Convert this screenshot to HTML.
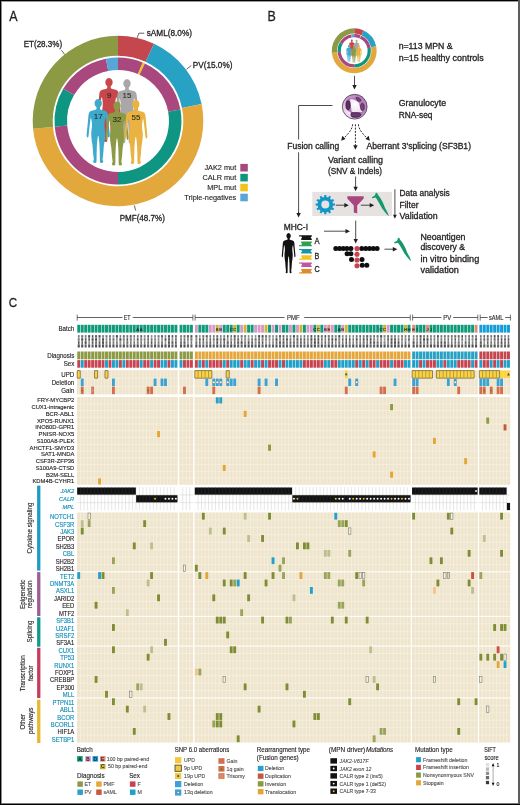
<!DOCTYPE html><html><head><meta charset="utf-8"><style>html,body{margin:0;padding:0;background:#fff;}svg{display:block;font-family:"Liberation Sans",sans-serif;will-change:transform;}</style></head><body>
<svg width="520" height="805" viewBox="0 0 520 805">
<rect x="0.00" y="0.00" width="520.00" height="805.00" fill="#fff"/>
<text x="9.20" y="21.20" font-size="14" fill="#231f20" stroke="#231f20" stroke-width="0.300" textLength="8.30" lengthAdjust="spacingAndGlyphs">A</text>
<path d="M118.00,35.70 A85.3,85.3 0 0 1 154.05,43.69 L145.60,61.82 A65.3,65.3 0 0 0 118.00,55.70 Z" fill="#c4474d"/>
<path d="M154.05,43.69 A85.3,85.3 0 0 1 201.59,103.99 L181.99,107.98 A65.3,65.3 0 0 0 145.60,61.82 Z" fill="#27a2c4"/>
<path d="M201.59,103.99 A85.3,85.3 0 1 1 33.05,128.73 L52.97,126.92 A65.3,65.3 0 1 0 181.99,107.98 Z" fill="#e3a83c"/>
<path d="M33.05,128.73 A85.3,85.3 0 0 1 118.00,35.70 L118.00,55.70 A65.3,65.3 0 0 0 52.97,126.92 Z" fill="#8c9a44"/>
<path d="M118.00,57.50 A63.5,63.5 0 0 1 142.81,62.55 L137.93,74.05 A51,51 0 0 0 118.00,70.00 Z" fill="#a8487f"/>
<path d="M142.81,62.55 A63.5,63.5 0 0 1 144.84,63.45 L139.55,74.78 A51,51 0 0 0 137.93,74.05 Z" fill="#f1c31d"/>
<path d="M144.84,63.45 A63.5,63.5 0 0 1 180.44,109.43 L168.15,111.71 A51,51 0 0 0 139.55,74.78 Z" fill="#a8487f"/>
<path d="M180.44,109.43 A63.5,63.5 0 0 1 118.00,184.50 L118.00,172.00 A51,51 0 0 0 168.15,111.71 Z" fill="#0e9683"/>
<path d="M118.00,184.50 A63.5,63.5 0 0 1 54.76,126.76 L67.21,125.62 A51,51 0 0 0 118.00,172.00 Z" fill="#a8487f"/>
<path d="M54.76,126.76 A63.5,63.5 0 0 1 63.29,88.77 L74.06,95.12 A51,51 0 0 0 67.21,125.62 Z" fill="#0e9683"/>
<path d="M63.29,88.77 A63.5,63.5 0 0 1 105.88,58.67 L108.27,70.94 A51,51 0 0 0 74.06,95.12 Z" fill="#a8487f"/>
<path d="M105.88,58.67 A63.5,63.5 0 0 1 118.00,57.50 L118.00,70.00 A51,51 0 0 0 108.27,70.94 Z" fill="#58a5d8"/>
<path d="M0.00,0.00 L0.88,0.14 L1.70,0.57 L2.41,1.24 L2.96,2.12 L3.32,3.15 L3.45,4.26 L3.35,5.37 L3.03,6.42 L2.51,7.33 L1.83,8.04 L1.60,8.60 L1.70,10.30 L3.20,11.00 L5.40,11.50 L7.00,12.10 L8.20,13.00 L8.90,14.50 L9.20,16.50 L9.50,20.00 L9.90,25.00 L10.40,30.00 L10.80,34.50 L10.95,36.60 L10.60,38.00 L9.90,38.50 L9.30,38.00 L9.05,36.50 L8.60,31.50 L8.00,26.00 L7.40,21.00 L7.10,19.30 L6.60,19.60 L6.10,22.50 L5.85,25.50 L5.95,28.50 L6.35,31.50 L6.60,34.50 L6.40,38.50 L6.00,42.50 L5.40,46.00 L5.15,49.00 L4.90,53.00 L4.50,57.00 L4.10,60.30 L4.50,61.60 L4.80,62.90 L4.20,63.70 L2.60,63.90 L1.70,63.60 L1.55,60.00 L1.50,55.00 L1.35,50.00 L1.20,46.00 L0.80,41.00 L0.40,37.80 L0.00,36.80 L-0.40,37.80 L-0.80,41.00 L-1.20,46.00 L-1.35,50.00 L-1.50,55.00 L-1.55,60.00 L-1.70,63.60 L-2.60,63.90 L-4.20,63.70 L-4.80,62.90 L-4.50,61.60 L-4.10,60.30 L-4.50,57.00 L-4.90,53.00 L-5.15,49.00 L-5.40,46.00 L-6.00,42.50 L-6.40,38.50 L-6.60,34.50 L-6.35,31.50 L-5.95,28.50 L-5.85,25.50 L-6.10,22.50 L-6.60,19.60 L-7.10,19.30 L-7.40,21.00 L-8.00,26.00 L-8.60,31.50 L-9.05,36.50 L-9.30,38.00 L-9.90,38.50 L-10.60,38.00 L-10.95,36.60 L-10.80,34.50 L-10.40,30.00 L-9.90,25.00 L-9.50,20.00 L-9.20,16.50 L-8.90,14.50 L-8.20,13.00 L-7.00,12.10 L-5.40,11.50 L-3.20,11.00 L-1.70,10.30 L-1.60,8.60 L-1.83,8.04 L-2.51,7.33 L-3.03,6.42 L-3.35,5.37 L-3.45,4.26 L-3.32,3.15 L-2.96,2.12 L-2.41,1.24 L-1.70,0.57 L-0.88,0.14 Z" transform="translate(109,78) scale(1.06,1)" fill="#c8474b"/>
<path d="M0.00,0.00 L0.88,0.14 L1.70,0.57 L2.41,1.24 L2.96,2.12 L3.32,3.15 L3.45,4.26 L3.35,5.37 L3.03,6.42 L2.51,7.33 L1.83,8.04 L1.60,8.60 L1.70,10.30 L3.20,11.00 L5.40,11.50 L7.00,12.10 L8.20,13.00 L8.90,14.50 L9.20,16.50 L9.50,20.00 L9.90,25.00 L10.40,30.00 L10.80,34.50 L10.95,36.60 L10.60,38.00 L9.90,38.50 L9.30,38.00 L9.05,36.50 L8.60,31.50 L8.00,26.00 L7.40,21.00 L7.10,19.30 L6.60,19.60 L6.10,22.50 L5.85,25.50 L5.95,28.50 L6.35,31.50 L6.60,34.50 L6.40,38.50 L6.00,42.50 L5.40,46.00 L5.15,49.00 L4.90,53.00 L4.50,57.00 L4.10,60.30 L4.50,61.60 L4.80,62.90 L4.20,63.70 L2.60,63.90 L1.70,63.60 L1.55,60.00 L1.50,55.00 L1.35,50.00 L1.20,46.00 L0.80,41.00 L0.40,37.80 L0.00,36.80 L-0.40,37.80 L-0.80,41.00 L-1.20,46.00 L-1.35,50.00 L-1.50,55.00 L-1.55,60.00 L-1.70,63.60 L-2.60,63.90 L-4.20,63.70 L-4.80,62.90 L-4.50,61.60 L-4.10,60.30 L-4.50,57.00 L-4.90,53.00 L-5.15,49.00 L-5.40,46.00 L-6.00,42.50 L-6.40,38.50 L-6.60,34.50 L-6.35,31.50 L-5.95,28.50 L-5.85,25.50 L-6.10,22.50 L-6.60,19.60 L-7.10,19.30 L-7.40,21.00 L-8.00,26.00 L-8.60,31.50 L-9.05,36.50 L-9.30,38.00 L-9.90,38.50 L-10.60,38.00 L-10.95,36.60 L-10.80,34.50 L-10.40,30.00 L-9.90,25.00 L-9.50,20.00 L-9.20,16.50 L-8.90,14.50 L-8.20,13.00 L-7.00,12.10 L-5.40,11.50 L-3.20,11.00 L-1.70,10.30 L-1.60,8.60 L-1.83,8.04 L-2.51,7.33 L-3.03,6.42 L-3.35,5.37 L-3.45,4.26 L-3.32,3.15 L-2.96,2.12 L-2.41,1.24 L-1.70,0.57 L-0.88,0.14 Z" transform="translate(127,79.2) scale(1.06,1)" fill="#a9a7a7"/>
<path d="M0.00,0.00 L0.88,0.14 L1.70,0.57 L2.41,1.24 L2.96,2.12 L3.32,3.15 L3.45,4.26 L3.35,5.37 L3.03,6.42 L2.51,7.33 L1.83,8.04 L1.60,8.60 L1.70,10.30 L3.20,11.00 L5.40,11.50 L7.00,12.10 L8.20,13.00 L8.90,14.50 L9.20,16.50 L9.50,20.00 L9.90,25.00 L10.40,30.00 L10.80,34.50 L10.95,36.60 L10.60,38.00 L9.90,38.50 L9.30,38.00 L9.05,36.50 L8.60,31.50 L8.00,26.00 L7.40,21.00 L7.10,19.30 L6.60,19.60 L6.10,22.50 L5.85,25.50 L5.95,28.50 L6.35,31.50 L6.60,34.50 L6.40,38.50 L6.00,42.50 L5.40,46.00 L5.15,49.00 L4.90,53.00 L4.50,57.00 L4.10,60.30 L4.50,61.60 L4.80,62.90 L4.20,63.70 L2.60,63.90 L1.70,63.60 L1.55,60.00 L1.50,55.00 L1.35,50.00 L1.20,46.00 L0.80,41.00 L0.40,37.80 L0.00,36.80 L-0.40,37.80 L-0.80,41.00 L-1.20,46.00 L-1.35,50.00 L-1.50,55.00 L-1.55,60.00 L-1.70,63.60 L-2.60,63.90 L-4.20,63.70 L-4.80,62.90 L-4.50,61.60 L-4.10,60.30 L-4.50,57.00 L-4.90,53.00 L-5.15,49.00 L-5.40,46.00 L-6.00,42.50 L-6.40,38.50 L-6.60,34.50 L-6.35,31.50 L-5.95,28.50 L-5.85,25.50 L-6.10,22.50 L-6.60,19.60 L-7.10,19.30 L-7.40,21.00 L-8.00,26.00 L-8.60,31.50 L-9.05,36.50 L-9.30,38.00 L-9.90,38.50 L-10.60,38.00 L-10.95,36.60 L-10.80,34.50 L-10.40,30.00 L-9.90,25.00 L-9.50,20.00 L-9.20,16.50 L-8.90,14.50 L-8.20,13.00 L-7.00,12.10 L-5.40,11.50 L-3.20,11.00 L-1.70,10.30 L-1.60,8.60 L-1.83,8.04 L-2.51,7.33 L-3.03,6.42 L-3.35,5.37 L-3.45,4.26 L-3.32,3.15 L-2.96,2.12 L-2.41,1.24 L-1.70,0.57 L-0.88,0.14 Z" transform="translate(98.2,99) scale(1.06,1)" fill="#3eaacb"/>
<path d="M0.00,0.00 L0.88,0.14 L1.70,0.57 L2.41,1.24 L2.96,2.12 L3.32,3.15 L3.45,4.26 L3.35,5.37 L3.03,6.42 L2.51,7.33 L1.83,8.04 L1.60,8.60 L1.70,10.30 L3.20,11.00 L5.40,11.50 L7.00,12.10 L8.20,13.00 L8.90,14.50 L9.20,16.50 L9.50,20.00 L9.90,25.00 L10.40,30.00 L10.80,34.50 L10.95,36.60 L10.60,38.00 L9.90,38.50 L9.30,38.00 L9.05,36.50 L8.60,31.50 L8.00,26.00 L7.40,21.00 L7.10,19.30 L6.60,19.60 L6.10,22.50 L5.85,25.50 L5.95,28.50 L6.35,31.50 L6.60,34.50 L6.40,38.50 L6.00,42.50 L5.40,46.00 L5.15,49.00 L4.90,53.00 L4.50,57.00 L4.10,60.30 L4.50,61.60 L4.80,62.90 L4.20,63.70 L2.60,63.90 L1.70,63.60 L1.55,60.00 L1.50,55.00 L1.35,50.00 L1.20,46.00 L0.80,41.00 L0.40,37.80 L0.00,36.80 L-0.40,37.80 L-0.80,41.00 L-1.20,46.00 L-1.35,50.00 L-1.50,55.00 L-1.55,60.00 L-1.70,63.60 L-2.60,63.90 L-4.20,63.70 L-4.80,62.90 L-4.50,61.60 L-4.10,60.30 L-4.50,57.00 L-4.90,53.00 L-5.15,49.00 L-5.40,46.00 L-6.00,42.50 L-6.40,38.50 L-6.60,34.50 L-6.35,31.50 L-5.95,28.50 L-5.85,25.50 L-6.10,22.50 L-6.60,19.60 L-7.10,19.30 L-7.40,21.00 L-8.00,26.00 L-8.60,31.50 L-9.05,36.50 L-9.30,38.00 L-9.90,38.50 L-10.60,38.00 L-10.95,36.60 L-10.80,34.50 L-10.40,30.00 L-9.90,25.00 L-9.50,20.00 L-9.20,16.50 L-8.90,14.50 L-8.20,13.00 L-7.00,12.10 L-5.40,11.50 L-3.20,11.00 L-1.70,10.30 L-1.60,8.60 L-1.83,8.04 L-2.51,7.33 L-3.03,6.42 L-3.35,5.37 L-3.45,4.26 L-3.32,3.15 L-2.96,2.12 L-2.41,1.24 L-1.70,0.57 L-0.88,0.14 Z" transform="translate(117,101.5) scale(1.06,1)" fill="#8d9a45"/>
<path d="M0.00,0.00 L0.88,0.14 L1.70,0.57 L2.41,1.24 L2.96,2.12 L3.32,3.15 L3.45,4.26 L3.35,5.37 L3.03,6.42 L2.51,7.33 L1.83,8.04 L1.60,8.60 L1.70,10.30 L3.20,11.00 L5.40,11.50 L7.00,12.10 L8.20,13.00 L8.90,14.50 L9.20,16.50 L9.50,20.00 L9.90,25.00 L10.40,30.00 L10.80,34.50 L10.95,36.60 L10.60,38.00 L9.90,38.50 L9.30,38.00 L9.05,36.50 L8.60,31.50 L8.00,26.00 L7.40,21.00 L7.10,19.30 L6.60,19.60 L6.10,22.50 L5.85,25.50 L5.95,28.50 L6.35,31.50 L6.60,34.50 L6.40,38.50 L6.00,42.50 L5.40,46.00 L5.15,49.00 L4.90,53.00 L4.50,57.00 L4.10,60.30 L4.50,61.60 L4.80,62.90 L4.20,63.70 L2.60,63.90 L1.70,63.60 L1.55,60.00 L1.50,55.00 L1.35,50.00 L1.20,46.00 L0.80,41.00 L0.40,37.80 L0.00,36.80 L-0.40,37.80 L-0.80,41.00 L-1.20,46.00 L-1.35,50.00 L-1.50,55.00 L-1.55,60.00 L-1.70,63.60 L-2.60,63.90 L-4.20,63.70 L-4.80,62.90 L-4.50,61.60 L-4.10,60.30 L-4.50,57.00 L-4.90,53.00 L-5.15,49.00 L-5.40,46.00 L-6.00,42.50 L-6.40,38.50 L-6.60,34.50 L-6.35,31.50 L-5.95,28.50 L-5.85,25.50 L-6.10,22.50 L-6.60,19.60 L-7.10,19.30 L-7.40,21.00 L-8.00,26.00 L-8.60,31.50 L-9.05,36.50 L-9.30,38.00 L-9.90,38.50 L-10.60,38.00 L-10.95,36.60 L-10.80,34.50 L-10.40,30.00 L-9.90,25.00 L-9.50,20.00 L-9.20,16.50 L-8.90,14.50 L-8.20,13.00 L-7.00,12.10 L-5.40,11.50 L-3.20,11.00 L-1.70,10.30 L-1.60,8.60 L-1.83,8.04 L-2.51,7.33 L-3.03,6.42 L-3.35,5.37 L-3.45,4.26 L-3.32,3.15 L-2.96,2.12 L-2.41,1.24 L-1.70,0.57 L-0.88,0.14 Z" transform="translate(135.8,100) scale(1.06,1)" fill="#e9b241"/>
<text x="109.20" y="97.60" font-size="8" fill="#231f20" stroke="#231f20" stroke-width="0.050" text-anchor="middle">9</text>
<text x="127.00" y="98.00" font-size="8" fill="#231f20" stroke="#231f20" stroke-width="0.050" text-anchor="middle">15</text>
<text x="98.20" y="119.20" font-size="8" fill="#231f20" stroke="#231f20" stroke-width="0.050" text-anchor="middle">17</text>
<text x="117.00" y="122.00" font-size="8" fill="#231f20" stroke="#231f20" stroke-width="0.050" text-anchor="middle">32</text>
<text x="136.00" y="120.20" font-size="8" fill="#231f20" stroke="#231f20" stroke-width="0.050" text-anchor="middle">55</text>
<path d="M137.2,37.8 L138.9,33.2 L144.2,33.2" stroke="#231f20" stroke-width="0.7" fill="none"/>
<text x="146.70" y="36.40" font-size="8.4" fill="#231f20" stroke="#231f20" stroke-width="0.294" textLength="45.30" lengthAdjust="spacingAndGlyphs">sAML(8.0%)</text>
<path d="M186.5,69.2 L191.2,65.6" stroke="#231f20" stroke-width="0.7" fill="none"/>
<text x="192.80" y="67.50" font-size="8.4" fill="#231f20" stroke="#231f20" stroke-width="0.294" textLength="39.60" lengthAdjust="spacingAndGlyphs">PV(15.0%)</text>
<path d="M61.4,50.2 L64.8,54.6" stroke="#231f20" stroke-width="0.7" fill="none"/>
<text x="23.70" y="46.80" font-size="8.4" fill="#231f20" stroke="#231f20" stroke-width="0.294" textLength="38.40" lengthAdjust="spacingAndGlyphs">ET(28.3%)</text>
<path d="M134.4,205.4 L135.6,210.5" stroke="#231f20" stroke-width="0.7" fill="none"/>
<text x="119.70" y="220.50" font-size="8.4" fill="#231f20" stroke="#231f20" stroke-width="0.294" textLength="45.20" lengthAdjust="spacingAndGlyphs">PMF(48.7%)</text>
<rect x="240.30" y="163.90" width="7.50" height="7.60" fill="#a8487f"/>
<text x="236.20" y="170.30" font-size="7.4" fill="#231f20" stroke="#231f20" stroke-width="0.130" text-anchor="end" textLength="31.76" lengthAdjust="spacingAndGlyphs">JAK2 mut</text>
<rect x="240.30" y="173.83" width="7.50" height="7.60" fill="#0e9683"/>
<text x="236.20" y="180.23" font-size="7.4" fill="#231f20" stroke="#231f20" stroke-width="0.130" text-anchor="end" textLength="33.79" lengthAdjust="spacingAndGlyphs">CALR mut</text>
<rect x="240.30" y="183.76" width="7.50" height="7.60" fill="#f1c31d"/>
<text x="236.20" y="190.16" font-size="7.4" fill="#231f20" stroke="#231f20" stroke-width="0.130" text-anchor="end" textLength="29.04" lengthAdjust="spacingAndGlyphs">MPL mut</text>
<rect x="240.30" y="193.69" width="7.50" height="7.60" fill="#58a5d8"/>
<text x="236.20" y="200.09" font-size="7.4" fill="#231f20" stroke="#231f20" stroke-width="0.130" text-anchor="end" textLength="51.84" lengthAdjust="spacingAndGlyphs">Triple-negatives</text>
<text x="267.50" y="21.30" font-size="14" fill="#231f20" stroke="#231f20" stroke-width="0.300" textLength="8.30" lengthAdjust="spacingAndGlyphs">B</text>
<g transform="translate(354.2,50.8) scale(0.2635) translate(-118,-121)">
<path d="M118.00,35.70 A85.3,85.3 0 0 1 154.05,43.69 L145.60,61.82 A65.3,65.3 0 0 0 118.00,55.70 Z" fill="#c4474d"/>
<path d="M154.05,43.69 A85.3,85.3 0 0 1 201.59,103.99 L181.99,107.98 A65.3,65.3 0 0 0 145.60,61.82 Z" fill="#27a2c4"/>
<path d="M201.59,103.99 A85.3,85.3 0 1 1 33.05,128.73 L52.97,126.92 A65.3,65.3 0 1 0 181.99,107.98 Z" fill="#e3a83c"/>
<path d="M33.05,128.73 A85.3,85.3 0 0 1 118.00,35.70 L118.00,55.70 A65.3,65.3 0 0 0 52.97,126.92 Z" fill="#8c9a44"/>
<path d="M118.00,57.50 A63.5,63.5 0 0 1 142.81,62.55 L137.93,74.05 A51,51 0 0 0 118.00,70.00 Z" fill="#a8487f"/>
<path d="M142.81,62.55 A63.5,63.5 0 0 1 144.84,63.45 L139.55,74.78 A51,51 0 0 0 137.93,74.05 Z" fill="#f1c31d"/>
<path d="M144.84,63.45 A63.5,63.5 0 0 1 180.44,109.43 L168.15,111.71 A51,51 0 0 0 139.55,74.78 Z" fill="#a8487f"/>
<path d="M180.44,109.43 A63.5,63.5 0 0 1 118.00,184.50 L118.00,172.00 A51,51 0 0 0 168.15,111.71 Z" fill="#0e9683"/>
<path d="M118.00,184.50 A63.5,63.5 0 0 1 54.76,126.76 L67.21,125.62 A51,51 0 0 0 118.00,172.00 Z" fill="#a8487f"/>
<path d="M54.76,126.76 A63.5,63.5 0 0 1 63.29,88.77 L74.06,95.12 A51,51 0 0 0 67.21,125.62 Z" fill="#0e9683"/>
<path d="M63.29,88.77 A63.5,63.5 0 0 1 105.88,58.67 L108.27,70.94 A51,51 0 0 0 74.06,95.12 Z" fill="#a8487f"/>
<path d="M105.88,58.67 A63.5,63.5 0 0 1 118.00,57.50 L118.00,70.00 A51,51 0 0 0 108.27,70.94 Z" fill="#58a5d8"/>
<path d="M0.00,0.00 L0.88,0.14 L1.70,0.57 L2.41,1.24 L2.96,2.12 L3.32,3.15 L3.45,4.26 L3.35,5.37 L3.03,6.42 L2.51,7.33 L1.83,8.04 L1.60,8.60 L1.70,10.30 L3.20,11.00 L5.40,11.50 L7.00,12.10 L8.20,13.00 L8.90,14.50 L9.20,16.50 L9.50,20.00 L9.90,25.00 L10.40,30.00 L10.80,34.50 L10.95,36.60 L10.60,38.00 L9.90,38.50 L9.30,38.00 L9.05,36.50 L8.60,31.50 L8.00,26.00 L7.40,21.00 L7.10,19.30 L6.60,19.60 L6.10,22.50 L5.85,25.50 L5.95,28.50 L6.35,31.50 L6.60,34.50 L6.40,38.50 L6.00,42.50 L5.40,46.00 L5.15,49.00 L4.90,53.00 L4.50,57.00 L4.10,60.30 L4.50,61.60 L4.80,62.90 L4.20,63.70 L2.60,63.90 L1.70,63.60 L1.55,60.00 L1.50,55.00 L1.35,50.00 L1.20,46.00 L0.80,41.00 L0.40,37.80 L0.00,36.80 L-0.40,37.80 L-0.80,41.00 L-1.20,46.00 L-1.35,50.00 L-1.50,55.00 L-1.55,60.00 L-1.70,63.60 L-2.60,63.90 L-4.20,63.70 L-4.80,62.90 L-4.50,61.60 L-4.10,60.30 L-4.50,57.00 L-4.90,53.00 L-5.15,49.00 L-5.40,46.00 L-6.00,42.50 L-6.40,38.50 L-6.60,34.50 L-6.35,31.50 L-5.95,28.50 L-5.85,25.50 L-6.10,22.50 L-6.60,19.60 L-7.10,19.30 L-7.40,21.00 L-8.00,26.00 L-8.60,31.50 L-9.05,36.50 L-9.30,38.00 L-9.90,38.50 L-10.60,38.00 L-10.95,36.60 L-10.80,34.50 L-10.40,30.00 L-9.90,25.00 L-9.50,20.00 L-9.20,16.50 L-8.90,14.50 L-8.20,13.00 L-7.00,12.10 L-5.40,11.50 L-3.20,11.00 L-1.70,10.30 L-1.60,8.60 L-1.83,8.04 L-2.51,7.33 L-3.03,6.42 L-3.35,5.37 L-3.45,4.26 L-3.32,3.15 L-2.96,2.12 L-2.41,1.24 L-1.70,0.57 L-0.88,0.14 Z" transform="translate(109,78) scale(1.06,1)" fill="#c8474b"/>
<path d="M0.00,0.00 L0.88,0.14 L1.70,0.57 L2.41,1.24 L2.96,2.12 L3.32,3.15 L3.45,4.26 L3.35,5.37 L3.03,6.42 L2.51,7.33 L1.83,8.04 L1.60,8.60 L1.70,10.30 L3.20,11.00 L5.40,11.50 L7.00,12.10 L8.20,13.00 L8.90,14.50 L9.20,16.50 L9.50,20.00 L9.90,25.00 L10.40,30.00 L10.80,34.50 L10.95,36.60 L10.60,38.00 L9.90,38.50 L9.30,38.00 L9.05,36.50 L8.60,31.50 L8.00,26.00 L7.40,21.00 L7.10,19.30 L6.60,19.60 L6.10,22.50 L5.85,25.50 L5.95,28.50 L6.35,31.50 L6.60,34.50 L6.40,38.50 L6.00,42.50 L5.40,46.00 L5.15,49.00 L4.90,53.00 L4.50,57.00 L4.10,60.30 L4.50,61.60 L4.80,62.90 L4.20,63.70 L2.60,63.90 L1.70,63.60 L1.55,60.00 L1.50,55.00 L1.35,50.00 L1.20,46.00 L0.80,41.00 L0.40,37.80 L0.00,36.80 L-0.40,37.80 L-0.80,41.00 L-1.20,46.00 L-1.35,50.00 L-1.50,55.00 L-1.55,60.00 L-1.70,63.60 L-2.60,63.90 L-4.20,63.70 L-4.80,62.90 L-4.50,61.60 L-4.10,60.30 L-4.50,57.00 L-4.90,53.00 L-5.15,49.00 L-5.40,46.00 L-6.00,42.50 L-6.40,38.50 L-6.60,34.50 L-6.35,31.50 L-5.95,28.50 L-5.85,25.50 L-6.10,22.50 L-6.60,19.60 L-7.10,19.30 L-7.40,21.00 L-8.00,26.00 L-8.60,31.50 L-9.05,36.50 L-9.30,38.00 L-9.90,38.50 L-10.60,38.00 L-10.95,36.60 L-10.80,34.50 L-10.40,30.00 L-9.90,25.00 L-9.50,20.00 L-9.20,16.50 L-8.90,14.50 L-8.20,13.00 L-7.00,12.10 L-5.40,11.50 L-3.20,11.00 L-1.70,10.30 L-1.60,8.60 L-1.83,8.04 L-2.51,7.33 L-3.03,6.42 L-3.35,5.37 L-3.45,4.26 L-3.32,3.15 L-2.96,2.12 L-2.41,1.24 L-1.70,0.57 L-0.88,0.14 Z" transform="translate(127,79.2) scale(1.06,1)" fill="#a9a7a7"/>
<path d="M0.00,0.00 L0.88,0.14 L1.70,0.57 L2.41,1.24 L2.96,2.12 L3.32,3.15 L3.45,4.26 L3.35,5.37 L3.03,6.42 L2.51,7.33 L1.83,8.04 L1.60,8.60 L1.70,10.30 L3.20,11.00 L5.40,11.50 L7.00,12.10 L8.20,13.00 L8.90,14.50 L9.20,16.50 L9.50,20.00 L9.90,25.00 L10.40,30.00 L10.80,34.50 L10.95,36.60 L10.60,38.00 L9.90,38.50 L9.30,38.00 L9.05,36.50 L8.60,31.50 L8.00,26.00 L7.40,21.00 L7.10,19.30 L6.60,19.60 L6.10,22.50 L5.85,25.50 L5.95,28.50 L6.35,31.50 L6.60,34.50 L6.40,38.50 L6.00,42.50 L5.40,46.00 L5.15,49.00 L4.90,53.00 L4.50,57.00 L4.10,60.30 L4.50,61.60 L4.80,62.90 L4.20,63.70 L2.60,63.90 L1.70,63.60 L1.55,60.00 L1.50,55.00 L1.35,50.00 L1.20,46.00 L0.80,41.00 L0.40,37.80 L0.00,36.80 L-0.40,37.80 L-0.80,41.00 L-1.20,46.00 L-1.35,50.00 L-1.50,55.00 L-1.55,60.00 L-1.70,63.60 L-2.60,63.90 L-4.20,63.70 L-4.80,62.90 L-4.50,61.60 L-4.10,60.30 L-4.50,57.00 L-4.90,53.00 L-5.15,49.00 L-5.40,46.00 L-6.00,42.50 L-6.40,38.50 L-6.60,34.50 L-6.35,31.50 L-5.95,28.50 L-5.85,25.50 L-6.10,22.50 L-6.60,19.60 L-7.10,19.30 L-7.40,21.00 L-8.00,26.00 L-8.60,31.50 L-9.05,36.50 L-9.30,38.00 L-9.90,38.50 L-10.60,38.00 L-10.95,36.60 L-10.80,34.50 L-10.40,30.00 L-9.90,25.00 L-9.50,20.00 L-9.20,16.50 L-8.90,14.50 L-8.20,13.00 L-7.00,12.10 L-5.40,11.50 L-3.20,11.00 L-1.70,10.30 L-1.60,8.60 L-1.83,8.04 L-2.51,7.33 L-3.03,6.42 L-3.35,5.37 L-3.45,4.26 L-3.32,3.15 L-2.96,2.12 L-2.41,1.24 L-1.70,0.57 L-0.88,0.14 Z" transform="translate(98.2,99) scale(1.06,1)" fill="#3eaacb"/>
<path d="M0.00,0.00 L0.88,0.14 L1.70,0.57 L2.41,1.24 L2.96,2.12 L3.32,3.15 L3.45,4.26 L3.35,5.37 L3.03,6.42 L2.51,7.33 L1.83,8.04 L1.60,8.60 L1.70,10.30 L3.20,11.00 L5.40,11.50 L7.00,12.10 L8.20,13.00 L8.90,14.50 L9.20,16.50 L9.50,20.00 L9.90,25.00 L10.40,30.00 L10.80,34.50 L10.95,36.60 L10.60,38.00 L9.90,38.50 L9.30,38.00 L9.05,36.50 L8.60,31.50 L8.00,26.00 L7.40,21.00 L7.10,19.30 L6.60,19.60 L6.10,22.50 L5.85,25.50 L5.95,28.50 L6.35,31.50 L6.60,34.50 L6.40,38.50 L6.00,42.50 L5.40,46.00 L5.15,49.00 L4.90,53.00 L4.50,57.00 L4.10,60.30 L4.50,61.60 L4.80,62.90 L4.20,63.70 L2.60,63.90 L1.70,63.60 L1.55,60.00 L1.50,55.00 L1.35,50.00 L1.20,46.00 L0.80,41.00 L0.40,37.80 L0.00,36.80 L-0.40,37.80 L-0.80,41.00 L-1.20,46.00 L-1.35,50.00 L-1.50,55.00 L-1.55,60.00 L-1.70,63.60 L-2.60,63.90 L-4.20,63.70 L-4.80,62.90 L-4.50,61.60 L-4.10,60.30 L-4.50,57.00 L-4.90,53.00 L-5.15,49.00 L-5.40,46.00 L-6.00,42.50 L-6.40,38.50 L-6.60,34.50 L-6.35,31.50 L-5.95,28.50 L-5.85,25.50 L-6.10,22.50 L-6.60,19.60 L-7.10,19.30 L-7.40,21.00 L-8.00,26.00 L-8.60,31.50 L-9.05,36.50 L-9.30,38.00 L-9.90,38.50 L-10.60,38.00 L-10.95,36.60 L-10.80,34.50 L-10.40,30.00 L-9.90,25.00 L-9.50,20.00 L-9.20,16.50 L-8.90,14.50 L-8.20,13.00 L-7.00,12.10 L-5.40,11.50 L-3.20,11.00 L-1.70,10.30 L-1.60,8.60 L-1.83,8.04 L-2.51,7.33 L-3.03,6.42 L-3.35,5.37 L-3.45,4.26 L-3.32,3.15 L-2.96,2.12 L-2.41,1.24 L-1.70,0.57 L-0.88,0.14 Z" transform="translate(117,101.5) scale(1.06,1)" fill="#8d9a45"/>
<path d="M0.00,0.00 L0.88,0.14 L1.70,0.57 L2.41,1.24 L2.96,2.12 L3.32,3.15 L3.45,4.26 L3.35,5.37 L3.03,6.42 L2.51,7.33 L1.83,8.04 L1.60,8.60 L1.70,10.30 L3.20,11.00 L5.40,11.50 L7.00,12.10 L8.20,13.00 L8.90,14.50 L9.20,16.50 L9.50,20.00 L9.90,25.00 L10.40,30.00 L10.80,34.50 L10.95,36.60 L10.60,38.00 L9.90,38.50 L9.30,38.00 L9.05,36.50 L8.60,31.50 L8.00,26.00 L7.40,21.00 L7.10,19.30 L6.60,19.60 L6.10,22.50 L5.85,25.50 L5.95,28.50 L6.35,31.50 L6.60,34.50 L6.40,38.50 L6.00,42.50 L5.40,46.00 L5.15,49.00 L4.90,53.00 L4.50,57.00 L4.10,60.30 L4.50,61.60 L4.80,62.90 L4.20,63.70 L2.60,63.90 L1.70,63.60 L1.55,60.00 L1.50,55.00 L1.35,50.00 L1.20,46.00 L0.80,41.00 L0.40,37.80 L0.00,36.80 L-0.40,37.80 L-0.80,41.00 L-1.20,46.00 L-1.35,50.00 L-1.50,55.00 L-1.55,60.00 L-1.70,63.60 L-2.60,63.90 L-4.20,63.70 L-4.80,62.90 L-4.50,61.60 L-4.10,60.30 L-4.50,57.00 L-4.90,53.00 L-5.15,49.00 L-5.40,46.00 L-6.00,42.50 L-6.40,38.50 L-6.60,34.50 L-6.35,31.50 L-5.95,28.50 L-5.85,25.50 L-6.10,22.50 L-6.60,19.60 L-7.10,19.30 L-7.40,21.00 L-8.00,26.00 L-8.60,31.50 L-9.05,36.50 L-9.30,38.00 L-9.90,38.50 L-10.60,38.00 L-10.95,36.60 L-10.80,34.50 L-10.40,30.00 L-9.90,25.00 L-9.50,20.00 L-9.20,16.50 L-8.90,14.50 L-8.20,13.00 L-7.00,12.10 L-5.40,11.50 L-3.20,11.00 L-1.70,10.30 L-1.60,8.60 L-1.83,8.04 L-2.51,7.33 L-3.03,6.42 L-3.35,5.37 L-3.45,4.26 L-3.32,3.15 L-2.96,2.12 L-2.41,1.24 L-1.70,0.57 L-0.88,0.14 Z" transform="translate(135.8,100) scale(1.06,1)" fill="#e9b241"/>
</g>
<text x="398.70" y="49.20" font-size="8.4" fill="#231f20" stroke="#231f20" stroke-width="0.294" textLength="53.80" lengthAdjust="spacingAndGlyphs">n=113 MPN &amp;</text>
<text x="398.70" y="60.80" font-size="8.4" fill="#231f20" stroke="#231f20" stroke-width="0.294" textLength="85.10" lengthAdjust="spacingAndGlyphs">n=15 healthy controls</text>
<path d="M354.5,75.8 L354.5,85.6" stroke="#231f20" stroke-width="0.8"/>
<path d="M352.3,85.1 L356.7,85.1 L354.5,89.6 Z" fill="#231f20"/>
<defs><radialGradient id="cellg" cx="0.3" cy="0.7" r="0.85"><stop offset="0" stop-color="#f6ecf6"/><stop offset="0.45" stop-color="#deb9df"/><stop offset="1" stop-color="#a56aab"/></radialGradient><radialGradient id="cellw" cx="0.4" cy="0.4" r="0.7"><stop offset="0" stop-color="#ffffff"/><stop offset="1" stop-color="#eedcef"/></radialGradient></defs>
<circle cx="354.7" cy="106.7" r="12.4" fill="url(#cellg)" stroke="#3b2a3d" stroke-width="0.7"/>
<path d="M346,103 C345.5,99.5 349,97.6 352,97.8 L358,97.1 C361,97.4 362.2,100 362.6,102 C365,103.2 365.8,107 365.1,110 C364.3,113 362.4,114 361.3,115.6 C359.3,117.7 354,118 351.5,117.2 C350.2,116.6 350.6,113.6 350.9,112.6 C349,111.6 346.2,110 345.9,106 Z" fill="#b07ab6"/>
<path d="M350.4,98.9 C352.5,99.3 355.6,99.4 357.3,101.6 C358.3,102.7 359.7,103 359.4,104.6 C359,105.9 360,107.2 362.3,109.2 C363,110.4 362.5,111.8 361.3,111.9 L357.3,112.2 L352.1,112.3 C351.5,111 351.3,109.5 351,107 C350.8,105 350.6,103 350.3,101.4 Z" fill="url(#cellw)"/>
<ellipse cx="348" cy="105.3" rx="2.1" ry="4.5" fill="#5e3064" stroke="#1e1020" stroke-width="0.6"/>
<path d="M351.6,112.7 L358,112.7 C360,112.9 361.2,113.9 360.8,115.5 C360,117 357,117.5 354,117.3 C352,117.1 351.1,116.4 351.2,114.5 Z" fill="#6a3872" stroke="#1e1020" stroke-width="0.6"/>
<ellipse cx="362.4" cy="106.9" rx="1.9" ry="3.7" fill="#7a4482" stroke="#1e1020" stroke-width="0.5"/>
<path d="M356,97.5 C358.5,97.1 360.8,98.6 361,100.6 C360,101.6 358.4,101.3 357.4,100.7 Z" fill="#7a4482" stroke="#1e1020" stroke-width="0.5"/>
<text x="398.75" y="105.50" font-size="8.4" fill="#231f20" stroke="#231f20" stroke-width="0.294" textLength="47.30" lengthAdjust="spacingAndGlyphs">Granulocyte</text>
<text x="398.75" y="117.50" font-size="8.4" fill="#231f20" stroke="#231f20" stroke-width="0.294" textLength="33.70" lengthAdjust="spacingAndGlyphs">RNA-seq</text>
<path d="M332.5,105.5 L298.6,105.5 L298.6,139.5 M298.6,152.3 L298.6,213" stroke="#231f20" stroke-width="0.8" fill="none"/>
<path d="M298.6,212 L298.6,213.6" stroke="#231f20" stroke-width="0.8"/>
<path d="M296.40000000000003,213.1 L300.8,213.1 L298.6,217.6 Z" fill="#231f20"/>
<path d="M352.6,124.3 C352.4,129 349,133 344,138 M355.4,124.3 L355.4,145.5 M358.4,124.3 C358.6,129 362,133 366.8,138" stroke="#231f20" stroke-width="0.95" stroke-dasharray="2,1.3" fill="none"/>
<path d="M341.2,140.8 L342.3,135.8 L345.6,139 Z" fill="#231f20"/>
<path d="M353.2,145.2 L357.6,145.2 L355.4,149.8 Z" fill="#231f20"/>
<path d="M369.8,140.8 L368.7,135.8 L365.4,139 Z" fill="#231f20"/>
<text x="287.30" y="148.80" font-size="8.4" fill="#231f20" stroke="#231f20" stroke-width="0.294" textLength="51.90" lengthAdjust="spacingAndGlyphs">Fusion calling</text>
<text x="366.50" y="148.80" font-size="8.4" fill="#231f20" stroke="#231f20" stroke-width="0.294" textLength="104.50" lengthAdjust="spacingAndGlyphs">Aberrant 3'splicing (SF3B1)</text>
<text x="328.00" y="162.60" font-size="8.4" fill="#231f20" stroke="#231f20" stroke-width="0.294" textLength="55.00" lengthAdjust="spacingAndGlyphs">Variant calling</text>
<text x="328.00" y="173.80" font-size="8.4" fill="#231f20" stroke="#231f20" stroke-width="0.294" textLength="54.00" lengthAdjust="spacingAndGlyphs">(SNV &amp; Indels)</text>
<path d="M355.6,176.5 L355.6,187.3" stroke="#231f20" stroke-width="0.8"/>
<path d="M353.40000000000003,186.8 L357.8,186.8 L355.6,191.3 Z" fill="#231f20"/>
<rect x="312.30" y="191.90" width="79.60" height="24.10" fill="#e6e2e2"/>
<polygon points="323.31,197.16 324.16,196.98 324.29,194.95 326.31,194.95 326.44,196.98 327.29,197.16 328.12,197.44 329.25,195.74 331.00,196.75 330.09,198.57 330.74,199.16 331.33,199.81 333.15,198.90 334.16,200.65 332.46,201.78 332.74,202.61 332.92,203.46 334.95,203.59 334.95,205.61 332.92,205.74 332.74,206.59 332.46,207.42 334.16,208.55 333.15,210.30 331.33,209.39 330.74,210.04 330.09,210.63 331.00,212.45 329.25,213.46 328.12,211.76 327.29,212.04 326.44,212.22 326.31,214.25 324.29,214.25 324.16,212.22 323.31,212.04 322.48,211.76 321.35,213.46 319.60,212.45 320.51,210.63 319.86,210.04 319.27,209.39 317.45,210.30 316.44,208.55 318.14,207.42 317.86,206.59 317.68,205.74 315.65,205.61 315.65,203.59 317.68,203.46 317.86,202.61 318.14,201.78 316.44,200.65 317.45,198.90 319.27,199.81 319.86,199.16 320.51,198.57 319.60,196.75 321.35,195.74 322.48,197.44" fill="#1097c8"/>
<circle cx="325.3" cy="204.6" r="4.0" fill="#e6e2e2"/>
<path d="M335.8,205.2 L344.8,205.2" stroke="#231f20" stroke-width="0.8"/>
<path d="M344.3,203.0 L344.3,207.39999999999998 L348.8,205.2 Z" fill="#231f20"/>
<path d="M347.3,196.2 L363.7,196.2 L363.7,198.6 L357.2,205.5 L357.2,213.5 L353.8,212.6 L353.8,205.5 L347.3,198.6 Z" fill="#a8477f"/>
<path d="M360.8,205.2 L370.2,205.2" stroke="#231f20" stroke-width="0.8"/>
<path d="M369.7,203.0 L369.7,207.39999999999998 L374.2,205.2 Z" fill="#231f20"/>
<path d="M376.3,192.7 L377.1,193.0 L377.8,194.6 L379.3,196.5 L380.7,198.5 L383.1,203 L385.1,208 L387.3,212 L388.7,215.5 L388.1,215.7 L385.0,212.2 L382.0,208.2 L379.2,203.2 L376.6,198.8 L375.6,197.6 L372.3,198.3 L371.8,197.2 L374.8,195.6 L375.3,194.5 L375.5,193.2 Z" fill="#14996c"/>
<path d="M394.9,189.2 L394.9,215.2" stroke="#231f20" stroke-width="0.8"/>
<path d="M393.0,214.7 L396.79999999999995,214.7 L394.9,218.7 Z" fill="#231f20"/>
<text x="399.50" y="196.20" font-size="8.4" fill="#231f20" stroke="#231f20" stroke-width="0.294" textLength="50.20" lengthAdjust="spacingAndGlyphs">Data analysis</text>
<text x="399.50" y="207.70" font-size="8.4" fill="#231f20" stroke="#231f20" stroke-width="0.294" textLength="19.00" lengthAdjust="spacingAndGlyphs">Filter</text>
<text x="399.50" y="218.50" font-size="8.4" fill="#231f20" stroke="#231f20" stroke-width="0.294" textLength="38.20" lengthAdjust="spacingAndGlyphs">Validation</text>
<text x="283.80" y="230.10" font-size="8.4" fill="#231f20" stroke="#231f20" stroke-width="0.294" textLength="24.20" lengthAdjust="spacingAndGlyphs">MHC-I</text>
<path d="M0.00,0.00 L0.88,0.14 L1.70,0.57 L2.41,1.24 L2.96,2.12 L3.32,3.15 L3.45,4.26 L3.35,5.37 L3.03,6.42 L2.51,7.33 L1.83,8.04 L1.60,8.60 L1.70,10.30 L3.20,11.00 L5.40,11.50 L7.00,12.10 L8.20,13.00 L8.90,14.50 L9.20,16.50 L9.50,20.00 L9.90,25.00 L10.40,30.00 L10.80,34.50 L10.95,36.60 L10.60,38.00 L9.90,38.50 L9.30,38.00 L9.05,36.50 L8.60,31.50 L8.00,26.00 L7.40,21.00 L7.10,19.30 L6.60,19.60 L6.10,22.50 L5.85,25.50 L5.95,28.50 L6.35,31.50 L6.60,34.50 L6.40,38.50 L6.00,42.50 L5.40,46.00 L5.15,49.00 L4.90,53.00 L4.50,57.00 L4.10,60.30 L4.50,61.60 L4.80,62.90 L4.20,63.70 L2.60,63.90 L1.70,63.60 L1.55,60.00 L1.50,55.00 L1.35,50.00 L1.20,46.00 L0.80,41.00 L0.40,37.80 L0.00,36.80 L-0.40,37.80 L-0.80,41.00 L-1.20,46.00 L-1.35,50.00 L-1.50,55.00 L-1.55,60.00 L-1.70,63.60 L-2.60,63.90 L-4.20,63.70 L-4.80,62.90 L-4.50,61.60 L-4.10,60.30 L-4.50,57.00 L-4.90,53.00 L-5.15,49.00 L-5.40,46.00 L-6.00,42.50 L-6.40,38.50 L-6.60,34.50 L-6.35,31.50 L-5.95,28.50 L-5.85,25.50 L-6.10,22.50 L-6.60,19.60 L-7.10,19.30 L-7.40,21.00 L-8.00,26.00 L-8.60,31.50 L-9.05,36.50 L-9.30,38.00 L-9.90,38.50 L-10.60,38.00 L-10.95,36.60 L-10.80,34.50 L-10.40,30.00 L-9.90,25.00 L-9.50,20.00 L-9.20,16.50 L-8.90,14.50 L-8.20,13.00 L-7.00,12.10 L-5.40,11.50 L-3.20,11.00 L-1.70,10.30 L-1.60,8.60 L-1.83,8.04 L-2.51,7.33 L-3.03,6.42 L-3.35,5.37 L-3.45,4.26 L-3.32,3.15 L-2.96,2.12 L-2.41,1.24 L-1.70,0.57 L-0.88,0.14 Z" transform="translate(288.6,233.1) scale(0.628)" fill="#111"/>
<path d="M301.2,235.3 L311.8,235.3 L311.8,236.5 C310.3,236.9 310.3,238.3 311.8,238.70000000000002 L311.8,239.9 L301.2,239.9 L301.2,238.6 C302.3,238.20000000000002 302.3,237.0 301.2,236.60000000000002 Z" fill="#141414"/>
<rect x="299.0" y="235.30" width="2.6" height="1.1" fill="#141414"/>
<path d="M301.2,241.6 L311.8,241.6 L311.8,242.79999999999998 C310.3,243.2 310.3,244.6 311.8,245.0 L311.8,246.2 L301.2,246.2 L301.2,244.89999999999998 C302.3,244.5 302.3,243.29999999999998 301.2,242.9 Z" fill="#2f9e4d"/>
<rect x="299.0" y="245.10" width="2.6" height="1.1" fill="#2f9e4d"/>
<path d="M301.2,248.9 L311.8,248.9 L311.8,250.1 C310.3,250.5 310.3,251.9 311.8,252.3 L311.8,253.5 L301.2,253.5 L301.2,252.2 C302.3,251.8 302.3,250.6 301.2,250.20000000000002 Z" fill="#1496b0"/>
<rect x="299.0" y="248.90" width="2.6" height="1.1" fill="#1496b0"/>
<path d="M301.2,255.2 L311.8,255.2 L311.8,256.4 C310.3,256.8 310.3,258.2 311.8,258.6 L311.8,259.8 L301.2,259.8 L301.2,258.5 C302.3,258.1 302.3,256.9 301.2,256.5 Z" fill="#f2c21d"/>
<rect x="299.0" y="258.70" width="2.6" height="1.1" fill="#f2c21d"/>
<path d="M301.2,262.5 L311.8,262.5 L311.8,263.7 C310.3,264.1 310.3,265.5 311.8,265.90000000000003 L311.8,267.1 L301.2,267.1 L301.2,265.8 C302.3,265.40000000000003 302.3,264.2 301.2,263.8 Z" fill="#c2559f"/>
<rect x="299.0" y="262.50" width="2.6" height="1.1" fill="#c2559f"/>
<path d="M301.2,268.9 L311.8,268.9 L311.8,270.09999999999997 C310.3,270.5 310.3,271.9 311.8,272.3 L311.8,273.5 L301.2,273.5 L301.2,272.2 C302.3,271.8 302.3,270.59999999999997 301.2,270.2 Z" fill="#df8a2e"/>
<rect x="299.0" y="272.40" width="2.6" height="1.1" fill="#df8a2e"/>
<text x="314.40" y="244.10" font-size="8.4" fill="#231f20" stroke="#231f20" stroke-width="0.294" textLength="5.10" lengthAdjust="spacingAndGlyphs">A</text>
<text x="314.60" y="258.50" font-size="8.4" fill="#231f20" stroke="#231f20" stroke-width="0.294" textLength="4.80" lengthAdjust="spacingAndGlyphs">B</text>
<text x="314.40" y="272.40" font-size="8.4" fill="#231f20" stroke="#231f20" stroke-width="0.294" textLength="5.20" lengthAdjust="spacingAndGlyphs">C</text>
<path d="M324,231.2 L346.0,231.2" stroke="#231f20" stroke-width="0.8"/>
<path d="M345.5,229.0 L345.5,233.39999999999998 L350,231.2 Z" fill="#231f20"/>
<path d="M355.7,220.6 L355.7,239.4" stroke="#231f20" stroke-width="0.8"/>
<path d="M353.5,238.9 L357.9,238.9 L355.7,243.4 Z" fill="#231f20"/>
<circle cx="335.8" cy="248.5" r="2.5" fill="#0e0e0e"/>
<circle cx="339.5" cy="248.5" r="2.5" fill="#0e0e0e"/>
<circle cx="343.2" cy="248.5" r="2.5" fill="#0e0e0e"/>
<circle cx="346.9" cy="248.5" r="2.5" fill="#0e0e0e"/>
<circle cx="350.9" cy="248.5" r="2.5" fill="#0e0e0e"/>
<circle cx="361.7" cy="248.5" r="2.5" fill="#0e0e0e"/>
<circle cx="365.7" cy="248.5" r="2.5" fill="#0e0e0e"/>
<circle cx="369.5" cy="248.5" r="2.5" fill="#0e0e0e"/>
<circle cx="373.3" cy="248.5" r="2.5" fill="#0e0e0e"/>
<circle cx="377.1" cy="248.5" r="2.5" fill="#0e0e0e"/>
<circle cx="347.1" cy="253.8" r="2.5" fill="#0e0e0e"/>
<circle cx="350.9" cy="253.8" r="2.5" fill="#0e0e0e"/>
<circle cx="351.5" cy="259.4" r="2.5" fill="#0e0e0e"/>
<circle cx="362.0" cy="259.4" r="2.5" fill="#0e0e0e"/>
<circle cx="362.2" cy="265.2" r="2.5" fill="#0e0e0e"/>
<circle cx="366.8" cy="265.2" r="2.5" fill="#0e0e0e"/>
<circle cx="357.0" cy="248.6" r="2.55" fill="#c8434e"/>
<circle cx="357.0" cy="254.3" r="2.55" fill="#c8434e"/>
<circle cx="357.0" cy="260.0" r="2.55" fill="#c8434e"/>
<circle cx="357.0" cy="265.7" r="2.55" fill="#c8434e"/>
<path d="M384.5,249.2 L393.3,249.2" stroke="#231f20" stroke-width="0.8"/>
<path d="M392.8,247.0 L392.8,251.39999999999998 L397.3,249.2 Z" fill="#231f20"/>
<path d="M376.3,192.7 L377.1,193.0 L377.8,194.6 L379.3,196.5 L380.7,198.5 L383.1,203 L385.1,208 L387.3,212 L388.7,215.5 L388.1,215.7 L385.0,212.2 L382.0,208.2 L379.2,203.2 L376.6,198.8 L375.6,197.6 L372.3,198.3 L371.8,197.2 L374.8,195.6 L375.3,194.5 L375.5,193.2 Z" transform="translate(22.3,45.1)" fill="#14996c"/>
<text x="420.40" y="239.50" font-size="8.4" fill="#231f20" stroke="#231f20" stroke-width="0.294" textLength="45.10" lengthAdjust="spacingAndGlyphs">Neoantigen</text>
<text x="420.40" y="250.30" font-size="8.4" fill="#231f20" stroke="#231f20" stroke-width="0.294" textLength="44.60" lengthAdjust="spacingAndGlyphs">discovery &amp;</text>
<text x="420.40" y="261.50" font-size="8.4" fill="#231f20" stroke="#231f20" stroke-width="0.294" textLength="58.90" lengthAdjust="spacingAndGlyphs">in vitro binding</text>
<text x="420.40" y="272.60" font-size="8.4" fill="#231f20" stroke="#231f20" stroke-width="0.294" textLength="38.40" lengthAdjust="spacingAndGlyphs">validation</text>
<text x="8.70" y="306.80" font-size="13.4" fill="#231f20" stroke="#231f20" stroke-width="0.300" textLength="8.40" lengthAdjust="spacingAndGlyphs">C</text>
<path d="M77.0,317.5 L122.5,317.5 M132.8,317.5 L192.9,317.5 M195.1,317.5 L284.6,317.5 M304.2,317.5 L410.2,317.5 M412.6,317.5 L441.4,317.5 M453.2,317.5 L477.8,317.5 M480.2,317.5 L487.7,317.5 M505.2,317.5 L510.5,317.5" stroke="#3a3a3a" stroke-width="0.8" fill="none"/>
<path d="M77.2,314.6 L77.2,320.6 M192.9,314.6 L192.9,320.6 M195.1,314.6 L195.1,320.6 M410.3,314.6 L410.3,320.6 M412.6,314.6 L412.6,320.6 M477.8,314.6 L477.8,320.6 M480.2,314.6 L480.2,320.6 M510.4,314.6 L510.4,320.6" stroke="#3a3a3a" stroke-width="0.7" fill="none"/>
<text x="127.20" y="319.70" font-size="6.8" fill="#2a2a2a" stroke="#2a2a2a" stroke-width="0.130" text-anchor="middle" textLength="6.70" lengthAdjust="spacingAndGlyphs">ET</text>
<text x="293.30" y="319.70" font-size="6.8" fill="#2a2a2a" stroke="#2a2a2a" stroke-width="0.130" text-anchor="middle" textLength="12.60" lengthAdjust="spacingAndGlyphs">PMF</text>
<text x="447.30" y="319.70" font-size="6.8" fill="#2a2a2a" stroke="#2a2a2a" stroke-width="0.130" text-anchor="middle" textLength="8.00" lengthAdjust="spacingAndGlyphs">PV</text>
<text x="496.20" y="319.70" font-size="6.8" fill="#2a2a2a" stroke="#2a2a2a" stroke-width="0.130" text-anchor="middle" textLength="14.30" lengthAdjust="spacingAndGlyphs">sAML</text>
<rect x="77.28" y="324.80" width="2.92" height="7.80" fill="#0f9a79"/>
<rect x="80.75" y="324.80" width="2.92" height="7.80" fill="#0f9a79"/>
<rect x="84.22" y="324.80" width="2.92" height="7.80" fill="#0f9a79"/>
<rect x="87.69" y="324.80" width="2.92" height="7.80" fill="#0f9a79"/>
<rect x="91.16" y="324.80" width="2.92" height="7.80" fill="#0f9a79"/>
<rect x="94.62" y="324.80" width="2.92" height="7.80" fill="#0f9a79"/>
<rect x="98.09" y="324.80" width="2.92" height="7.80" fill="#0f9a79"/>
<rect x="101.57" y="324.80" width="2.92" height="7.80" fill="#0f9a79"/>
<rect x="105.04" y="324.80" width="2.92" height="7.80" fill="#0f9a79"/>
<rect x="108.51" y="324.80" width="2.92" height="7.80" fill="#0f9a79"/>
<rect x="111.98" y="324.80" width="2.92" height="7.80" fill="#0f9a79"/>
<rect x="115.45" y="324.80" width="2.92" height="7.80" fill="#0f9a79"/>
<rect x="118.92" y="324.80" width="2.92" height="7.80" fill="#0f9a79"/>
<rect x="122.39" y="324.80" width="2.92" height="7.80" fill="#0f9a79"/>
<rect x="125.86" y="324.80" width="2.92" height="7.80" fill="#0f9a79"/>
<rect x="129.33" y="324.80" width="2.92" height="7.80" fill="#0f9a79"/>
<rect x="132.80" y="324.80" width="2.92" height="7.80" fill="#0f9a79"/>
<rect x="136.27" y="324.80" width="2.92" height="7.80" fill="#0f9a79"/>
<rect x="139.74" y="324.80" width="2.92" height="7.80" fill="#0f9a79"/>
<rect x="143.21" y="324.80" width="2.92" height="7.80" fill="#0f9a79"/>
<rect x="146.68" y="324.80" width="2.92" height="7.80" fill="#0f9a79"/>
<rect x="150.15" y="324.80" width="2.92" height="7.80" fill="#0f9a79"/>
<rect x="153.62" y="324.80" width="2.92" height="7.80" fill="#0f9a79"/>
<rect x="157.09" y="324.80" width="2.92" height="7.80" fill="#0f9a79"/>
<rect x="160.56" y="324.80" width="2.92" height="7.80" fill="#0f9a79"/>
<rect x="164.03" y="324.80" width="2.92" height="7.80" fill="#0f9a79"/>
<rect x="167.50" y="324.80" width="2.92" height="7.80" fill="#0f9a79"/>
<rect x="170.97" y="324.80" width="2.92" height="7.80" fill="#0f9a79"/>
<rect x="174.44" y="324.80" width="2.92" height="7.80" fill="#0f9a79"/>
<rect x="179.58" y="324.80" width="2.91" height="7.80" fill="#0f9a79"/>
<rect x="183.04" y="324.80" width="2.91" height="7.80" fill="#0f9a79"/>
<rect x="186.50" y="324.80" width="2.91" height="7.80" fill="#0f9a79"/>
<rect x="189.96" y="324.80" width="2.91" height="7.80" fill="#0f9a79"/>
<rect x="194.88" y="324.80" width="2.94" height="7.80" fill="#d49bc8"/>
<rect x="198.36" y="324.80" width="2.94" height="7.80" fill="#0f9a79"/>
<rect x="201.85" y="324.80" width="2.94" height="7.80" fill="#0f9a79"/>
<rect x="205.33" y="324.80" width="2.94" height="7.80" fill="#0f9a79"/>
<rect x="208.82" y="324.80" width="2.94" height="7.80" fill="#d49bc8"/>
<rect x="212.31" y="324.80" width="2.94" height="7.80" fill="#d49bc8"/>
<rect x="215.79" y="324.80" width="2.94" height="7.80" fill="#c8b73c"/>
<rect x="219.28" y="324.80" width="2.94" height="7.80" fill="#d49bc8"/>
<rect x="222.76" y="324.80" width="2.94" height="7.80" fill="#0f9a79"/>
<rect x="226.25" y="324.80" width="2.94" height="7.80" fill="#0f9a79"/>
<rect x="229.73" y="324.80" width="2.94" height="7.80" fill="#0f9a79"/>
<rect x="233.22" y="324.80" width="2.94" height="7.80" fill="#c8b73c"/>
<rect x="236.71" y="324.80" width="2.94" height="7.80" fill="#0f9a79"/>
<rect x="240.19" y="324.80" width="2.94" height="7.80" fill="#d49bc8"/>
<rect x="243.68" y="324.80" width="2.94" height="7.80" fill="#c8b73c"/>
<rect x="247.16" y="324.80" width="2.94" height="7.80" fill="#0f9a79"/>
<rect x="250.65" y="324.80" width="2.94" height="7.80" fill="#0f9a79"/>
<rect x="254.14" y="324.80" width="2.94" height="7.80" fill="#d49bc8"/>
<rect x="257.62" y="324.80" width="2.94" height="7.80" fill="#d49bc8"/>
<rect x="261.11" y="324.80" width="2.94" height="7.80" fill="#d49bc8"/>
<rect x="264.59" y="324.80" width="2.94" height="7.80" fill="#c8b73c"/>
<rect x="268.08" y="324.80" width="2.94" height="7.80" fill="#0f9a79"/>
<rect x="271.57" y="324.80" width="2.94" height="7.80" fill="#d49bc8"/>
<rect x="275.05" y="324.80" width="2.94" height="7.80" fill="#0f9a79"/>
<rect x="278.54" y="324.80" width="2.94" height="7.80" fill="#d49bc8"/>
<rect x="282.02" y="324.80" width="2.94" height="7.80" fill="#0f9a79"/>
<rect x="285.51" y="324.80" width="2.94" height="7.80" fill="#0f9a79"/>
<rect x="289.00" y="324.80" width="2.94" height="7.80" fill="#d49bc8"/>
<rect x="292.48" y="324.80" width="2.94" height="7.80" fill="#0f9a79"/>
<rect x="295.97" y="324.80" width="2.94" height="7.80" fill="#d49bc8"/>
<rect x="299.45" y="324.80" width="2.94" height="7.80" fill="#c8b73c"/>
<rect x="302.94" y="324.80" width="2.94" height="7.80" fill="#0f9a79"/>
<rect x="306.43" y="324.80" width="2.94" height="7.80" fill="#d49bc8"/>
<rect x="309.91" y="324.80" width="2.94" height="7.80" fill="#d49bc8"/>
<rect x="313.40" y="324.80" width="2.94" height="7.80" fill="#0f9a79"/>
<rect x="316.88" y="324.80" width="2.94" height="7.80" fill="#c8b73c"/>
<rect x="320.37" y="324.80" width="2.94" height="7.80" fill="#0f9a79"/>
<rect x="323.86" y="324.80" width="2.94" height="7.80" fill="#d49bc8"/>
<rect x="327.34" y="324.80" width="2.94" height="7.80" fill="#df8c7b"/>
<rect x="330.83" y="324.80" width="2.94" height="7.80" fill="#d49bc8"/>
<rect x="334.31" y="324.80" width="2.94" height="7.80" fill="#0f9a79"/>
<rect x="337.80" y="324.80" width="2.94" height="7.80" fill="#0f9a79"/>
<rect x="341.29" y="324.80" width="2.94" height="7.80" fill="#d49bc8"/>
<rect x="344.77" y="324.80" width="2.94" height="7.80" fill="#c8b73c"/>
<rect x="348.26" y="324.80" width="2.94" height="7.80" fill="#0f9a79"/>
<rect x="351.75" y="324.80" width="2.94" height="7.80" fill="#0f9a79"/>
<rect x="355.23" y="324.80" width="2.94" height="7.80" fill="#0f9a79"/>
<rect x="358.72" y="324.80" width="2.94" height="7.80" fill="#0f9a79"/>
<rect x="362.20" y="324.80" width="2.94" height="7.80" fill="#0f9a79"/>
<rect x="365.69" y="324.80" width="2.94" height="7.80" fill="#0f9a79"/>
<rect x="369.17" y="324.80" width="2.94" height="7.80" fill="#0f9a79"/>
<rect x="372.66" y="324.80" width="2.94" height="7.80" fill="#0f9a79"/>
<rect x="376.15" y="324.80" width="2.94" height="7.80" fill="#0f9a79"/>
<rect x="379.63" y="324.80" width="2.94" height="7.80" fill="#0f9a79"/>
<rect x="383.12" y="324.80" width="2.94" height="7.80" fill="#c8b73c"/>
<rect x="386.61" y="324.80" width="2.94" height="7.80" fill="#d49bc8"/>
<rect x="390.09" y="324.80" width="2.94" height="7.80" fill="#0f9a79"/>
<rect x="393.58" y="324.80" width="2.94" height="7.80" fill="#0f9a79"/>
<rect x="397.06" y="324.80" width="2.94" height="7.80" fill="#0f9a79"/>
<rect x="400.55" y="324.80" width="2.94" height="7.80" fill="#0f9a79"/>
<rect x="404.03" y="324.80" width="2.94" height="7.80" fill="#c8b73c"/>
<rect x="407.52" y="324.80" width="2.94" height="7.80" fill="#0f9a79"/>
<rect x="412.17" y="324.80" width="2.92" height="7.80" fill="#df8c7b"/>
<rect x="415.64" y="324.80" width="2.92" height="7.80" fill="#0f9a79"/>
<rect x="419.11" y="324.80" width="2.92" height="7.80" fill="#0f9a79"/>
<rect x="422.58" y="324.80" width="2.92" height="7.80" fill="#0f9a79"/>
<rect x="426.05" y="324.80" width="2.92" height="7.80" fill="#df8c7b"/>
<rect x="429.51" y="324.80" width="2.92" height="7.80" fill="#0f9a79"/>
<rect x="432.98" y="324.80" width="2.92" height="7.80" fill="#0f9a79"/>
<rect x="436.45" y="324.80" width="2.92" height="7.80" fill="#0f9a79"/>
<rect x="439.92" y="324.80" width="2.92" height="7.80" fill="#0f9a79"/>
<rect x="443.39" y="324.80" width="2.92" height="7.80" fill="#0f9a79"/>
<rect x="446.85" y="324.80" width="2.92" height="7.80" fill="#0f9a79"/>
<rect x="450.32" y="324.80" width="2.92" height="7.80" fill="#0f9a79"/>
<rect x="453.79" y="324.80" width="2.92" height="7.80" fill="#0f9a79"/>
<rect x="457.26" y="324.80" width="2.92" height="7.80" fill="#0f9a79"/>
<rect x="460.73" y="324.80" width="2.92" height="7.80" fill="#0f9a79"/>
<rect x="464.19" y="324.80" width="2.92" height="7.80" fill="#0f9a79"/>
<rect x="467.66" y="324.80" width="2.92" height="7.80" fill="#0f9a79"/>
<rect x="471.13" y="324.80" width="2.92" height="7.80" fill="#0f9a79"/>
<rect x="474.60" y="324.80" width="2.92" height="7.80" fill="#df8c7b"/>
<rect x="479.38" y="324.80" width="2.91" height="7.80" fill="#149cd6"/>
<rect x="482.83" y="324.80" width="2.91" height="7.80" fill="#149cd6"/>
<rect x="486.29" y="324.80" width="2.91" height="7.80" fill="#149cd6"/>
<rect x="489.74" y="324.80" width="2.91" height="7.80" fill="#149cd6"/>
<rect x="493.20" y="324.80" width="2.91" height="7.80" fill="#149cd6"/>
<rect x="496.65" y="324.80" width="2.91" height="7.80" fill="#149cd6"/>
<rect x="500.11" y="324.80" width="2.91" height="7.80" fill="#149cd6"/>
<rect x="503.57" y="324.80" width="2.91" height="7.80" fill="#149cd6"/>
<rect x="507.02" y="324.80" width="2.91" height="7.80" fill="#149cd6"/>
<text x="137.73" y="331.00" font-size="4.2" fill="#2a2a2a" stroke="#2a2a2a" stroke-width="0.130" text-anchor="middle">A</text>
<text x="141.20" y="331.00" font-size="4.2" fill="#2a2a2a" stroke="#2a2a2a" stroke-width="0.130" text-anchor="middle">A</text>
<text x="217.26" y="331.00" font-size="4.2" fill="#2a2a2a" stroke="#2a2a2a" stroke-width="0.130" text-anchor="middle">B</text>
<text x="220.75" y="331.00" font-size="4.2" fill="#2a2a2a" stroke="#2a2a2a" stroke-width="0.130" text-anchor="middle">B</text>
<text x="231.20" y="331.00" font-size="4.2" fill="#2a2a2a" stroke="#2a2a2a" stroke-width="0.130" text-anchor="middle">C</text>
<text x="234.69" y="331.00" font-size="4.2" fill="#2a2a2a" stroke="#2a2a2a" stroke-width="0.130" text-anchor="middle">C</text>
<text x="314.87" y="331.00" font-size="4.2" fill="#2a2a2a" stroke="#2a2a2a" stroke-width="0.130" text-anchor="middle">C</text>
<text x="318.35" y="331.00" font-size="4.2" fill="#2a2a2a" stroke="#2a2a2a" stroke-width="0.130" text-anchor="middle">C</text>
<text x="325.32" y="331.00" font-size="4.2" fill="#2a2a2a" stroke="#2a2a2a" stroke-width="0.130" text-anchor="middle">B</text>
<text x="328.81" y="331.00" font-size="4.2" fill="#2a2a2a" stroke="#2a2a2a" stroke-width="0.130" text-anchor="middle">E</text>
<text x="339.27" y="331.00" font-size="4.2" fill="#2a2a2a" stroke="#2a2a2a" stroke-width="0.130" text-anchor="middle">A</text>
<text x="342.75" y="331.00" font-size="4.2" fill="#2a2a2a" stroke="#2a2a2a" stroke-width="0.130" text-anchor="middle">B</text>
<text x="381.10" y="331.00" font-size="4.2" fill="#2a2a2a" stroke="#2a2a2a" stroke-width="0.130" text-anchor="middle">C</text>
<text x="384.59" y="331.00" font-size="4.2" fill="#2a2a2a" stroke="#2a2a2a" stroke-width="0.130" text-anchor="middle">C</text>
<text x="405.50" y="331.00" font-size="4.2" fill="#2a2a2a" stroke="#2a2a2a" stroke-width="0.130" text-anchor="middle">H</text>
<text x="408.99" y="331.00" font-size="4.2" fill="#2a2a2a" stroke="#2a2a2a" stroke-width="0.130" text-anchor="middle">H</text>
<text x="413.63" y="331.00" font-size="4.2" fill="#2a2a2a" stroke="#2a2a2a" stroke-width="0.130" text-anchor="middle">E</text>
<text x="417.10" y="331.00" font-size="4.2" fill="#2a2a2a" stroke="#2a2a2a" stroke-width="0.130" text-anchor="middle">I</text>
<text x="427.51" y="331.00" font-size="4.2" fill="#2a2a2a" stroke="#2a2a2a" stroke-width="0.130" text-anchor="middle">J</text>
<text x="430.97" y="331.00" font-size="4.2" fill="#2a2a2a" stroke="#2a2a2a" stroke-width="0.130" text-anchor="middle">J</text>
<g><rect x="77.94" y="335.1" width="1.6" height="2.6" fill="#707070"/><rect x="77.73" y="338.2" width="2.0" height="2.6" fill="#7a7a7a"/><rect x="77.94" y="341.2" width="1.6" height="2.7" fill="#505050"/><rect x="77.69" y="344.3" width="2.1" height="3.2" fill="#505050"/><rect x="81.20" y="335.1" width="2.0" height="2.6" fill="#707070"/><rect x="81.20" y="338.2" width="2.0" height="2.6" fill="#505050"/><rect x="81.41" y="341.2" width="1.6" height="2.7" fill="#606060"/><rect x="81.16" y="344.3" width="2.1" height="3.2" fill="#505050"/><rect x="84.77" y="335.1" width="1.8" height="2.6" fill="#7a7a7a"/><rect x="84.88" y="338.2" width="1.6" height="2.6" fill="#505050"/><rect x="84.67" y="341.2" width="2.0" height="2.7" fill="#505050"/><rect x="84.62" y="344.3" width="2.1" height="3.2" fill="#606060"/><rect x="88.14" y="335.1" width="2.0" height="2.6" fill="#505050"/><rect x="88.34" y="338.2" width="1.6" height="2.6" fill="#505050"/><rect x="88.34" y="341.2" width="1.6" height="2.7" fill="#888888"/><rect x="88.09" y="344.3" width="2.1" height="3.2" fill="#606060"/><rect x="91.81" y="335.1" width="1.6" height="2.6" fill="#505050"/><rect x="91.61" y="338.2" width="2.0" height="2.6" fill="#505050"/><rect x="91.71" y="341.2" width="1.8" height="2.7" fill="#606060"/><rect x="91.56" y="344.3" width="2.1" height="3.2" fill="#606060"/><rect x="95.08" y="335.1" width="2.0" height="2.6" fill="#606060"/><rect x="95.08" y="338.2" width="2.0" height="2.6" fill="#505050"/><rect x="95.08" y="341.2" width="2.0" height="2.7" fill="#707070"/><rect x="95.03" y="344.3" width="2.1" height="3.2" fill="#505050"/><rect x="98.55" y="335.1" width="2.0" height="2.6" fill="#505050"/><rect x="98.55" y="338.2" width="2.0" height="2.6" fill="#888888"/><rect x="98.65" y="341.2" width="1.8" height="2.7" fill="#606060"/><rect x="98.50" y="344.3" width="2.1" height="3.2" fill="#505050"/><rect x="102.03" y="335.1" width="2.0" height="2.6" fill="#888888"/><rect x="102.03" y="338.2" width="2.0" height="2.6" fill="#505050"/><rect x="102.03" y="341.2" width="2.0" height="2.7" fill="#505050"/><rect x="101.98" y="344.3" width="2.1" height="3.2" fill="#505050"/><rect x="105.50" y="335.1" width="2.0" height="2.6" fill="#7a7a7a"/><rect x="105.59" y="338.2" width="1.8" height="2.6" fill="#888888"/><rect x="105.59" y="341.2" width="1.8" height="2.7" fill="#707070"/><rect x="105.45" y="344.3" width="2.1" height="3.2" fill="#606060"/><rect x="109.06" y="335.1" width="1.8" height="2.6" fill="#707070"/><rect x="109.17" y="338.2" width="1.6" height="2.6" fill="#606060"/><rect x="109.17" y="341.2" width="1.6" height="2.7" fill="#606060"/><rect x="108.92" y="344.3" width="2.1" height="3.2" fill="#606060"/><rect x="112.53" y="335.1" width="1.8" height="2.6" fill="#888888"/><rect x="112.44" y="338.2" width="2.0" height="2.6" fill="#707070"/><rect x="112.53" y="341.2" width="1.8" height="2.7" fill="#7a7a7a"/><rect x="112.39" y="344.3" width="2.1" height="3.2" fill="#505050"/><rect x="115.91" y="335.1" width="2.0" height="2.6" fill="#505050"/><rect x="116.11" y="338.2" width="1.6" height="2.6" fill="#7a7a7a"/><rect x="116.11" y="341.2" width="1.6" height="2.7" fill="#707070"/><rect x="115.86" y="344.3" width="2.1" height="3.2" fill="#606060"/><rect x="119.58" y="335.1" width="1.6" height="2.6" fill="#7a7a7a"/><rect x="119.38" y="338.2" width="2.0" height="2.6" fill="#505050"/><rect x="119.47" y="341.2" width="1.8" height="2.7" fill="#888888"/><rect x="119.33" y="344.3" width="2.1" height="3.2" fill="#606060"/><rect x="122.84" y="335.1" width="2.0" height="2.6" fill="#707070"/><rect x="122.84" y="338.2" width="2.0" height="2.6" fill="#7a7a7a"/><rect x="123.05" y="341.2" width="1.6" height="2.7" fill="#7a7a7a"/><rect x="122.80" y="344.3" width="2.1" height="3.2" fill="#505050"/><rect x="126.42" y="335.1" width="1.8" height="2.6" fill="#707070"/><rect x="126.52" y="338.2" width="1.6" height="2.6" fill="#505050"/><rect x="126.32" y="341.2" width="2.0" height="2.7" fill="#707070"/><rect x="126.27" y="344.3" width="2.1" height="3.2" fill="#606060"/><rect x="129.79" y="335.1" width="2.0" height="2.6" fill="#707070"/><rect x="129.79" y="338.2" width="2.0" height="2.6" fill="#7a7a7a"/><rect x="129.99" y="341.2" width="1.6" height="2.7" fill="#707070"/><rect x="129.74" y="344.3" width="2.1" height="3.2" fill="#606060"/><rect x="133.46" y="335.1" width="1.6" height="2.6" fill="#707070"/><rect x="133.46" y="338.2" width="1.6" height="2.6" fill="#888888"/><rect x="133.46" y="341.2" width="1.6" height="2.7" fill="#7a7a7a"/><rect x="133.21" y="344.3" width="2.1" height="3.2" fill="#505050"/><rect x="136.93" y="335.1" width="1.6" height="2.6" fill="#707070"/><rect x="136.83" y="338.2" width="1.8" height="2.6" fill="#606060"/><rect x="136.83" y="341.2" width="1.8" height="2.7" fill="#7a7a7a"/><rect x="136.68" y="344.3" width="2.1" height="3.2" fill="#505050"/><rect x="140.30" y="335.1" width="1.8" height="2.6" fill="#606060"/><rect x="140.20" y="338.2" width="2.0" height="2.6" fill="#7a7a7a"/><rect x="140.40" y="341.2" width="1.6" height="2.7" fill="#707070"/><rect x="140.15" y="344.3" width="2.1" height="3.2" fill="#606060"/><rect x="143.77" y="335.1" width="1.8" height="2.6" fill="#888888"/><rect x="143.77" y="338.2" width="1.8" height="2.6" fill="#7a7a7a"/><rect x="143.87" y="341.2" width="1.6" height="2.7" fill="#7a7a7a"/><rect x="143.62" y="344.3" width="2.1" height="3.2" fill="#505050"/><rect x="147.34" y="335.1" width="1.6" height="2.6" fill="#505050"/><rect x="147.34" y="338.2" width="1.6" height="2.6" fill="#606060"/><rect x="147.34" y="341.2" width="1.6" height="2.7" fill="#606060"/><rect x="147.09" y="344.3" width="2.1" height="3.2" fill="#606060"/><rect x="150.81" y="335.1" width="1.6" height="2.6" fill="#888888"/><rect x="150.71" y="338.2" width="1.8" height="2.6" fill="#707070"/><rect x="150.81" y="341.2" width="1.6" height="2.7" fill="#505050"/><rect x="150.56" y="344.3" width="2.1" height="3.2" fill="#606060"/><rect x="154.18" y="335.1" width="1.8" height="2.6" fill="#888888"/><rect x="154.08" y="338.2" width="2.0" height="2.6" fill="#888888"/><rect x="154.28" y="341.2" width="1.6" height="2.7" fill="#707070"/><rect x="154.03" y="344.3" width="2.1" height="3.2" fill="#505050"/><rect x="157.55" y="335.1" width="2.0" height="2.6" fill="#7a7a7a"/><rect x="157.65" y="338.2" width="1.8" height="2.6" fill="#888888"/><rect x="157.65" y="341.2" width="1.8" height="2.7" fill="#7a7a7a"/><rect x="157.50" y="344.3" width="2.1" height="3.2" fill="#606060"/><rect x="161.12" y="335.1" width="1.8" height="2.6" fill="#505050"/><rect x="161.22" y="338.2" width="1.6" height="2.6" fill="#7a7a7a"/><rect x="161.22" y="341.2" width="1.6" height="2.7" fill="#606060"/><rect x="160.97" y="344.3" width="2.1" height="3.2" fill="#505050"/><rect x="164.69" y="335.1" width="1.6" height="2.6" fill="#7a7a7a"/><rect x="164.59" y="338.2" width="1.8" height="2.6" fill="#505050"/><rect x="164.69" y="341.2" width="1.6" height="2.7" fill="#888888"/><rect x="164.44" y="344.3" width="2.1" height="3.2" fill="#505050"/><rect x="167.96" y="335.1" width="2.0" height="2.6" fill="#505050"/><rect x="167.96" y="338.2" width="2.0" height="2.6" fill="#606060"/><rect x="168.06" y="341.2" width="1.8" height="2.7" fill="#505050"/><rect x="167.91" y="344.3" width="2.1" height="3.2" fill="#505050"/><rect x="171.62" y="335.1" width="1.6" height="2.6" fill="#505050"/><rect x="171.53" y="338.2" width="1.8" height="2.6" fill="#888888"/><rect x="171.43" y="341.2" width="2.0" height="2.7" fill="#606060"/><rect x="171.38" y="344.3" width="2.1" height="3.2" fill="#606060"/><rect x="174.90" y="335.1" width="2.0" height="2.6" fill="#707070"/><rect x="175.00" y="338.2" width="1.8" height="2.6" fill="#707070"/><rect x="175.10" y="341.2" width="1.6" height="2.7" fill="#505050"/><rect x="174.85" y="344.3" width="2.1" height="3.2" fill="#606060"/><rect x="180.13" y="335.1" width="1.8" height="2.6" fill="#7a7a7a"/><rect x="180.13" y="338.2" width="1.8" height="2.6" fill="#7a7a7a"/><rect x="180.23" y="341.2" width="1.6" height="2.7" fill="#505050"/><rect x="179.98" y="344.3" width="2.1" height="3.2" fill="#505050"/><rect x="183.49" y="335.1" width="2.0" height="2.6" fill="#707070"/><rect x="183.59" y="338.2" width="1.8" height="2.6" fill="#707070"/><rect x="183.49" y="341.2" width="2.0" height="2.7" fill="#606060"/><rect x="183.44" y="344.3" width="2.1" height="3.2" fill="#505050"/><rect x="186.95" y="335.1" width="2.0" height="2.6" fill="#606060"/><rect x="187.15" y="338.2" width="1.6" height="2.6" fill="#707070"/><rect x="187.15" y="341.2" width="1.6" height="2.7" fill="#888888"/><rect x="186.90" y="344.3" width="2.1" height="3.2" fill="#606060"/><rect x="190.41" y="335.1" width="2.0" height="2.6" fill="#505050"/><rect x="190.41" y="338.2" width="2.0" height="2.6" fill="#707070"/><rect x="190.61" y="341.2" width="1.6" height="2.7" fill="#707070"/><rect x="190.36" y="344.3" width="2.1" height="3.2" fill="#606060"/><rect x="195.34" y="335.1" width="2.0" height="2.6" fill="#606060"/><rect x="195.34" y="338.2" width="2.0" height="2.6" fill="#888888"/><rect x="195.34" y="341.2" width="2.0" height="2.7" fill="#707070"/><rect x="195.29" y="344.3" width="2.1" height="3.2" fill="#505050"/><rect x="199.03" y="335.1" width="1.6" height="2.6" fill="#888888"/><rect x="198.93" y="338.2" width="1.8" height="2.6" fill="#606060"/><rect x="199.03" y="341.2" width="1.6" height="2.7" fill="#606060"/><rect x="198.78" y="344.3" width="2.1" height="3.2" fill="#606060"/><rect x="202.31" y="335.1" width="2.0" height="2.6" fill="#707070"/><rect x="202.51" y="338.2" width="1.6" height="2.6" fill="#505050"/><rect x="202.41" y="341.2" width="1.8" height="2.7" fill="#707070"/><rect x="202.26" y="344.3" width="2.1" height="3.2" fill="#606060"/><rect x="205.80" y="335.1" width="2.0" height="2.6" fill="#606060"/><rect x="205.90" y="338.2" width="1.8" height="2.6" fill="#888888"/><rect x="205.80" y="341.2" width="2.0" height="2.7" fill="#7a7a7a"/><rect x="205.75" y="344.3" width="2.1" height="3.2" fill="#606060"/><rect x="209.49" y="335.1" width="1.6" height="2.6" fill="#707070"/><rect x="209.49" y="338.2" width="1.6" height="2.6" fill="#606060"/><rect x="209.39" y="341.2" width="1.8" height="2.7" fill="#606060"/><rect x="209.24" y="344.3" width="2.1" height="3.2" fill="#505050"/><rect x="212.97" y="335.1" width="1.6" height="2.6" fill="#707070"/><rect x="212.77" y="338.2" width="2.0" height="2.6" fill="#7a7a7a"/><rect x="212.97" y="341.2" width="1.6" height="2.7" fill="#888888"/><rect x="212.72" y="344.3" width="2.1" height="3.2" fill="#606060"/><rect x="216.26" y="335.1" width="2.0" height="2.6" fill="#707070"/><rect x="216.26" y="338.2" width="2.0" height="2.6" fill="#505050"/><rect x="216.36" y="341.2" width="1.8" height="2.7" fill="#505050"/><rect x="216.21" y="344.3" width="2.1" height="3.2" fill="#505050"/><rect x="219.94" y="335.1" width="1.6" height="2.6" fill="#7a7a7a"/><rect x="219.75" y="338.2" width="2.0" height="2.6" fill="#7a7a7a"/><rect x="219.94" y="341.2" width="1.6" height="2.7" fill="#707070"/><rect x="219.69" y="344.3" width="2.1" height="3.2" fill="#606060"/><rect x="223.33" y="335.1" width="1.8" height="2.6" fill="#7a7a7a"/><rect x="223.23" y="338.2" width="2.0" height="2.6" fill="#505050"/><rect x="223.43" y="341.2" width="1.6" height="2.7" fill="#606060"/><rect x="223.18" y="344.3" width="2.1" height="3.2" fill="#505050"/><rect x="226.92" y="335.1" width="1.6" height="2.6" fill="#505050"/><rect x="226.82" y="338.2" width="1.8" height="2.6" fill="#888888"/><rect x="226.72" y="341.2" width="2.0" height="2.7" fill="#606060"/><rect x="226.67" y="344.3" width="2.1" height="3.2" fill="#606060"/><rect x="230.40" y="335.1" width="1.6" height="2.6" fill="#707070"/><rect x="230.20" y="338.2" width="2.0" height="2.6" fill="#888888"/><rect x="230.40" y="341.2" width="1.6" height="2.7" fill="#606060"/><rect x="230.15" y="344.3" width="2.1" height="3.2" fill="#505050"/><rect x="233.69" y="335.1" width="2.0" height="2.6" fill="#505050"/><rect x="233.79" y="338.2" width="1.8" height="2.6" fill="#606060"/><rect x="233.89" y="341.2" width="1.6" height="2.7" fill="#606060"/><rect x="233.64" y="344.3" width="2.1" height="3.2" fill="#505050"/><rect x="237.37" y="335.1" width="1.6" height="2.6" fill="#707070"/><rect x="237.17" y="338.2" width="2.0" height="2.6" fill="#707070"/><rect x="237.17" y="341.2" width="2.0" height="2.7" fill="#606060"/><rect x="237.12" y="344.3" width="2.1" height="3.2" fill="#606060"/><rect x="240.66" y="335.1" width="2.0" height="2.6" fill="#707070"/><rect x="240.86" y="338.2" width="1.6" height="2.6" fill="#7a7a7a"/><rect x="240.66" y="341.2" width="2.0" height="2.7" fill="#505050"/><rect x="240.61" y="344.3" width="2.1" height="3.2" fill="#606060"/><rect x="244.15" y="335.1" width="2.0" height="2.6" fill="#7a7a7a"/><rect x="244.15" y="338.2" width="2.0" height="2.6" fill="#888888"/><rect x="244.15" y="341.2" width="2.0" height="2.7" fill="#7a7a7a"/><rect x="244.10" y="344.3" width="2.1" height="3.2" fill="#505050"/><rect x="247.83" y="335.1" width="1.6" height="2.6" fill="#888888"/><rect x="247.63" y="338.2" width="2.0" height="2.6" fill="#888888"/><rect x="247.73" y="341.2" width="1.8" height="2.7" fill="#505050"/><rect x="247.58" y="344.3" width="2.1" height="3.2" fill="#505050"/><rect x="251.32" y="335.1" width="1.6" height="2.6" fill="#888888"/><rect x="251.32" y="338.2" width="1.6" height="2.6" fill="#606060"/><rect x="251.22" y="341.2" width="1.8" height="2.7" fill="#606060"/><rect x="251.07" y="344.3" width="2.1" height="3.2" fill="#505050"/><rect x="254.80" y="335.1" width="1.6" height="2.6" fill="#888888"/><rect x="254.60" y="338.2" width="2.0" height="2.6" fill="#707070"/><rect x="254.60" y="341.2" width="2.0" height="2.7" fill="#888888"/><rect x="254.55" y="344.3" width="2.1" height="3.2" fill="#606060"/><rect x="258.09" y="335.1" width="2.0" height="2.6" fill="#505050"/><rect x="258.29" y="338.2" width="1.6" height="2.6" fill="#505050"/><rect x="258.19" y="341.2" width="1.8" height="2.7" fill="#606060"/><rect x="258.04" y="344.3" width="2.1" height="3.2" fill="#505050"/><rect x="261.58" y="335.1" width="2.0" height="2.6" fill="#505050"/><rect x="261.58" y="338.2" width="2.0" height="2.6" fill="#7a7a7a"/><rect x="261.78" y="341.2" width="1.6" height="2.7" fill="#505050"/><rect x="261.53" y="344.3" width="2.1" height="3.2" fill="#606060"/><rect x="265.06" y="335.1" width="2.0" height="2.6" fill="#707070"/><rect x="265.06" y="338.2" width="2.0" height="2.6" fill="#888888"/><rect x="265.26" y="341.2" width="1.6" height="2.7" fill="#888888"/><rect x="265.01" y="344.3" width="2.1" height="3.2" fill="#606060"/><rect x="268.55" y="335.1" width="2.0" height="2.6" fill="#7a7a7a"/><rect x="268.65" y="338.2" width="1.8" height="2.6" fill="#888888"/><rect x="268.75" y="341.2" width="1.6" height="2.7" fill="#888888"/><rect x="268.50" y="344.3" width="2.1" height="3.2" fill="#606060"/><rect x="272.24" y="335.1" width="1.6" height="2.6" fill="#888888"/><rect x="272.24" y="338.2" width="1.6" height="2.6" fill="#7a7a7a"/><rect x="272.24" y="341.2" width="1.6" height="2.7" fill="#7a7a7a"/><rect x="271.99" y="344.3" width="2.1" height="3.2" fill="#606060"/><rect x="275.62" y="335.1" width="1.8" height="2.6" fill="#7a7a7a"/><rect x="275.52" y="338.2" width="2.0" height="2.6" fill="#505050"/><rect x="275.62" y="341.2" width="1.8" height="2.7" fill="#606060"/><rect x="275.47" y="344.3" width="2.1" height="3.2" fill="#505050"/><rect x="279.01" y="335.1" width="2.0" height="2.6" fill="#606060"/><rect x="279.21" y="338.2" width="1.6" height="2.6" fill="#707070"/><rect x="279.01" y="341.2" width="2.0" height="2.7" fill="#606060"/><rect x="278.96" y="344.3" width="2.1" height="3.2" fill="#606060"/><rect x="282.59" y="335.1" width="1.8" height="2.6" fill="#606060"/><rect x="282.59" y="338.2" width="1.8" height="2.6" fill="#606060"/><rect x="282.49" y="341.2" width="2.0" height="2.7" fill="#606060"/><rect x="282.44" y="344.3" width="2.1" height="3.2" fill="#505050"/><rect x="286.08" y="335.1" width="1.8" height="2.6" fill="#7a7a7a"/><rect x="285.98" y="338.2" width="2.0" height="2.6" fill="#606060"/><rect x="286.18" y="341.2" width="1.6" height="2.7" fill="#606060"/><rect x="285.93" y="344.3" width="2.1" height="3.2" fill="#606060"/><rect x="289.56" y="335.1" width="1.8" height="2.6" fill="#888888"/><rect x="289.56" y="338.2" width="1.8" height="2.6" fill="#707070"/><rect x="289.56" y="341.2" width="1.8" height="2.7" fill="#606060"/><rect x="289.41" y="344.3" width="2.1" height="3.2" fill="#606060"/><rect x="292.95" y="335.1" width="2.0" height="2.6" fill="#505050"/><rect x="293.15" y="338.2" width="1.6" height="2.6" fill="#707070"/><rect x="292.95" y="341.2" width="2.0" height="2.7" fill="#707070"/><rect x="292.90" y="344.3" width="2.1" height="3.2" fill="#606060"/><rect x="296.44" y="335.1" width="2.0" height="2.6" fill="#7a7a7a"/><rect x="296.54" y="338.2" width="1.8" height="2.6" fill="#505050"/><rect x="296.44" y="341.2" width="2.0" height="2.7" fill="#707070"/><rect x="296.39" y="344.3" width="2.1" height="3.2" fill="#606060"/><rect x="300.12" y="335.1" width="1.6" height="2.6" fill="#888888"/><rect x="300.12" y="338.2" width="1.6" height="2.6" fill="#505050"/><rect x="300.12" y="341.2" width="1.6" height="2.7" fill="#505050"/><rect x="299.87" y="344.3" width="2.1" height="3.2" fill="#606060"/><rect x="303.61" y="335.1" width="1.6" height="2.6" fill="#707070"/><rect x="303.51" y="338.2" width="1.8" height="2.6" fill="#606060"/><rect x="303.51" y="341.2" width="1.8" height="2.7" fill="#606060"/><rect x="303.36" y="344.3" width="2.1" height="3.2" fill="#606060"/><rect x="307.09" y="335.1" width="1.6" height="2.6" fill="#7a7a7a"/><rect x="306.89" y="338.2" width="2.0" height="2.6" fill="#888888"/><rect x="307.00" y="341.2" width="1.8" height="2.7" fill="#888888"/><rect x="306.84" y="344.3" width="2.1" height="3.2" fill="#606060"/><rect x="310.48" y="335.1" width="1.8" height="2.6" fill="#505050"/><rect x="310.38" y="338.2" width="2.0" height="2.6" fill="#505050"/><rect x="310.48" y="341.2" width="1.8" height="2.7" fill="#606060"/><rect x="310.33" y="344.3" width="2.1" height="3.2" fill="#505050"/><rect x="314.07" y="335.1" width="1.6" height="2.6" fill="#707070"/><rect x="313.97" y="338.2" width="1.8" height="2.6" fill="#505050"/><rect x="313.87" y="341.2" width="2.0" height="2.7" fill="#505050"/><rect x="313.82" y="344.3" width="2.1" height="3.2" fill="#505050"/><rect x="317.45" y="335.1" width="1.8" height="2.6" fill="#505050"/><rect x="317.45" y="338.2" width="1.8" height="2.6" fill="#505050"/><rect x="317.45" y="341.2" width="1.8" height="2.7" fill="#505050"/><rect x="317.30" y="344.3" width="2.1" height="3.2" fill="#606060"/><rect x="320.84" y="335.1" width="2.0" height="2.6" fill="#707070"/><rect x="321.04" y="338.2" width="1.6" height="2.6" fill="#606060"/><rect x="320.84" y="341.2" width="2.0" height="2.7" fill="#888888"/><rect x="320.79" y="344.3" width="2.1" height="3.2" fill="#505050"/><rect x="324.52" y="335.1" width="1.6" height="2.6" fill="#505050"/><rect x="324.52" y="338.2" width="1.6" height="2.6" fill="#707070"/><rect x="324.52" y="341.2" width="1.6" height="2.7" fill="#606060"/><rect x="324.27" y="344.3" width="2.1" height="3.2" fill="#606060"/><rect x="327.81" y="335.1" width="2.0" height="2.6" fill="#707070"/><rect x="327.91" y="338.2" width="1.8" height="2.6" fill="#606060"/><rect x="327.81" y="341.2" width="2.0" height="2.7" fill="#7a7a7a"/><rect x="327.76" y="344.3" width="2.1" height="3.2" fill="#505050"/><rect x="331.40" y="335.1" width="1.8" height="2.6" fill="#707070"/><rect x="331.40" y="338.2" width="1.8" height="2.6" fill="#505050"/><rect x="331.50" y="341.2" width="1.6" height="2.7" fill="#505050"/><rect x="331.25" y="344.3" width="2.1" height="3.2" fill="#505050"/><rect x="334.78" y="335.1" width="2.0" height="2.6" fill="#888888"/><rect x="334.78" y="338.2" width="2.0" height="2.6" fill="#606060"/><rect x="334.98" y="341.2" width="1.6" height="2.7" fill="#7a7a7a"/><rect x="334.73" y="344.3" width="2.1" height="3.2" fill="#606060"/><rect x="338.27" y="335.1" width="2.0" height="2.6" fill="#505050"/><rect x="338.27" y="338.2" width="2.0" height="2.6" fill="#7a7a7a"/><rect x="338.27" y="341.2" width="2.0" height="2.7" fill="#7a7a7a"/><rect x="338.22" y="344.3" width="2.1" height="3.2" fill="#606060"/><rect x="341.86" y="335.1" width="1.8" height="2.6" fill="#888888"/><rect x="341.95" y="338.2" width="1.6" height="2.6" fill="#606060"/><rect x="341.95" y="341.2" width="1.6" height="2.7" fill="#707070"/><rect x="341.70" y="344.3" width="2.1" height="3.2" fill="#505050"/><rect x="345.34" y="335.1" width="1.8" height="2.6" fill="#7a7a7a"/><rect x="345.44" y="338.2" width="1.6" height="2.6" fill="#505050"/><rect x="345.44" y="341.2" width="1.6" height="2.7" fill="#505050"/><rect x="345.19" y="344.3" width="2.1" height="3.2" fill="#606060"/><rect x="348.93" y="335.1" width="1.6" height="2.6" fill="#7a7a7a"/><rect x="348.93" y="338.2" width="1.6" height="2.6" fill="#505050"/><rect x="348.73" y="341.2" width="2.0" height="2.7" fill="#7a7a7a"/><rect x="348.68" y="344.3" width="2.1" height="3.2" fill="#606060"/><rect x="352.41" y="335.1" width="1.6" height="2.6" fill="#888888"/><rect x="352.41" y="338.2" width="1.6" height="2.6" fill="#707070"/><rect x="352.41" y="341.2" width="1.6" height="2.7" fill="#7a7a7a"/><rect x="352.16" y="344.3" width="2.1" height="3.2" fill="#505050"/><rect x="355.80" y="335.1" width="1.8" height="2.6" fill="#707070"/><rect x="355.80" y="338.2" width="1.8" height="2.6" fill="#505050"/><rect x="355.80" y="341.2" width="1.8" height="2.7" fill="#707070"/><rect x="355.65" y="344.3" width="2.1" height="3.2" fill="#606060"/><rect x="359.38" y="335.1" width="1.6" height="2.6" fill="#606060"/><rect x="359.38" y="338.2" width="1.6" height="2.6" fill="#707070"/><rect x="359.38" y="341.2" width="1.6" height="2.7" fill="#707070"/><rect x="359.13" y="344.3" width="2.1" height="3.2" fill="#505050"/><rect x="362.77" y="335.1" width="1.8" height="2.6" fill="#707070"/><rect x="362.77" y="338.2" width="1.8" height="2.6" fill="#505050"/><rect x="362.67" y="341.2" width="2.0" height="2.7" fill="#707070"/><rect x="362.62" y="344.3" width="2.1" height="3.2" fill="#505050"/><rect x="366.16" y="335.1" width="2.0" height="2.6" fill="#606060"/><rect x="366.36" y="338.2" width="1.6" height="2.6" fill="#505050"/><rect x="366.36" y="341.2" width="1.6" height="2.7" fill="#707070"/><rect x="366.11" y="344.3" width="2.1" height="3.2" fill="#505050"/><rect x="369.64" y="335.1" width="2.0" height="2.6" fill="#7a7a7a"/><rect x="369.74" y="338.2" width="1.8" height="2.6" fill="#505050"/><rect x="369.74" y="341.2" width="1.8" height="2.7" fill="#505050"/><rect x="369.59" y="344.3" width="2.1" height="3.2" fill="#606060"/><rect x="373.33" y="335.1" width="1.6" height="2.6" fill="#606060"/><rect x="373.13" y="338.2" width="2.0" height="2.6" fill="#888888"/><rect x="373.13" y="341.2" width="2.0" height="2.7" fill="#606060"/><rect x="373.08" y="344.3" width="2.1" height="3.2" fill="#606060"/><rect x="376.62" y="335.1" width="2.0" height="2.6" fill="#707070"/><rect x="376.81" y="338.2" width="1.6" height="2.6" fill="#7a7a7a"/><rect x="376.62" y="341.2" width="2.0" height="2.7" fill="#707070"/><rect x="376.56" y="344.3" width="2.1" height="3.2" fill="#505050"/><rect x="380.10" y="335.1" width="2.0" height="2.6" fill="#505050"/><rect x="380.10" y="338.2" width="2.0" height="2.6" fill="#888888"/><rect x="380.10" y="341.2" width="2.0" height="2.7" fill="#7a7a7a"/><rect x="380.05" y="344.3" width="2.1" height="3.2" fill="#505050"/><rect x="383.59" y="335.1" width="2.0" height="2.6" fill="#888888"/><rect x="383.79" y="338.2" width="1.6" height="2.6" fill="#888888"/><rect x="383.59" y="341.2" width="2.0" height="2.7" fill="#888888"/><rect x="383.54" y="344.3" width="2.1" height="3.2" fill="#505050"/><rect x="387.27" y="335.1" width="1.6" height="2.6" fill="#505050"/><rect x="387.27" y="338.2" width="1.6" height="2.6" fill="#505050"/><rect x="387.27" y="341.2" width="1.6" height="2.7" fill="#707070"/><rect x="387.02" y="344.3" width="2.1" height="3.2" fill="#606060"/><rect x="390.56" y="335.1" width="2.0" height="2.6" fill="#7a7a7a"/><rect x="390.56" y="338.2" width="2.0" height="2.6" fill="#505050"/><rect x="390.56" y="341.2" width="2.0" height="2.7" fill="#505050"/><rect x="390.51" y="344.3" width="2.1" height="3.2" fill="#505050"/><rect x="394.15" y="335.1" width="1.8" height="2.6" fill="#7a7a7a"/><rect x="394.15" y="338.2" width="1.8" height="2.6" fill="#505050"/><rect x="394.05" y="341.2" width="2.0" height="2.7" fill="#505050"/><rect x="394.00" y="344.3" width="2.1" height="3.2" fill="#505050"/><rect x="397.73" y="335.1" width="1.6" height="2.6" fill="#888888"/><rect x="397.63" y="338.2" width="1.8" height="2.6" fill="#7a7a7a"/><rect x="397.63" y="341.2" width="1.8" height="2.7" fill="#505050"/><rect x="397.48" y="344.3" width="2.1" height="3.2" fill="#505050"/><rect x="401.22" y="335.1" width="1.6" height="2.6" fill="#606060"/><rect x="401.12" y="338.2" width="1.8" height="2.6" fill="#7a7a7a"/><rect x="401.22" y="341.2" width="1.6" height="2.7" fill="#7a7a7a"/><rect x="400.97" y="344.3" width="2.1" height="3.2" fill="#606060"/><rect x="404.70" y="335.1" width="1.6" height="2.6" fill="#707070"/><rect x="404.50" y="338.2" width="2.0" height="2.6" fill="#888888"/><rect x="404.70" y="341.2" width="1.6" height="2.7" fill="#606060"/><rect x="404.45" y="344.3" width="2.1" height="3.2" fill="#505050"/><rect x="408.09" y="335.1" width="1.8" height="2.6" fill="#707070"/><rect x="407.99" y="338.2" width="2.0" height="2.6" fill="#707070"/><rect x="408.19" y="341.2" width="1.6" height="2.7" fill="#888888"/><rect x="407.94" y="344.3" width="2.1" height="3.2" fill="#505050"/><rect x="412.83" y="335.1" width="1.6" height="2.6" fill="#7a7a7a"/><rect x="412.73" y="338.2" width="1.8" height="2.6" fill="#7a7a7a"/><rect x="412.63" y="341.2" width="2.0" height="2.7" fill="#505050"/><rect x="412.58" y="344.3" width="2.1" height="3.2" fill="#505050"/><rect x="416.20" y="335.1" width="1.8" height="2.6" fill="#7a7a7a"/><rect x="416.20" y="338.2" width="1.8" height="2.6" fill="#888888"/><rect x="416.20" y="341.2" width="1.8" height="2.7" fill="#7a7a7a"/><rect x="416.05" y="344.3" width="2.1" height="3.2" fill="#606060"/><rect x="419.57" y="335.1" width="2.0" height="2.6" fill="#505050"/><rect x="419.67" y="338.2" width="1.8" height="2.6" fill="#606060"/><rect x="419.67" y="341.2" width="1.8" height="2.7" fill="#505050"/><rect x="419.52" y="344.3" width="2.1" height="3.2" fill="#505050"/><rect x="423.14" y="335.1" width="1.8" height="2.6" fill="#707070"/><rect x="423.04" y="338.2" width="2.0" height="2.6" fill="#505050"/><rect x="423.14" y="341.2" width="1.8" height="2.7" fill="#7a7a7a"/><rect x="422.99" y="344.3" width="2.1" height="3.2" fill="#606060"/><rect x="426.71" y="335.1" width="1.6" height="2.6" fill="#606060"/><rect x="426.51" y="338.2" width="2.0" height="2.6" fill="#505050"/><rect x="426.71" y="341.2" width="1.6" height="2.7" fill="#505050"/><rect x="426.46" y="344.3" width="2.1" height="3.2" fill="#606060"/><rect x="430.17" y="335.1" width="1.6" height="2.6" fill="#707070"/><rect x="429.97" y="338.2" width="2.0" height="2.6" fill="#888888"/><rect x="430.07" y="341.2" width="1.8" height="2.7" fill="#888888"/><rect x="429.92" y="344.3" width="2.1" height="3.2" fill="#505050"/><rect x="433.64" y="335.1" width="1.6" height="2.6" fill="#707070"/><rect x="433.54" y="338.2" width="1.8" height="2.6" fill="#7a7a7a"/><rect x="433.64" y="341.2" width="1.6" height="2.7" fill="#7a7a7a"/><rect x="433.39" y="344.3" width="2.1" height="3.2" fill="#505050"/><rect x="437.01" y="335.1" width="1.8" height="2.6" fill="#505050"/><rect x="437.01" y="338.2" width="1.8" height="2.6" fill="#7a7a7a"/><rect x="436.91" y="341.2" width="2.0" height="2.7" fill="#707070"/><rect x="436.86" y="344.3" width="2.1" height="3.2" fill="#505050"/><rect x="440.48" y="335.1" width="1.8" height="2.6" fill="#7a7a7a"/><rect x="440.48" y="338.2" width="1.8" height="2.6" fill="#7a7a7a"/><rect x="440.48" y="341.2" width="1.8" height="2.7" fill="#505050"/><rect x="440.33" y="344.3" width="2.1" height="3.2" fill="#505050"/><rect x="443.95" y="335.1" width="1.8" height="2.6" fill="#707070"/><rect x="444.05" y="338.2" width="1.6" height="2.6" fill="#7a7a7a"/><rect x="443.85" y="341.2" width="2.0" height="2.7" fill="#606060"/><rect x="443.80" y="344.3" width="2.1" height="3.2" fill="#505050"/><rect x="447.41" y="335.1" width="1.8" height="2.6" fill="#707070"/><rect x="447.51" y="338.2" width="1.6" height="2.6" fill="#707070"/><rect x="447.41" y="341.2" width="1.8" height="2.7" fill="#7a7a7a"/><rect x="447.26" y="344.3" width="2.1" height="3.2" fill="#505050"/><rect x="450.88" y="335.1" width="1.8" height="2.6" fill="#707070"/><rect x="450.98" y="338.2" width="1.6" height="2.6" fill="#707070"/><rect x="450.98" y="341.2" width="1.6" height="2.7" fill="#707070"/><rect x="450.73" y="344.3" width="2.1" height="3.2" fill="#505050"/><rect x="454.25" y="335.1" width="2.0" height="2.6" fill="#707070"/><rect x="454.45" y="338.2" width="1.6" height="2.6" fill="#606060"/><rect x="454.35" y="341.2" width="1.8" height="2.7" fill="#707070"/><rect x="454.20" y="344.3" width="2.1" height="3.2" fill="#606060"/><rect x="457.82" y="335.1" width="1.8" height="2.6" fill="#606060"/><rect x="457.92" y="338.2" width="1.6" height="2.6" fill="#7a7a7a"/><rect x="457.72" y="341.2" width="2.0" height="2.7" fill="#7a7a7a"/><rect x="457.67" y="344.3" width="2.1" height="3.2" fill="#505050"/><rect x="461.39" y="335.1" width="1.6" height="2.6" fill="#505050"/><rect x="461.29" y="338.2" width="1.8" height="2.6" fill="#7a7a7a"/><rect x="461.39" y="341.2" width="1.6" height="2.7" fill="#888888"/><rect x="461.14" y="344.3" width="2.1" height="3.2" fill="#606060"/><rect x="464.85" y="335.1" width="1.6" height="2.6" fill="#7a7a7a"/><rect x="464.85" y="338.2" width="1.6" height="2.6" fill="#888888"/><rect x="464.75" y="341.2" width="1.8" height="2.7" fill="#606060"/><rect x="464.60" y="344.3" width="2.1" height="3.2" fill="#606060"/><rect x="468.22" y="335.1" width="1.8" height="2.6" fill="#707070"/><rect x="468.22" y="338.2" width="1.8" height="2.6" fill="#707070"/><rect x="468.22" y="341.2" width="1.8" height="2.7" fill="#707070"/><rect x="468.07" y="344.3" width="2.1" height="3.2" fill="#505050"/><rect x="471.69" y="335.1" width="1.8" height="2.6" fill="#707070"/><rect x="471.59" y="338.2" width="2.0" height="2.6" fill="#888888"/><rect x="471.79" y="341.2" width="1.6" height="2.7" fill="#7a7a7a"/><rect x="471.54" y="344.3" width="2.1" height="3.2" fill="#505050"/><rect x="475.26" y="335.1" width="1.6" height="2.6" fill="#606060"/><rect x="475.06" y="338.2" width="2.0" height="2.6" fill="#606060"/><rect x="475.06" y="341.2" width="2.0" height="2.7" fill="#7a7a7a"/><rect x="475.01" y="344.3" width="2.1" height="3.2" fill="#505050"/><rect x="479.93" y="335.1" width="1.8" height="2.6" fill="#7a7a7a"/><rect x="479.93" y="338.2" width="1.8" height="2.6" fill="#7a7a7a"/><rect x="479.83" y="341.2" width="2.0" height="2.7" fill="#606060"/><rect x="479.78" y="344.3" width="2.1" height="3.2" fill="#505050"/><rect x="483.48" y="335.1" width="1.6" height="2.6" fill="#606060"/><rect x="483.38" y="338.2" width="1.8" height="2.6" fill="#606060"/><rect x="483.48" y="341.2" width="1.6" height="2.7" fill="#888888"/><rect x="483.23" y="344.3" width="2.1" height="3.2" fill="#606060"/><rect x="486.84" y="335.1" width="1.8" height="2.6" fill="#606060"/><rect x="486.74" y="338.2" width="2.0" height="2.6" fill="#707070"/><rect x="486.94" y="341.2" width="1.6" height="2.7" fill="#606060"/><rect x="486.69" y="344.3" width="2.1" height="3.2" fill="#606060"/><rect x="490.30" y="335.1" width="1.8" height="2.6" fill="#7a7a7a"/><rect x="490.40" y="338.2" width="1.6" height="2.6" fill="#888888"/><rect x="490.30" y="341.2" width="1.8" height="2.7" fill="#7a7a7a"/><rect x="490.15" y="344.3" width="2.1" height="3.2" fill="#606060"/><rect x="493.75" y="335.1" width="1.8" height="2.6" fill="#505050"/><rect x="493.65" y="338.2" width="2.0" height="2.6" fill="#707070"/><rect x="493.85" y="341.2" width="1.6" height="2.7" fill="#707070"/><rect x="493.60" y="344.3" width="2.1" height="3.2" fill="#505050"/><rect x="497.21" y="335.1" width="1.8" height="2.6" fill="#505050"/><rect x="497.21" y="338.2" width="1.8" height="2.6" fill="#606060"/><rect x="497.11" y="341.2" width="2.0" height="2.7" fill="#7a7a7a"/><rect x="497.06" y="344.3" width="2.1" height="3.2" fill="#606060"/><rect x="500.66" y="335.1" width="1.8" height="2.6" fill="#7a7a7a"/><rect x="500.76" y="338.2" width="1.6" height="2.6" fill="#505050"/><rect x="500.66" y="341.2" width="1.8" height="2.7" fill="#505050"/><rect x="500.51" y="344.3" width="2.1" height="3.2" fill="#606060"/><rect x="504.12" y="335.1" width="1.8" height="2.6" fill="#888888"/><rect x="504.22" y="338.2" width="1.6" height="2.6" fill="#505050"/><rect x="504.02" y="341.2" width="2.0" height="2.7" fill="#7a7a7a"/><rect x="503.97" y="344.3" width="2.1" height="3.2" fill="#606060"/><rect x="507.68" y="335.1" width="1.6" height="2.6" fill="#7a7a7a"/><rect x="507.68" y="338.2" width="1.6" height="2.6" fill="#505050"/><rect x="507.68" y="341.2" width="1.6" height="2.7" fill="#606060"/><rect x="507.43" y="344.3" width="2.1" height="3.2" fill="#505050"/></g>
<rect x="77.28" y="351.50" width="2.92" height="7.80" fill="#8c9a44"/>
<rect x="80.75" y="351.50" width="2.92" height="7.80" fill="#8c9a44"/>
<rect x="84.22" y="351.50" width="2.92" height="7.80" fill="#8c9a44"/>
<rect x="87.69" y="351.50" width="2.92" height="7.80" fill="#8c9a44"/>
<rect x="91.16" y="351.50" width="2.92" height="7.80" fill="#8c9a44"/>
<rect x="94.62" y="351.50" width="2.92" height="7.80" fill="#8c9a44"/>
<rect x="98.09" y="351.50" width="2.92" height="7.80" fill="#8c9a44"/>
<rect x="101.57" y="351.50" width="2.92" height="7.80" fill="#8c9a44"/>
<rect x="105.04" y="351.50" width="2.92" height="7.80" fill="#8c9a44"/>
<rect x="108.51" y="351.50" width="2.92" height="7.80" fill="#8c9a44"/>
<rect x="111.98" y="351.50" width="2.92" height="7.80" fill="#8c9a44"/>
<rect x="115.45" y="351.50" width="2.92" height="7.80" fill="#8c9a44"/>
<rect x="118.92" y="351.50" width="2.92" height="7.80" fill="#8c9a44"/>
<rect x="122.39" y="351.50" width="2.92" height="7.80" fill="#8c9a44"/>
<rect x="125.86" y="351.50" width="2.92" height="7.80" fill="#8c9a44"/>
<rect x="129.33" y="351.50" width="2.92" height="7.80" fill="#8c9a44"/>
<rect x="132.80" y="351.50" width="2.92" height="7.80" fill="#8c9a44"/>
<rect x="136.27" y="351.50" width="2.92" height="7.80" fill="#8c9a44"/>
<rect x="139.74" y="351.50" width="2.92" height="7.80" fill="#8c9a44"/>
<rect x="143.21" y="351.50" width="2.92" height="7.80" fill="#8c9a44"/>
<rect x="146.68" y="351.50" width="2.92" height="7.80" fill="#8c9a44"/>
<rect x="150.15" y="351.50" width="2.92" height="7.80" fill="#8c9a44"/>
<rect x="153.62" y="351.50" width="2.92" height="7.80" fill="#8c9a44"/>
<rect x="157.09" y="351.50" width="2.92" height="7.80" fill="#8c9a44"/>
<rect x="160.56" y="351.50" width="2.92" height="7.80" fill="#8c9a44"/>
<rect x="164.03" y="351.50" width="2.92" height="7.80" fill="#8c9a44"/>
<rect x="167.50" y="351.50" width="2.92" height="7.80" fill="#8c9a44"/>
<rect x="170.97" y="351.50" width="2.92" height="7.80" fill="#8c9a44"/>
<rect x="174.44" y="351.50" width="2.92" height="7.80" fill="#8c9a44"/>
<rect x="179.58" y="351.50" width="2.91" height="7.80" fill="#8c9a44"/>
<rect x="183.04" y="351.50" width="2.91" height="7.80" fill="#8c9a44"/>
<rect x="186.50" y="351.50" width="2.91" height="7.80" fill="#8c9a44"/>
<rect x="189.96" y="351.50" width="2.91" height="7.80" fill="#8c9a44"/>
<rect x="194.88" y="351.50" width="2.94" height="7.80" fill="#e5a73c"/>
<rect x="198.36" y="351.50" width="2.94" height="7.80" fill="#e5a73c"/>
<rect x="201.85" y="351.50" width="2.94" height="7.80" fill="#e5a73c"/>
<rect x="205.33" y="351.50" width="2.94" height="7.80" fill="#e5a73c"/>
<rect x="208.82" y="351.50" width="2.94" height="7.80" fill="#e5a73c"/>
<rect x="212.31" y="351.50" width="2.94" height="7.80" fill="#e5a73c"/>
<rect x="215.79" y="351.50" width="2.94" height="7.80" fill="#e5a73c"/>
<rect x="219.28" y="351.50" width="2.94" height="7.80" fill="#e5a73c"/>
<rect x="222.76" y="351.50" width="2.94" height="7.80" fill="#e5a73c"/>
<rect x="226.25" y="351.50" width="2.94" height="7.80" fill="#e5a73c"/>
<rect x="229.73" y="351.50" width="2.94" height="7.80" fill="#e5a73c"/>
<rect x="233.22" y="351.50" width="2.94" height="7.80" fill="#e5a73c"/>
<rect x="236.71" y="351.50" width="2.94" height="7.80" fill="#e5a73c"/>
<rect x="240.19" y="351.50" width="2.94" height="7.80" fill="#e5a73c"/>
<rect x="243.68" y="351.50" width="2.94" height="7.80" fill="#e5a73c"/>
<rect x="247.16" y="351.50" width="2.94" height="7.80" fill="#e5a73c"/>
<rect x="250.65" y="351.50" width="2.94" height="7.80" fill="#e5a73c"/>
<rect x="254.14" y="351.50" width="2.94" height="7.80" fill="#e5a73c"/>
<rect x="257.62" y="351.50" width="2.94" height="7.80" fill="#e5a73c"/>
<rect x="261.11" y="351.50" width="2.94" height="7.80" fill="#e5a73c"/>
<rect x="264.59" y="351.50" width="2.94" height="7.80" fill="#e5a73c"/>
<rect x="268.08" y="351.50" width="2.94" height="7.80" fill="#e5a73c"/>
<rect x="271.57" y="351.50" width="2.94" height="7.80" fill="#e5a73c"/>
<rect x="275.05" y="351.50" width="2.94" height="7.80" fill="#e5a73c"/>
<rect x="278.54" y="351.50" width="2.94" height="7.80" fill="#e5a73c"/>
<rect x="282.02" y="351.50" width="2.94" height="7.80" fill="#e5a73c"/>
<rect x="285.51" y="351.50" width="2.94" height="7.80" fill="#e5a73c"/>
<rect x="289.00" y="351.50" width="2.94" height="7.80" fill="#e5a73c"/>
<rect x="292.48" y="351.50" width="2.94" height="7.80" fill="#e5a73c"/>
<rect x="295.97" y="351.50" width="2.94" height="7.80" fill="#e5a73c"/>
<rect x="299.45" y="351.50" width="2.94" height="7.80" fill="#e5a73c"/>
<rect x="302.94" y="351.50" width="2.94" height="7.80" fill="#e5a73c"/>
<rect x="306.43" y="351.50" width="2.94" height="7.80" fill="#e5a73c"/>
<rect x="309.91" y="351.50" width="2.94" height="7.80" fill="#e5a73c"/>
<rect x="313.40" y="351.50" width="2.94" height="7.80" fill="#e5a73c"/>
<rect x="316.88" y="351.50" width="2.94" height="7.80" fill="#e5a73c"/>
<rect x="320.37" y="351.50" width="2.94" height="7.80" fill="#e5a73c"/>
<rect x="323.86" y="351.50" width="2.94" height="7.80" fill="#e5a73c"/>
<rect x="327.34" y="351.50" width="2.94" height="7.80" fill="#e5a73c"/>
<rect x="330.83" y="351.50" width="2.94" height="7.80" fill="#e5a73c"/>
<rect x="334.31" y="351.50" width="2.94" height="7.80" fill="#e5a73c"/>
<rect x="337.80" y="351.50" width="2.94" height="7.80" fill="#e5a73c"/>
<rect x="341.29" y="351.50" width="2.94" height="7.80" fill="#e5a73c"/>
<rect x="344.77" y="351.50" width="2.94" height="7.80" fill="#e5a73c"/>
<rect x="348.26" y="351.50" width="2.94" height="7.80" fill="#e5a73c"/>
<rect x="351.75" y="351.50" width="2.94" height="7.80" fill="#e5a73c"/>
<rect x="355.23" y="351.50" width="2.94" height="7.80" fill="#e5a73c"/>
<rect x="358.72" y="351.50" width="2.94" height="7.80" fill="#e5a73c"/>
<rect x="362.20" y="351.50" width="2.94" height="7.80" fill="#e5a73c"/>
<rect x="365.69" y="351.50" width="2.94" height="7.80" fill="#e5a73c"/>
<rect x="369.17" y="351.50" width="2.94" height="7.80" fill="#e5a73c"/>
<rect x="372.66" y="351.50" width="2.94" height="7.80" fill="#e5a73c"/>
<rect x="376.15" y="351.50" width="2.94" height="7.80" fill="#e5a73c"/>
<rect x="379.63" y="351.50" width="2.94" height="7.80" fill="#e5a73c"/>
<rect x="383.12" y="351.50" width="2.94" height="7.80" fill="#e5a73c"/>
<rect x="386.61" y="351.50" width="2.94" height="7.80" fill="#e5a73c"/>
<rect x="390.09" y="351.50" width="2.94" height="7.80" fill="#e5a73c"/>
<rect x="393.58" y="351.50" width="2.94" height="7.80" fill="#e5a73c"/>
<rect x="397.06" y="351.50" width="2.94" height="7.80" fill="#e5a73c"/>
<rect x="400.55" y="351.50" width="2.94" height="7.80" fill="#e5a73c"/>
<rect x="404.03" y="351.50" width="2.94" height="7.80" fill="#e5a73c"/>
<rect x="407.52" y="351.50" width="2.94" height="7.80" fill="#e5a73c"/>
<rect x="412.17" y="351.50" width="2.92" height="7.80" fill="#27a2c4"/>
<rect x="415.64" y="351.50" width="2.92" height="7.80" fill="#27a2c4"/>
<rect x="419.11" y="351.50" width="2.92" height="7.80" fill="#27a2c4"/>
<rect x="422.58" y="351.50" width="2.92" height="7.80" fill="#27a2c4"/>
<rect x="426.05" y="351.50" width="2.92" height="7.80" fill="#27a2c4"/>
<rect x="429.51" y="351.50" width="2.92" height="7.80" fill="#27a2c4"/>
<rect x="432.98" y="351.50" width="2.92" height="7.80" fill="#27a2c4"/>
<rect x="436.45" y="351.50" width="2.92" height="7.80" fill="#27a2c4"/>
<rect x="439.92" y="351.50" width="2.92" height="7.80" fill="#27a2c4"/>
<rect x="443.39" y="351.50" width="2.92" height="7.80" fill="#27a2c4"/>
<rect x="446.85" y="351.50" width="2.92" height="7.80" fill="#27a2c4"/>
<rect x="450.32" y="351.50" width="2.92" height="7.80" fill="#27a2c4"/>
<rect x="453.79" y="351.50" width="2.92" height="7.80" fill="#27a2c4"/>
<rect x="457.26" y="351.50" width="2.92" height="7.80" fill="#27a2c4"/>
<rect x="460.73" y="351.50" width="2.92" height="7.80" fill="#27a2c4"/>
<rect x="464.19" y="351.50" width="2.92" height="7.80" fill="#27a2c4"/>
<rect x="467.66" y="351.50" width="2.92" height="7.80" fill="#27a2c4"/>
<rect x="471.13" y="351.50" width="2.92" height="7.80" fill="#27a2c4"/>
<rect x="474.60" y="351.50" width="2.92" height="7.80" fill="#27a2c4"/>
<rect x="479.38" y="351.50" width="2.91" height="7.80" fill="#c4474d"/>
<rect x="482.83" y="351.50" width="2.91" height="7.80" fill="#c4474d"/>
<rect x="486.29" y="351.50" width="2.91" height="7.80" fill="#c4474d"/>
<rect x="489.74" y="351.50" width="2.91" height="7.80" fill="#c4474d"/>
<rect x="493.20" y="351.50" width="2.91" height="7.80" fill="#c4474d"/>
<rect x="496.65" y="351.50" width="2.91" height="7.80" fill="#c4474d"/>
<rect x="500.11" y="351.50" width="2.91" height="7.80" fill="#c4474d"/>
<rect x="503.57" y="351.50" width="2.91" height="7.80" fill="#c4474d"/>
<rect x="507.02" y="351.50" width="2.91" height="7.80" fill="#c4474d"/>
<rect x="77.28" y="360.10" width="2.92" height="7.60" fill="#c8434f"/>
<rect x="80.75" y="360.10" width="2.92" height="7.60" fill="#1ea0c9"/>
<rect x="84.22" y="360.10" width="2.92" height="7.60" fill="#c8434f"/>
<rect x="87.69" y="360.10" width="2.92" height="7.60" fill="#c8434f"/>
<rect x="91.16" y="360.10" width="2.92" height="7.60" fill="#c8434f"/>
<rect x="94.62" y="360.10" width="2.92" height="7.60" fill="#c8434f"/>
<rect x="98.09" y="360.10" width="2.92" height="7.60" fill="#c8434f"/>
<rect x="101.57" y="360.10" width="2.92" height="7.60" fill="#c8434f"/>
<rect x="105.04" y="360.10" width="2.92" height="7.60" fill="#1ea0c9"/>
<rect x="108.51" y="360.10" width="2.92" height="7.60" fill="#c8434f"/>
<rect x="111.98" y="360.10" width="2.92" height="7.60" fill="#1ea0c9"/>
<rect x="115.45" y="360.10" width="2.92" height="7.60" fill="#1ea0c9"/>
<rect x="118.92" y="360.10" width="2.92" height="7.60" fill="#c8434f"/>
<rect x="122.39" y="360.10" width="2.92" height="7.60" fill="#1ea0c9"/>
<rect x="125.86" y="360.10" width="2.92" height="7.60" fill="#c8434f"/>
<rect x="129.33" y="360.10" width="2.92" height="7.60" fill="#c8434f"/>
<rect x="132.80" y="360.10" width="2.92" height="7.60" fill="#c8434f"/>
<rect x="136.27" y="360.10" width="2.92" height="7.60" fill="#c8434f"/>
<rect x="139.74" y="360.10" width="2.92" height="7.60" fill="#1ea0c9"/>
<rect x="143.21" y="360.10" width="2.92" height="7.60" fill="#c8434f"/>
<rect x="146.68" y="360.10" width="2.92" height="7.60" fill="#c8434f"/>
<rect x="150.15" y="360.10" width="2.92" height="7.60" fill="#1ea0c9"/>
<rect x="153.62" y="360.10" width="2.92" height="7.60" fill="#c8434f"/>
<rect x="157.09" y="360.10" width="2.92" height="7.60" fill="#c8434f"/>
<rect x="160.56" y="360.10" width="2.92" height="7.60" fill="#1ea0c9"/>
<rect x="164.03" y="360.10" width="2.92" height="7.60" fill="#1ea0c9"/>
<rect x="167.50" y="360.10" width="2.92" height="7.60" fill="#c8434f"/>
<rect x="170.97" y="360.10" width="2.92" height="7.60" fill="#1ea0c9"/>
<rect x="174.44" y="360.10" width="2.92" height="7.60" fill="#1ea0c9"/>
<rect x="179.58" y="360.10" width="2.91" height="7.60" fill="#1ea0c9"/>
<rect x="183.04" y="360.10" width="2.91" height="7.60" fill="#c8434f"/>
<rect x="186.50" y="360.10" width="2.91" height="7.60" fill="#c8434f"/>
<rect x="189.96" y="360.10" width="2.91" height="7.60" fill="#c8434f"/>
<rect x="194.88" y="360.10" width="2.94" height="7.60" fill="#c8434f"/>
<rect x="198.36" y="360.10" width="2.94" height="7.60" fill="#1ea0c9"/>
<rect x="201.85" y="360.10" width="2.94" height="7.60" fill="#c8434f"/>
<rect x="205.33" y="360.10" width="2.94" height="7.60" fill="#1ea0c9"/>
<rect x="208.82" y="360.10" width="2.94" height="7.60" fill="#c8434f"/>
<rect x="212.31" y="360.10" width="2.94" height="7.60" fill="#c8434f"/>
<rect x="215.79" y="360.10" width="2.94" height="7.60" fill="#c8434f"/>
<rect x="219.28" y="360.10" width="2.94" height="7.60" fill="#c8434f"/>
<rect x="222.76" y="360.10" width="2.94" height="7.60" fill="#1ea0c9"/>
<rect x="226.25" y="360.10" width="2.94" height="7.60" fill="#c8434f"/>
<rect x="229.73" y="360.10" width="2.94" height="7.60" fill="#1ea0c9"/>
<rect x="233.22" y="360.10" width="2.94" height="7.60" fill="#1ea0c9"/>
<rect x="236.71" y="360.10" width="2.94" height="7.60" fill="#1ea0c9"/>
<rect x="240.19" y="360.10" width="2.94" height="7.60" fill="#c8434f"/>
<rect x="243.68" y="360.10" width="2.94" height="7.60" fill="#1ea0c9"/>
<rect x="247.16" y="360.10" width="2.94" height="7.60" fill="#1ea0c9"/>
<rect x="250.65" y="360.10" width="2.94" height="7.60" fill="#c8434f"/>
<rect x="254.14" y="360.10" width="2.94" height="7.60" fill="#1ea0c9"/>
<rect x="257.62" y="360.10" width="2.94" height="7.60" fill="#1ea0c9"/>
<rect x="261.11" y="360.10" width="2.94" height="7.60" fill="#c8434f"/>
<rect x="264.59" y="360.10" width="2.94" height="7.60" fill="#1ea0c9"/>
<rect x="268.08" y="360.10" width="2.94" height="7.60" fill="#c8434f"/>
<rect x="271.57" y="360.10" width="2.94" height="7.60" fill="#c8434f"/>
<rect x="275.05" y="360.10" width="2.94" height="7.60" fill="#c8434f"/>
<rect x="278.54" y="360.10" width="2.94" height="7.60" fill="#1ea0c9"/>
<rect x="282.02" y="360.10" width="2.94" height="7.60" fill="#c8434f"/>
<rect x="285.51" y="360.10" width="2.94" height="7.60" fill="#1ea0c9"/>
<rect x="289.00" y="360.10" width="2.94" height="7.60" fill="#1ea0c9"/>
<rect x="292.48" y="360.10" width="2.94" height="7.60" fill="#1ea0c9"/>
<rect x="295.97" y="360.10" width="2.94" height="7.60" fill="#1ea0c9"/>
<rect x="299.45" y="360.10" width="2.94" height="7.60" fill="#1ea0c9"/>
<rect x="302.94" y="360.10" width="2.94" height="7.60" fill="#c8434f"/>
<rect x="306.43" y="360.10" width="2.94" height="7.60" fill="#c8434f"/>
<rect x="309.91" y="360.10" width="2.94" height="7.60" fill="#c8434f"/>
<rect x="313.40" y="360.10" width="2.94" height="7.60" fill="#c8434f"/>
<rect x="316.88" y="360.10" width="2.94" height="7.60" fill="#c8434f"/>
<rect x="320.37" y="360.10" width="2.94" height="7.60" fill="#c8434f"/>
<rect x="323.86" y="360.10" width="2.94" height="7.60" fill="#1ea0c9"/>
<rect x="327.34" y="360.10" width="2.94" height="7.60" fill="#1ea0c9"/>
<rect x="330.83" y="360.10" width="2.94" height="7.60" fill="#c8434f"/>
<rect x="334.31" y="360.10" width="2.94" height="7.60" fill="#c8434f"/>
<rect x="337.80" y="360.10" width="2.94" height="7.60" fill="#1ea0c9"/>
<rect x="341.29" y="360.10" width="2.94" height="7.60" fill="#1ea0c9"/>
<rect x="344.77" y="360.10" width="2.94" height="7.60" fill="#1ea0c9"/>
<rect x="348.26" y="360.10" width="2.94" height="7.60" fill="#1ea0c9"/>
<rect x="351.75" y="360.10" width="2.94" height="7.60" fill="#1ea0c9"/>
<rect x="355.23" y="360.10" width="2.94" height="7.60" fill="#c8434f"/>
<rect x="358.72" y="360.10" width="2.94" height="7.60" fill="#1ea0c9"/>
<rect x="362.20" y="360.10" width="2.94" height="7.60" fill="#c8434f"/>
<rect x="365.69" y="360.10" width="2.94" height="7.60" fill="#1ea0c9"/>
<rect x="369.17" y="360.10" width="2.94" height="7.60" fill="#c8434f"/>
<rect x="372.66" y="360.10" width="2.94" height="7.60" fill="#c8434f"/>
<rect x="376.15" y="360.10" width="2.94" height="7.60" fill="#1ea0c9"/>
<rect x="379.63" y="360.10" width="2.94" height="7.60" fill="#c8434f"/>
<rect x="383.12" y="360.10" width="2.94" height="7.60" fill="#c8434f"/>
<rect x="386.61" y="360.10" width="2.94" height="7.60" fill="#c8434f"/>
<rect x="390.09" y="360.10" width="2.94" height="7.60" fill="#1ea0c9"/>
<rect x="393.58" y="360.10" width="2.94" height="7.60" fill="#c8434f"/>
<rect x="397.06" y="360.10" width="2.94" height="7.60" fill="#c8434f"/>
<rect x="400.55" y="360.10" width="2.94" height="7.60" fill="#c8434f"/>
<rect x="404.03" y="360.10" width="2.94" height="7.60" fill="#1ea0c9"/>
<rect x="407.52" y="360.10" width="2.94" height="7.60" fill="#1ea0c9"/>
<rect x="412.17" y="360.10" width="2.92" height="7.60" fill="#1ea0c9"/>
<rect x="415.64" y="360.10" width="2.92" height="7.60" fill="#1ea0c9"/>
<rect x="419.11" y="360.10" width="2.92" height="7.60" fill="#c8434f"/>
<rect x="422.58" y="360.10" width="2.92" height="7.60" fill="#1ea0c9"/>
<rect x="426.05" y="360.10" width="2.92" height="7.60" fill="#c8434f"/>
<rect x="429.51" y="360.10" width="2.92" height="7.60" fill="#c8434f"/>
<rect x="432.98" y="360.10" width="2.92" height="7.60" fill="#c8434f"/>
<rect x="436.45" y="360.10" width="2.92" height="7.60" fill="#1ea0c9"/>
<rect x="439.92" y="360.10" width="2.92" height="7.60" fill="#1ea0c9"/>
<rect x="443.39" y="360.10" width="2.92" height="7.60" fill="#c8434f"/>
<rect x="446.85" y="360.10" width="2.92" height="7.60" fill="#1ea0c9"/>
<rect x="450.32" y="360.10" width="2.92" height="7.60" fill="#1ea0c9"/>
<rect x="453.79" y="360.10" width="2.92" height="7.60" fill="#1ea0c9"/>
<rect x="457.26" y="360.10" width="2.92" height="7.60" fill="#c8434f"/>
<rect x="460.73" y="360.10" width="2.92" height="7.60" fill="#c8434f"/>
<rect x="464.19" y="360.10" width="2.92" height="7.60" fill="#c8434f"/>
<rect x="467.66" y="360.10" width="2.92" height="7.60" fill="#c8434f"/>
<rect x="471.13" y="360.10" width="2.92" height="7.60" fill="#1ea0c9"/>
<rect x="474.60" y="360.10" width="2.92" height="7.60" fill="#c8434f"/>
<rect x="479.38" y="360.10" width="2.91" height="7.60" fill="#1ea0c9"/>
<rect x="482.83" y="360.10" width="2.91" height="7.60" fill="#c8434f"/>
<rect x="486.29" y="360.10" width="2.91" height="7.60" fill="#c8434f"/>
<rect x="489.74" y="360.10" width="2.91" height="7.60" fill="#1ea0c9"/>
<rect x="493.20" y="360.10" width="2.91" height="7.60" fill="#c8434f"/>
<rect x="496.65" y="360.10" width="2.91" height="7.60" fill="#1ea0c9"/>
<rect x="500.11" y="360.10" width="2.91" height="7.60" fill="#c8434f"/>
<rect x="503.57" y="360.10" width="2.91" height="7.60" fill="#1ea0c9"/>
<rect x="507.02" y="360.10" width="2.91" height="7.60" fill="#1ea0c9"/>
<rect x="77.00" y="370.20" width="100.63" height="24.20" fill="#efe5cd"/>
<path d="M80.47,370.20V394.40M83.94,370.20V394.40M87.41,370.20V394.40M90.88,370.20V394.40M94.35,370.20V394.40M97.82,370.20V394.40M101.29,370.20V394.40M104.76,370.20V394.40M108.23,370.20V394.40M111.70,370.20V394.40M115.17,370.20V394.40M118.64,370.20V394.40M122.11,370.20V394.40M125.58,370.20V394.40M129.05,370.20V394.40M132.52,370.20V394.40M135.99,370.20V394.40M139.46,370.20V394.40M142.93,370.20V394.40M146.40,370.20V394.40M149.87,370.20V394.40M153.34,370.20V394.40M156.81,370.20V394.40M160.28,370.20V394.40M163.75,370.20V394.40M167.22,370.20V394.40M170.69,370.20V394.40M174.16,370.20V394.40M77.00,378.27H177.63M77.00,386.33H177.63" stroke="#f8f3e7" stroke-width="0.6" fill="none"/>
<rect x="179.30" y="370.20" width="13.84" height="24.20" fill="#efe5cd"/>
<path d="M182.76,370.20V394.40M186.22,370.20V394.40M189.68,370.20V394.40M179.30,378.27H193.14M179.30,386.33H193.14" stroke="#f8f3e7" stroke-width="0.6" fill="none"/>
<rect x="194.60" y="370.20" width="216.13" height="24.20" fill="#efe5cd"/>
<path d="M198.09,370.20V394.40M201.57,370.20V394.40M205.06,370.20V394.40M208.54,370.20V394.40M212.03,370.20V394.40M215.52,370.20V394.40M219.00,370.20V394.40M222.49,370.20V394.40M225.97,370.20V394.40M229.46,370.20V394.40M232.95,370.20V394.40M236.43,370.20V394.40M239.92,370.20V394.40M243.40,370.20V394.40M246.89,370.20V394.40M250.38,370.20V394.40M253.86,370.20V394.40M257.35,370.20V394.40M260.83,370.20V394.40M264.32,370.20V394.40M267.81,370.20V394.40M271.29,370.20V394.40M274.78,370.20V394.40M278.26,370.20V394.40M281.75,370.20V394.40M285.24,370.20V394.40M288.72,370.20V394.40M292.21,370.20V394.40M295.69,370.20V394.40M299.18,370.20V394.40M302.67,370.20V394.40M306.15,370.20V394.40M309.64,370.20V394.40M313.12,370.20V394.40M316.61,370.20V394.40M320.10,370.20V394.40M323.58,370.20V394.40M327.07,370.20V394.40M330.55,370.20V394.40M334.04,370.20V394.40M337.53,370.20V394.40M341.01,370.20V394.40M344.50,370.20V394.40M347.98,370.20V394.40M351.47,370.20V394.40M354.96,370.20V394.40M358.44,370.20V394.40M361.93,370.20V394.40M365.41,370.20V394.40M368.90,370.20V394.40M372.39,370.20V394.40M375.87,370.20V394.40M379.36,370.20V394.40M382.84,370.20V394.40M386.33,370.20V394.40M389.82,370.20V394.40M393.30,370.20V394.40M396.79,370.20V394.40M400.27,370.20V394.40M403.76,370.20V394.40M407.25,370.20V394.40M194.60,378.27H410.73M194.60,386.33H410.73" stroke="#f8f3e7" stroke-width="0.6" fill="none"/>
<rect x="411.90" y="370.20" width="65.89" height="24.20" fill="#efe5cd"/>
<path d="M415.37,370.20V394.40M418.84,370.20V394.40M422.30,370.20V394.40M425.77,370.20V394.40M429.24,370.20V394.40M432.71,370.20V394.40M436.18,370.20V394.40M439.64,370.20V394.40M443.11,370.20V394.40M446.58,370.20V394.40M450.05,370.20V394.40M453.52,370.20V394.40M456.98,370.20V394.40M460.45,370.20V394.40M463.92,370.20V394.40M467.39,370.20V394.40M470.86,370.20V394.40M474.32,370.20V394.40M411.90,378.27H477.79M411.90,386.33H477.79" stroke="#f8f3e7" stroke-width="0.6" fill="none"/>
<rect x="479.10" y="370.20" width="31.10" height="24.20" fill="#efe5cd"/>
<path d="M482.56,370.20V394.40M486.01,370.20V394.40M489.47,370.20V394.40M492.92,370.20V394.40M496.38,370.20V394.40M499.84,370.20V394.40M503.29,370.20V394.40M506.75,370.20V394.40M479.10,378.27H510.20M479.10,386.33H510.20" stroke="#f8f3e7" stroke-width="0.6" fill="none"/>
<rect x="77.00" y="397.00" width="100.63" height="87.80" fill="#efe5cd"/>
<path d="M80.47,397.00V484.80M83.94,397.00V484.80M87.41,397.00V484.80M90.88,397.00V484.80M94.35,397.00V484.80M97.82,397.00V484.80M101.29,397.00V484.80M104.76,397.00V484.80M108.23,397.00V484.80M111.70,397.00V484.80M115.17,397.00V484.80M118.64,397.00V484.80M122.11,397.00V484.80M125.58,397.00V484.80M129.05,397.00V484.80M132.52,397.00V484.80M135.99,397.00V484.80M139.46,397.00V484.80M142.93,397.00V484.80M146.40,397.00V484.80M149.87,397.00V484.80M153.34,397.00V484.80M156.81,397.00V484.80M160.28,397.00V484.80M163.75,397.00V484.80M167.22,397.00V484.80M170.69,397.00V484.80M174.16,397.00V484.80M77.00,403.75H177.63M77.00,410.51H177.63M77.00,417.26H177.63M77.00,424.02H177.63M77.00,430.77H177.63M77.00,437.52H177.63M77.00,444.28H177.63M77.00,451.03H177.63M77.00,457.78H177.63M77.00,464.54H177.63M77.00,471.29H177.63M77.00,478.05H177.63" stroke="#f8f3e7" stroke-width="0.6" fill="none"/>
<rect x="179.30" y="397.00" width="13.84" height="87.80" fill="#efe5cd"/>
<path d="M182.76,397.00V484.80M186.22,397.00V484.80M189.68,397.00V484.80M179.30,403.75H193.14M179.30,410.51H193.14M179.30,417.26H193.14M179.30,424.02H193.14M179.30,430.77H193.14M179.30,437.52H193.14M179.30,444.28H193.14M179.30,451.03H193.14M179.30,457.78H193.14M179.30,464.54H193.14M179.30,471.29H193.14M179.30,478.05H193.14" stroke="#f8f3e7" stroke-width="0.6" fill="none"/>
<rect x="194.60" y="397.00" width="216.13" height="87.80" fill="#efe5cd"/>
<path d="M198.09,397.00V484.80M201.57,397.00V484.80M205.06,397.00V484.80M208.54,397.00V484.80M212.03,397.00V484.80M215.52,397.00V484.80M219.00,397.00V484.80M222.49,397.00V484.80M225.97,397.00V484.80M229.46,397.00V484.80M232.95,397.00V484.80M236.43,397.00V484.80M239.92,397.00V484.80M243.40,397.00V484.80M246.89,397.00V484.80M250.38,397.00V484.80M253.86,397.00V484.80M257.35,397.00V484.80M260.83,397.00V484.80M264.32,397.00V484.80M267.81,397.00V484.80M271.29,397.00V484.80M274.78,397.00V484.80M278.26,397.00V484.80M281.75,397.00V484.80M285.24,397.00V484.80M288.72,397.00V484.80M292.21,397.00V484.80M295.69,397.00V484.80M299.18,397.00V484.80M302.67,397.00V484.80M306.15,397.00V484.80M309.64,397.00V484.80M313.12,397.00V484.80M316.61,397.00V484.80M320.10,397.00V484.80M323.58,397.00V484.80M327.07,397.00V484.80M330.55,397.00V484.80M334.04,397.00V484.80M337.53,397.00V484.80M341.01,397.00V484.80M344.50,397.00V484.80M347.98,397.00V484.80M351.47,397.00V484.80M354.96,397.00V484.80M358.44,397.00V484.80M361.93,397.00V484.80M365.41,397.00V484.80M368.90,397.00V484.80M372.39,397.00V484.80M375.87,397.00V484.80M379.36,397.00V484.80M382.84,397.00V484.80M386.33,397.00V484.80M389.82,397.00V484.80M393.30,397.00V484.80M396.79,397.00V484.80M400.27,397.00V484.80M403.76,397.00V484.80M407.25,397.00V484.80M194.60,403.75H410.73M194.60,410.51H410.73M194.60,417.26H410.73M194.60,424.02H410.73M194.60,430.77H410.73M194.60,437.52H410.73M194.60,444.28H410.73M194.60,451.03H410.73M194.60,457.78H410.73M194.60,464.54H410.73M194.60,471.29H410.73M194.60,478.05H410.73" stroke="#f8f3e7" stroke-width="0.6" fill="none"/>
<rect x="411.90" y="397.00" width="65.89" height="87.80" fill="#efe5cd"/>
<path d="M415.37,397.00V484.80M418.84,397.00V484.80M422.30,397.00V484.80M425.77,397.00V484.80M429.24,397.00V484.80M432.71,397.00V484.80M436.18,397.00V484.80M439.64,397.00V484.80M443.11,397.00V484.80M446.58,397.00V484.80M450.05,397.00V484.80M453.52,397.00V484.80M456.98,397.00V484.80M460.45,397.00V484.80M463.92,397.00V484.80M467.39,397.00V484.80M470.86,397.00V484.80M474.32,397.00V484.80M411.90,403.75H477.79M411.90,410.51H477.79M411.90,417.26H477.79M411.90,424.02H477.79M411.90,430.77H477.79M411.90,437.52H477.79M411.90,444.28H477.79M411.90,451.03H477.79M411.90,457.78H477.79M411.90,464.54H477.79M411.90,471.29H477.79M411.90,478.05H477.79" stroke="#f8f3e7" stroke-width="0.6" fill="none"/>
<rect x="479.10" y="397.00" width="31.10" height="87.80" fill="#efe5cd"/>
<path d="M482.56,397.00V484.80M486.01,397.00V484.80M489.47,397.00V484.80M492.92,397.00V484.80M496.38,397.00V484.80M499.84,397.00V484.80M503.29,397.00V484.80M506.75,397.00V484.80M479.10,403.75H510.20M479.10,410.51H510.20M479.10,417.26H510.20M479.10,424.02H510.20M479.10,430.77H510.20M479.10,437.52H510.20M479.10,444.28H510.20M479.10,451.03H510.20M479.10,457.78H510.20M479.10,464.54H510.20M479.10,471.29H510.20M479.10,478.05H510.20" stroke="#f8f3e7" stroke-width="0.6" fill="none"/>
<rect x="77.00" y="487.20" width="100.63" height="23.20" fill="#ffffff"/>
<path d="M80.47,487.20V510.40M83.94,487.20V510.40M87.41,487.20V510.40M90.88,487.20V510.40M94.35,487.20V510.40M97.82,487.20V510.40M101.29,487.20V510.40M104.76,487.20V510.40M108.23,487.20V510.40M111.70,487.20V510.40M115.17,487.20V510.40M118.64,487.20V510.40M122.11,487.20V510.40M125.58,487.20V510.40M129.05,487.20V510.40M132.52,487.20V510.40M135.99,487.20V510.40M139.46,487.20V510.40M142.93,487.20V510.40M146.40,487.20V510.40M149.87,487.20V510.40M153.34,487.20V510.40M156.81,487.20V510.40M160.28,487.20V510.40M163.75,487.20V510.40M167.22,487.20V510.40M170.69,487.20V510.40M174.16,487.20V510.40M77.00,494.93H177.63M77.00,502.67H177.63" stroke="#cfcfcf" stroke-width="0.5" fill="none"/>
<rect x="179.30" y="487.20" width="13.84" height="23.20" fill="#ffffff"/>
<path d="M182.76,487.20V510.40M186.22,487.20V510.40M189.68,487.20V510.40M179.30,494.93H193.14M179.30,502.67H193.14" stroke="#cfcfcf" stroke-width="0.5" fill="none"/>
<rect x="194.60" y="487.20" width="216.13" height="23.20" fill="#ffffff"/>
<path d="M198.09,487.20V510.40M201.57,487.20V510.40M205.06,487.20V510.40M208.54,487.20V510.40M212.03,487.20V510.40M215.52,487.20V510.40M219.00,487.20V510.40M222.49,487.20V510.40M225.97,487.20V510.40M229.46,487.20V510.40M232.95,487.20V510.40M236.43,487.20V510.40M239.92,487.20V510.40M243.40,487.20V510.40M246.89,487.20V510.40M250.38,487.20V510.40M253.86,487.20V510.40M257.35,487.20V510.40M260.83,487.20V510.40M264.32,487.20V510.40M267.81,487.20V510.40M271.29,487.20V510.40M274.78,487.20V510.40M278.26,487.20V510.40M281.75,487.20V510.40M285.24,487.20V510.40M288.72,487.20V510.40M292.21,487.20V510.40M295.69,487.20V510.40M299.18,487.20V510.40M302.67,487.20V510.40M306.15,487.20V510.40M309.64,487.20V510.40M313.12,487.20V510.40M316.61,487.20V510.40M320.10,487.20V510.40M323.58,487.20V510.40M327.07,487.20V510.40M330.55,487.20V510.40M334.04,487.20V510.40M337.53,487.20V510.40M341.01,487.20V510.40M344.50,487.20V510.40M347.98,487.20V510.40M351.47,487.20V510.40M354.96,487.20V510.40M358.44,487.20V510.40M361.93,487.20V510.40M365.41,487.20V510.40M368.90,487.20V510.40M372.39,487.20V510.40M375.87,487.20V510.40M379.36,487.20V510.40M382.84,487.20V510.40M386.33,487.20V510.40M389.82,487.20V510.40M393.30,487.20V510.40M396.79,487.20V510.40M400.27,487.20V510.40M403.76,487.20V510.40M407.25,487.20V510.40M194.60,494.93H410.73M194.60,502.67H410.73" stroke="#cfcfcf" stroke-width="0.5" fill="none"/>
<rect x="411.90" y="487.20" width="65.89" height="23.20" fill="#ffffff"/>
<path d="M415.37,487.20V510.40M418.84,487.20V510.40M422.30,487.20V510.40M425.77,487.20V510.40M429.24,487.20V510.40M432.71,487.20V510.40M436.18,487.20V510.40M439.64,487.20V510.40M443.11,487.20V510.40M446.58,487.20V510.40M450.05,487.20V510.40M453.52,487.20V510.40M456.98,487.20V510.40M460.45,487.20V510.40M463.92,487.20V510.40M467.39,487.20V510.40M470.86,487.20V510.40M474.32,487.20V510.40M411.90,494.93H477.79M411.90,502.67H477.79" stroke="#cfcfcf" stroke-width="0.5" fill="none"/>
<rect x="479.10" y="487.20" width="31.10" height="23.20" fill="#ffffff"/>
<path d="M482.56,487.20V510.40M486.01,487.20V510.40M489.47,487.20V510.40M492.92,487.20V510.40M496.38,487.20V510.40M499.84,487.20V510.40M503.29,487.20V510.40M506.75,487.20V510.40M479.10,494.93H510.20M479.10,502.67H510.20" stroke="#cfcfcf" stroke-width="0.5" fill="none"/>
<rect x="77.00" y="512.50" width="100.63" height="230.00" fill="#efe5cd"/>
<path d="M80.47,512.50V742.50M83.94,512.50V742.50M87.41,512.50V742.50M90.88,512.50V742.50M94.35,512.50V742.50M97.82,512.50V742.50M101.29,512.50V742.50M104.76,512.50V742.50M108.23,512.50V742.50M111.70,512.50V742.50M115.17,512.50V742.50M118.64,512.50V742.50M122.11,512.50V742.50M125.58,512.50V742.50M129.05,512.50V742.50M132.52,512.50V742.50M135.99,512.50V742.50M139.46,512.50V742.50M142.93,512.50V742.50M146.40,512.50V742.50M149.87,512.50V742.50M153.34,512.50V742.50M156.81,512.50V742.50M160.28,512.50V742.50M163.75,512.50V742.50M167.22,512.50V742.50M170.69,512.50V742.50M174.16,512.50V742.50M77.00,519.92H177.63M77.00,527.34H177.63M77.00,534.76H177.63M77.00,542.18H177.63M77.00,549.60H177.63M77.00,557.02H177.63M77.00,564.44H177.63M77.00,571.85H177.63M77.00,579.27H177.63M77.00,586.69H177.63M77.00,594.11H177.63M77.00,601.53H177.63M77.00,608.95H177.63M77.00,616.37H177.63M77.00,623.79H177.63M77.00,631.21H177.63M77.00,638.63H177.63M77.00,646.05H177.63M77.00,653.47H177.63M77.00,660.89H177.63M77.00,668.31H177.63M77.00,675.73H177.63M77.00,683.15H177.63M77.00,690.56H177.63M77.00,697.98H177.63M77.00,705.40H177.63M77.00,712.82H177.63M77.00,720.24H177.63M77.00,727.66H177.63M77.00,735.08H177.63" stroke="#f8f3e7" stroke-width="0.6" fill="none"/>
<rect x="179.30" y="512.50" width="13.84" height="230.00" fill="#efe5cd"/>
<path d="M182.76,512.50V742.50M186.22,512.50V742.50M189.68,512.50V742.50M179.30,519.92H193.14M179.30,527.34H193.14M179.30,534.76H193.14M179.30,542.18H193.14M179.30,549.60H193.14M179.30,557.02H193.14M179.30,564.44H193.14M179.30,571.85H193.14M179.30,579.27H193.14M179.30,586.69H193.14M179.30,594.11H193.14M179.30,601.53H193.14M179.30,608.95H193.14M179.30,616.37H193.14M179.30,623.79H193.14M179.30,631.21H193.14M179.30,638.63H193.14M179.30,646.05H193.14M179.30,653.47H193.14M179.30,660.89H193.14M179.30,668.31H193.14M179.30,675.73H193.14M179.30,683.15H193.14M179.30,690.56H193.14M179.30,697.98H193.14M179.30,705.40H193.14M179.30,712.82H193.14M179.30,720.24H193.14M179.30,727.66H193.14M179.30,735.08H193.14" stroke="#f8f3e7" stroke-width="0.6" fill="none"/>
<rect x="194.60" y="512.50" width="216.13" height="230.00" fill="#efe5cd"/>
<path d="M198.09,512.50V742.50M201.57,512.50V742.50M205.06,512.50V742.50M208.54,512.50V742.50M212.03,512.50V742.50M215.52,512.50V742.50M219.00,512.50V742.50M222.49,512.50V742.50M225.97,512.50V742.50M229.46,512.50V742.50M232.95,512.50V742.50M236.43,512.50V742.50M239.92,512.50V742.50M243.40,512.50V742.50M246.89,512.50V742.50M250.38,512.50V742.50M253.86,512.50V742.50M257.35,512.50V742.50M260.83,512.50V742.50M264.32,512.50V742.50M267.81,512.50V742.50M271.29,512.50V742.50M274.78,512.50V742.50M278.26,512.50V742.50M281.75,512.50V742.50M285.24,512.50V742.50M288.72,512.50V742.50M292.21,512.50V742.50M295.69,512.50V742.50M299.18,512.50V742.50M302.67,512.50V742.50M306.15,512.50V742.50M309.64,512.50V742.50M313.12,512.50V742.50M316.61,512.50V742.50M320.10,512.50V742.50M323.58,512.50V742.50M327.07,512.50V742.50M330.55,512.50V742.50M334.04,512.50V742.50M337.53,512.50V742.50M341.01,512.50V742.50M344.50,512.50V742.50M347.98,512.50V742.50M351.47,512.50V742.50M354.96,512.50V742.50M358.44,512.50V742.50M361.93,512.50V742.50M365.41,512.50V742.50M368.90,512.50V742.50M372.39,512.50V742.50M375.87,512.50V742.50M379.36,512.50V742.50M382.84,512.50V742.50M386.33,512.50V742.50M389.82,512.50V742.50M393.30,512.50V742.50M396.79,512.50V742.50M400.27,512.50V742.50M403.76,512.50V742.50M407.25,512.50V742.50M194.60,519.92H410.73M194.60,527.34H410.73M194.60,534.76H410.73M194.60,542.18H410.73M194.60,549.60H410.73M194.60,557.02H410.73M194.60,564.44H410.73M194.60,571.85H410.73M194.60,579.27H410.73M194.60,586.69H410.73M194.60,594.11H410.73M194.60,601.53H410.73M194.60,608.95H410.73M194.60,616.37H410.73M194.60,623.79H410.73M194.60,631.21H410.73M194.60,638.63H410.73M194.60,646.05H410.73M194.60,653.47H410.73M194.60,660.89H410.73M194.60,668.31H410.73M194.60,675.73H410.73M194.60,683.15H410.73M194.60,690.56H410.73M194.60,697.98H410.73M194.60,705.40H410.73M194.60,712.82H410.73M194.60,720.24H410.73M194.60,727.66H410.73M194.60,735.08H410.73" stroke="#f8f3e7" stroke-width="0.6" fill="none"/>
<rect x="411.90" y="512.50" width="65.89" height="230.00" fill="#efe5cd"/>
<path d="M415.37,512.50V742.50M418.84,512.50V742.50M422.30,512.50V742.50M425.77,512.50V742.50M429.24,512.50V742.50M432.71,512.50V742.50M436.18,512.50V742.50M439.64,512.50V742.50M443.11,512.50V742.50M446.58,512.50V742.50M450.05,512.50V742.50M453.52,512.50V742.50M456.98,512.50V742.50M460.45,512.50V742.50M463.92,512.50V742.50M467.39,512.50V742.50M470.86,512.50V742.50M474.32,512.50V742.50M411.90,519.92H477.79M411.90,527.34H477.79M411.90,534.76H477.79M411.90,542.18H477.79M411.90,549.60H477.79M411.90,557.02H477.79M411.90,564.44H477.79M411.90,571.85H477.79M411.90,579.27H477.79M411.90,586.69H477.79M411.90,594.11H477.79M411.90,601.53H477.79M411.90,608.95H477.79M411.90,616.37H477.79M411.90,623.79H477.79M411.90,631.21H477.79M411.90,638.63H477.79M411.90,646.05H477.79M411.90,653.47H477.79M411.90,660.89H477.79M411.90,668.31H477.79M411.90,675.73H477.79M411.90,683.15H477.79M411.90,690.56H477.79M411.90,697.98H477.79M411.90,705.40H477.79M411.90,712.82H477.79M411.90,720.24H477.79M411.90,727.66H477.79M411.90,735.08H477.79" stroke="#f8f3e7" stroke-width="0.6" fill="none"/>
<rect x="479.10" y="512.50" width="31.10" height="230.00" fill="#efe5cd"/>
<path d="M482.56,512.50V742.50M486.01,512.50V742.50M489.47,512.50V742.50M492.92,512.50V742.50M496.38,512.50V742.50M499.84,512.50V742.50M503.29,512.50V742.50M506.75,512.50V742.50M479.10,519.92H510.20M479.10,527.34H510.20M479.10,534.76H510.20M479.10,542.18H510.20M479.10,549.60H510.20M479.10,557.02H510.20M479.10,564.44H510.20M479.10,571.85H510.20M479.10,579.27H510.20M479.10,586.69H510.20M479.10,594.11H510.20M479.10,601.53H510.20M479.10,608.95H510.20M479.10,616.37H510.20M479.10,623.79H510.20M479.10,631.21H510.20M479.10,638.63H510.20M479.10,646.05H510.20M479.10,653.47H510.20M479.10,660.89H510.20M479.10,668.31H510.20M479.10,675.73H510.20M479.10,683.15H510.20M479.10,690.56H510.20M479.10,697.98H510.20M479.10,705.40H510.20M479.10,712.82H510.20M479.10,720.24H510.20M479.10,727.66H510.20M479.10,735.08H510.20" stroke="#f8f3e7" stroke-width="0.6" fill="none"/>
<path d="M76,571.85H512" stroke="#fff" stroke-width="0.9"/>
<path d="M76,616.37H512" stroke="#fff" stroke-width="0.9"/>
<path d="M76,646.05H512" stroke="#fff" stroke-width="0.9"/>
<path d="M76,697.98H512" stroke="#fff" stroke-width="0.9"/>
<rect x="77.20" y="370.60" width="3.07" height="7.57" fill="#fcd342" stroke="#5a4d30" stroke-width="0.65" rx="0.2"/>
<rect x="94.55" y="370.60" width="3.07" height="7.57" fill="#fcd342" stroke="#5a4d30" stroke-width="0.65" rx="0.2"/>
<rect x="104.96" y="370.60" width="3.07" height="7.57" fill="#fcd342" stroke="#5a4d30" stroke-width="0.65" rx="0.2"/>
<rect x="194.80" y="370.60" width="17.03" height="7.57" fill="#fcd342" stroke="#5a4d30" stroke-width="0.65" rx="0.2"/>
<path d="M198.09,371.00V377.77M201.57,371.00V377.77M205.06,371.00V377.77M208.54,371.00V377.77" stroke="#a08a3a" stroke-width="0.75"/>
<rect x="226.17" y="370.60" width="3.09" height="7.57" fill="#fcd342" stroke="#5a4d30" stroke-width="0.65" rx="0.2"/>
<rect x="344.80" y="370.60" width="2.89" height="7.57" fill="#fcd342"/>
<circle cx="346.24" cy="374.38" r="1.1" fill="#176f73"/>
<rect x="412.10" y="370.60" width="20.41" height="7.57" fill="#fcd342" stroke="#5a4d30" stroke-width="0.65" rx="0.2"/>
<path d="M415.37,371.00V377.77M418.84,371.00V377.77M422.30,371.00V377.77M425.77,371.00V377.77M429.24,371.00V377.77" stroke="#a08a3a" stroke-width="0.75"/>
<rect x="436.38" y="370.60" width="37.75" height="7.57" fill="#fcd342" stroke="#5a4d30" stroke-width="0.65" rx="0.2"/>
<path d="M439.64,371.00V377.77M443.11,371.00V377.77M446.58,371.00V377.77M450.05,371.00V377.77M453.52,371.00V377.77M456.98,371.00V377.77M460.45,371.00V377.77M463.92,371.00V377.77M467.39,371.00V377.77M470.86,371.00V377.77" stroke="#a08a3a" stroke-width="0.75"/>
<rect x="479.30" y="370.60" width="20.34" height="7.57" fill="#fcd342" stroke="#5a4d30" stroke-width="0.65" rx="0.2"/>
<path d="M482.56,371.00V377.77M486.01,371.00V377.77M489.47,371.00V377.77M492.92,371.00V377.77M496.38,371.00V377.77" stroke="#a08a3a" stroke-width="0.75"/>
<rect x="500.04" y="370.60" width="9.97" height="7.57" fill="#fcd342"/>
<path d="M503.29,370.60V378.17M506.75,370.60V378.17" stroke="#f9dd80" stroke-width="0.5"/>
<path d="M508.48,372.80 L509.88,375.40 L507.08,375.40 Z" fill="#5a5020"/>
<rect x="80.77" y="378.57" width="2.87" height="7.47" fill="#3aa2d4"/>
<rect x="112.00" y="378.57" width="2.87" height="7.47" fill="#3aa2d4"/>
<rect x="153.64" y="378.57" width="2.87" height="7.47" fill="#3aa2d4"/>
<rect x="160.58" y="378.57" width="2.87" height="7.47" fill="#3aa2d4"/>
<rect x="164.05" y="378.57" width="2.87" height="7.47" fill="#3aa2d4"/>
<rect x="205.36" y="378.57" width="2.89" height="7.47" fill="#3aa2d4"/>
<rect x="212.33" y="378.57" width="2.89" height="7.47" fill="#3aa2d4"/>
<circle cx="213.77" cy="382.30" r="1.25" fill="#fff" stroke="#444" stroke-width="0.35"/>
<rect x="215.82" y="378.57" width="2.89" height="7.47" fill="#3aa2d4"/>
<circle cx="217.26" cy="382.30" r="1.25" fill="#fff" stroke="#444" stroke-width="0.35"/>
<rect x="219.30" y="378.57" width="2.89" height="7.47" fill="#3aa2d4"/>
<circle cx="220.75" cy="382.30" r="1.25" fill="#fff" stroke="#444" stroke-width="0.35"/>
<rect x="226.27" y="378.57" width="2.89" height="7.47" fill="#3aa2d4"/>
<circle cx="227.72" cy="382.30" r="1.25" fill="#fff" stroke="#444" stroke-width="0.35"/>
<rect x="229.76" y="378.57" width="2.89" height="7.47" fill="#3aa2d4"/>
<rect x="233.25" y="378.57" width="2.89" height="7.47" fill="#3aa2d4"/>
<rect x="257.65" y="378.57" width="2.89" height="7.47" fill="#3aa2d4"/>
<rect x="264.62" y="378.57" width="2.89" height="7.47" fill="#3aa2d4"/>
<rect x="275.08" y="378.57" width="2.89" height="7.47" fill="#3aa2d4"/>
<rect x="348.28" y="378.57" width="2.89" height="7.47" fill="#3aa2d4"/>
<rect x="355.26" y="378.57" width="2.89" height="7.47" fill="#3aa2d4"/>
<circle cx="356.70" cy="382.30" r="1.25" fill="#fff" stroke="#444" stroke-width="0.35"/>
<rect x="393.60" y="378.57" width="2.89" height="7.47" fill="#3aa2d4"/>
<rect x="412.20" y="378.57" width="2.87" height="7.47" fill="#3aa2d4"/>
<rect x="415.67" y="378.57" width="2.87" height="7.47" fill="#3aa2d4"/>
<rect x="446.88" y="378.57" width="2.87" height="7.47" fill="#3aa2d4"/>
<rect x="453.82" y="378.57" width="2.87" height="7.47" fill="#3aa2d4"/>
<circle cx="455.25" cy="382.30" r="1.25" fill="#fff" stroke="#444" stroke-width="0.35"/>
<rect x="479.40" y="378.57" width="2.86" height="7.47" fill="#3aa2d4"/>
<rect x="482.86" y="378.57" width="2.86" height="7.47" fill="#3aa2d4"/>
<rect x="486.31" y="378.57" width="2.86" height="7.47" fill="#3aa2d4"/>
<rect x="496.68" y="378.57" width="2.86" height="7.47" fill="#3aa2d4"/>
<rect x="500.14" y="378.57" width="2.86" height="7.47" fill="#3aa2d4"/>
<rect x="80.77" y="386.63" width="2.87" height="7.47" fill="#d16f4e"/>
<path d="M82.20,389.17 L83.41,391.37 L81.00,391.37 Z" fill="#7a7a20"/>
<rect x="91.18" y="386.63" width="2.87" height="7.47" fill="#d16f4e"/>
<path d="M91.78,388.87H93.45M91.78,390.37H93.45M91.78,391.87H93.45" stroke="#f0c0a8" stroke-width="0.5"/>
<rect x="112.00" y="386.63" width="2.87" height="7.47" fill="#d16f4e"/>
<rect x="146.70" y="386.63" width="2.87" height="7.47" fill="#d16f4e"/>
<path d="M148.14,389.17 L149.34,391.37 L146.94,391.37 Z" fill="#7a7a20"/>
<rect x="150.17" y="386.63" width="2.87" height="7.47" fill="#d16f4e"/>
<rect x="183.06" y="386.63" width="2.86" height="7.47" fill="#d16f4e"/>
<rect x="212.33" y="386.63" width="2.89" height="7.47" fill="#d16f4e"/>
<rect x="257.65" y="386.63" width="2.89" height="7.47" fill="#d16f4e"/>
<rect x="344.80" y="386.63" width="2.89" height="7.47" fill="#d16f4e"/>
<rect x="379.66" y="386.63" width="2.89" height="7.47" fill="#d16f4e"/>
<rect x="383.14" y="386.63" width="2.89" height="7.47" fill="#d16f4e"/>
<rect x="412.20" y="386.63" width="2.87" height="7.47" fill="#d16f4e"/>
<rect x="415.67" y="386.63" width="2.87" height="7.47" fill="#d16f4e"/>
<rect x="457.28" y="386.63" width="2.87" height="7.47" fill="#d16f4e"/>
<rect x="479.40" y="386.63" width="2.86" height="7.47" fill="#d16f4e"/>
<rect x="482.86" y="386.63" width="2.86" height="7.47" fill="#d16f4e"/>
<path d="M484.28,389.17 L485.48,391.37 L483.08,391.37 Z" fill="#7a7a20"/>
<rect x="489.77" y="386.63" width="2.86" height="7.47" fill="#d16f4e"/>
<path d="M491.20,389.17 L492.40,391.37 L490.00,391.37 Z" fill="#7a7a20"/>
<rect x="496.68" y="386.63" width="2.86" height="7.47" fill="#d16f4e"/>
<rect x="500.14" y="386.63" width="2.86" height="7.47" fill="#d16f4e"/>
<rect x="215.82" y="397.30" width="2.89" height="6.15" fill="#2aa0c8"/>
<rect x="219.30" y="397.30" width="2.89" height="6.15" fill="#2aa0c8"/>
<rect x="390.12" y="404.05" width="2.89" height="6.15" fill="#8a9a3c"/>
<rect x="243.70" y="410.81" width="2.89" height="6.15" fill="#e5a535"/>
<rect x="486.31" y="417.56" width="2.86" height="6.15" fill="#8a9a3c"/>
<rect x="503.59" y="424.32" width="2.86" height="6.15" fill="#c8553a"/>
<rect x="157.11" y="431.07" width="2.87" height="6.15" fill="#e5a535"/>
<rect x="433.01" y="437.82" width="2.87" height="6.15" fill="#e5a535"/>
<rect x="268.11" y="444.58" width="2.89" height="6.15" fill="#8a9a3c"/>
<rect x="372.69" y="451.33" width="2.89" height="6.15" fill="#e5a535"/>
<rect x="464.22" y="458.08" width="2.87" height="6.15" fill="#e5a535"/>
<rect x="222.79" y="464.84" width="2.89" height="6.15" fill="#e5a535"/>
<rect x="390.12" y="471.59" width="2.89" height="6.15" fill="#e5a535"/>
<rect x="98.12" y="478.35" width="2.87" height="6.15" fill="#e5a535"/>
<rect x="77.15" y="487.50" width="58.69" height="7.13" fill="#121212"/>
<path d="M80.47,487.50V494.63M83.94,487.50V494.63M87.41,487.50V494.63M90.88,487.50V494.63M94.35,487.50V494.63M97.82,487.50V494.63M101.29,487.50V494.63M104.76,487.50V494.63M108.23,487.50V494.63M111.70,487.50V494.63M115.17,487.50V494.63M118.64,487.50V494.63M122.11,487.50V494.63M125.58,487.50V494.63M129.05,487.50V494.63M132.52,487.50V494.63" stroke="#333" stroke-width="0.4"/>
<rect x="194.75" y="487.50" width="97.31" height="7.13" fill="#121212"/>
<path d="M198.09,487.50V494.63M201.57,487.50V494.63M205.06,487.50V494.63M208.54,487.50V494.63M212.03,487.50V494.63M215.52,487.50V494.63M219.00,487.50V494.63M222.49,487.50V494.63M225.97,487.50V494.63M229.46,487.50V494.63M232.95,487.50V494.63M236.43,487.50V494.63M239.92,487.50V494.63M243.40,487.50V494.63M246.89,487.50V494.63M250.38,487.50V494.63M253.86,487.50V494.63M257.35,487.50V494.63M260.83,487.50V494.63M264.32,487.50V494.63M267.81,487.50V494.63M271.29,487.50V494.63M274.78,487.50V494.63M278.26,487.50V494.63M281.75,487.50V494.63M285.24,487.50V494.63M288.72,487.50V494.63" stroke="#333" stroke-width="0.4"/>
<rect x="412.05" y="487.50" width="65.59" height="7.13" fill="#121212"/>
<path d="M415.37,487.50V494.63M418.84,487.50V494.63M422.30,487.50V494.63M425.77,487.50V494.63M429.24,487.50V494.63M432.71,487.50V494.63M436.18,487.50V494.63M439.64,487.50V494.63M443.11,487.50V494.63M446.58,487.50V494.63M450.05,487.50V494.63M453.52,487.50V494.63M456.98,487.50V494.63M460.45,487.50V494.63M463.92,487.50V494.63M467.39,487.50V494.63M470.86,487.50V494.63M474.32,487.50V494.63" stroke="#333" stroke-width="0.4"/>
<rect x="479.25" y="487.50" width="27.35" height="7.13" fill="#121212"/>
<path d="M482.56,487.50V494.63M486.01,487.50V494.63M489.47,487.50V494.63M492.92,487.50V494.63M496.38,487.50V494.63M499.84,487.50V494.63M503.29,487.50V494.63" stroke="#333" stroke-width="0.4"/>
<rect x="136.14" y="495.23" width="41.34" height="7.13" fill="#121212"/>
<path d="M139.46,495.23V502.37M142.93,495.23V502.37M146.40,495.23V502.37M149.87,495.23V502.37M153.34,495.23V502.37M156.81,495.23V502.37M160.28,495.23V502.37M163.75,495.23V502.37M167.22,495.23V502.37M170.69,495.23V502.37M174.16,495.23V502.37" stroke="#333" stroke-width="0.4"/>
<rect x="292.36" y="495.23" width="118.22" height="7.13" fill="#121212"/>
<path d="M295.69,495.23V502.37M299.18,495.23V502.37M302.67,495.23V502.37M306.15,495.23V502.37M309.64,495.23V502.37M313.12,495.23V502.37M316.61,495.23V502.37M320.10,495.23V502.37M323.58,495.23V502.37M327.07,495.23V502.37M330.55,495.23V502.37M334.04,495.23V502.37M337.53,495.23V502.37M341.01,495.23V502.37M344.50,495.23V502.37M347.98,495.23V502.37M351.47,495.23V502.37M354.96,495.23V502.37M358.44,495.23V502.37M361.93,495.23V502.37M365.41,495.23V502.37M368.90,495.23V502.37M372.39,495.23V502.37M375.87,495.23V502.37M379.36,495.23V502.37M382.84,495.23V502.37M386.33,495.23V502.37M389.82,495.23V502.37M393.30,495.23V502.37M396.79,495.23V502.37M400.27,495.23V502.37M403.76,495.23V502.37M407.25,495.23V502.37" stroke="#333" stroke-width="0.4"/>
<rect x="506.90" y="502.97" width="3.16" height="7.13" fill="#121212"/>
<path d="" stroke="#333" stroke-width="0.4"/>
<circle cx="476.06" cy="491.07" r="0.95" fill="#ffffff"/>
<circle cx="155.08" cy="498.80" r="0.95" fill="#f2c21a"/>
<circle cx="165.49" cy="498.80" r="0.95" fill="#ffffff"/>
<circle cx="168.96" cy="498.80" r="0.95" fill="#ffffff"/>
<circle cx="172.43" cy="498.80" r="0.95" fill="#ffffff"/>
<circle cx="175.90" cy="498.80" r="0.95" fill="#ffffff"/>
<circle cx="293.95" cy="498.80" r="0.95" fill="#ffffff"/>
<circle cx="297.44" cy="498.80" r="0.95" fill="#f2c21a"/>
<circle cx="335.78" cy="498.80" r="0.95" fill="#f2c21a"/>
<circle cx="339.27" cy="498.80" r="0.95" fill="#ffffff"/>
<circle cx="342.75" cy="498.80" r="0.95" fill="#ffffff"/>
<circle cx="349.73" cy="498.80" r="0.95" fill="#ffffff"/>
<circle cx="353.21" cy="498.80" r="0.95" fill="#f2c21a"/>
<circle cx="356.70" cy="498.80" r="0.95" fill="#ffffff"/>
<circle cx="360.19" cy="498.80" r="0.95" fill="#ffffff"/>
<circle cx="363.67" cy="498.80" r="0.95" fill="#f2c21a"/>
<circle cx="367.16" cy="498.80" r="0.95" fill="#ffffff"/>
<circle cx="370.64" cy="498.80" r="0.95" fill="#ffffff"/>
<circle cx="374.13" cy="498.80" r="0.95" fill="#ffffff"/>
<circle cx="377.62" cy="498.80" r="0.95" fill="#ffffff"/>
<circle cx="381.10" cy="498.80" r="0.95" fill="#ffffff"/>
<circle cx="384.59" cy="498.80" r="0.95" fill="#ffffff"/>
<circle cx="388.07" cy="498.80" r="0.95" fill="#ffffff"/>
<circle cx="391.56" cy="498.80" r="0.95" fill="#f2c21a"/>
<circle cx="395.05" cy="498.80" r="0.95" fill="#ffffff"/>
<circle cx="398.53" cy="498.80" r="0.95" fill="#ffffff"/>
<circle cx="402.02" cy="498.80" r="0.95" fill="#f2c21a"/>
<circle cx="405.50" cy="498.80" r="0.95" fill="#ffffff"/>
<circle cx="408.99" cy="498.80" r="0.95" fill="#ffffff"/>
<rect x="87.96" y="513.05" width="2.37" height="6.32" fill="#f3f0d0" stroke="#6e6e6e" stroke-width="0.55"/>
<rect x="201.87" y="512.80" width="2.89" height="6.82" fill="#7e8c34"/>
<rect x="243.70" y="512.80" width="2.89" height="6.82" fill="#bcbf8d"/>
<rect x="268.11" y="512.80" width="2.89" height="6.82" fill="#7e8c34"/>
<rect x="334.34" y="512.80" width="2.89" height="6.82" fill="#22a0cc"/>
<rect x="412.20" y="512.80" width="2.87" height="6.82" fill="#7e8c34"/>
<rect x="446.88" y="512.80" width="2.87" height="6.82" fill="#7e8c34"/>
<rect x="450.60" y="513.05" width="2.37" height="6.32" fill="#f3f0d0" stroke="#6e6e6e" stroke-width="0.55"/>
<rect x="500.14" y="512.80" width="2.86" height="6.82" fill="#7e8c34"/>
<rect x="80.77" y="520.22" width="2.87" height="6.82" fill="#bcbf8d"/>
<rect x="87.71" y="520.22" width="2.87" height="6.82" fill="#99a35a"/>
<rect x="143.23" y="520.22" width="2.87" height="6.82" fill="#7e8c34"/>
<rect x="337.83" y="520.22" width="2.89" height="6.82" fill="#99a35a"/>
<rect x="341.31" y="520.22" width="2.89" height="6.82" fill="#99a35a"/>
<rect x="344.80" y="520.22" width="2.89" height="6.82" fill="#7e8c34"/>
<rect x="80.77" y="527.64" width="2.87" height="6.82" fill="#7e8c34"/>
<rect x="208.84" y="527.64" width="2.89" height="6.82" fill="#bcbf8d"/>
<rect x="222.79" y="527.64" width="2.89" height="6.82" fill="#7e8c34"/>
<rect x="348.53" y="527.89" width="2.39" height="6.32" fill="#f3f0d0" stroke="#6e6e6e" stroke-width="0.55"/>
<rect x="450.35" y="527.64" width="2.87" height="6.82" fill="#7e8c34"/>
<rect x="247.19" y="535.06" width="2.89" height="6.82" fill="#bcbf8d"/>
<rect x="261.13" y="535.06" width="2.89" height="6.82" fill="#7e8c34"/>
<rect x="482.86" y="535.06" width="2.86" height="6.82" fill="#bcbf8d"/>
<rect x="132.82" y="542.48" width="2.87" height="6.82" fill="#7e8c34"/>
<rect x="150.17" y="542.48" width="2.87" height="6.82" fill="#bcbf8d"/>
<rect x="295.99" y="542.48" width="2.89" height="6.82" fill="#7e8c34"/>
<rect x="302.97" y="542.48" width="2.89" height="6.82" fill="#7e8c34"/>
<rect x="306.45" y="542.48" width="2.89" height="6.82" fill="#7e8c34"/>
<rect x="323.88" y="549.90" width="2.89" height="6.82" fill="#bcbf8d"/>
<rect x="327.37" y="549.90" width="2.89" height="6.82" fill="#bcbf8d"/>
<rect x="348.28" y="549.90" width="2.89" height="6.82" fill="#99a35a"/>
<rect x="467.69" y="549.90" width="2.87" height="6.82" fill="#7e8c34"/>
<rect x="500.14" y="549.90" width="2.86" height="6.82" fill="#7e8c34"/>
<rect x="112.00" y="557.32" width="2.87" height="6.82" fill="#99a35a"/>
<rect x="271.59" y="557.32" width="2.89" height="6.82" fill="#22a0cc"/>
<rect x="282.05" y="557.32" width="2.89" height="6.82" fill="#99a35a"/>
<rect x="429.54" y="557.32" width="2.87" height="6.82" fill="#7e8c34"/>
<rect x="439.94" y="557.32" width="2.87" height="6.82" fill="#7e8c34"/>
<rect x="183.31" y="564.99" width="2.36" height="6.32" fill="#f3f0d0" stroke="#6e6e6e" stroke-width="0.55"/>
<rect x="194.90" y="564.74" width="2.89" height="6.82" fill="#7e8c34"/>
<rect x="278.56" y="564.74" width="2.89" height="6.82" fill="#99a35a"/>
<rect x="77.30" y="572.15" width="2.87" height="6.82" fill="#22a0cc"/>
<rect x="98.12" y="572.15" width="2.87" height="6.82" fill="#22a0cc"/>
<rect x="101.59" y="572.15" width="2.87" height="6.82" fill="#7e8c34"/>
<rect x="150.17" y="572.15" width="2.87" height="6.82" fill="#7e8c34"/>
<rect x="198.39" y="572.15" width="2.89" height="6.82" fill="#7e8c34"/>
<rect x="205.36" y="572.15" width="2.89" height="6.82" fill="#e5a33a"/>
<rect x="243.70" y="572.15" width="2.89" height="6.82" fill="#7e8c34"/>
<rect x="271.59" y="572.15" width="2.89" height="6.82" fill="#7e8c34"/>
<rect x="282.05" y="572.15" width="2.89" height="6.82" fill="#99a35a"/>
<rect x="299.48" y="572.15" width="2.89" height="6.82" fill="#e5a33a"/>
<rect x="323.88" y="572.15" width="2.89" height="6.82" fill="#99a35a"/>
<rect x="327.37" y="572.15" width="2.89" height="6.82" fill="#99a35a"/>
<rect x="355.26" y="572.15" width="2.89" height="6.82" fill="#7e8c34"/>
<rect x="358.99" y="572.40" width="2.39" height="6.32" fill="#f3f0d0" stroke="#6e6e6e" stroke-width="0.55"/>
<rect x="362.48" y="572.40" width="2.39" height="6.32" fill="#f3f0d0" stroke="#6e6e6e" stroke-width="0.55"/>
<rect x="443.66" y="572.40" width="2.37" height="6.32" fill="#f3f0d0" stroke="#6e6e6e" stroke-width="0.55"/>
<rect x="447.13" y="572.40" width="2.37" height="6.32" fill="#dcdcb4" stroke="#6e6e6e" stroke-width="0.55"/>
<rect x="471.16" y="572.15" width="2.87" height="6.82" fill="#c8503e"/>
<rect x="479.40" y="572.15" width="2.86" height="6.82" fill="#99a35a"/>
<rect x="146.70" y="579.57" width="2.87" height="6.82" fill="#bcbf8d"/>
<rect x="222.79" y="579.57" width="2.89" height="6.82" fill="#7e8c34"/>
<rect x="229.76" y="579.57" width="2.89" height="6.82" fill="#7e8c34"/>
<rect x="233.25" y="579.57" width="2.89" height="6.82" fill="#99a35a"/>
<rect x="236.73" y="579.57" width="2.89" height="6.82" fill="#22a0cc"/>
<rect x="264.62" y="579.57" width="2.89" height="6.82" fill="#7e8c34"/>
<rect x="337.83" y="579.57" width="2.89" height="6.82" fill="#99a35a"/>
<rect x="341.31" y="579.57" width="2.89" height="6.82" fill="#99a35a"/>
<rect x="362.23" y="579.57" width="2.89" height="6.82" fill="#99a35a"/>
<rect x="436.48" y="579.57" width="2.87" height="6.82" fill="#7e8c34"/>
<rect x="467.69" y="579.57" width="2.87" height="6.82" fill="#7e8c34"/>
<rect x="112.00" y="586.99" width="2.87" height="6.82" fill="#99a35a"/>
<rect x="309.94" y="586.99" width="2.89" height="6.82" fill="#22a0cc"/>
<rect x="433.01" y="586.99" width="2.87" height="6.82" fill="#f3c48c"/>
<rect x="471.16" y="586.99" width="2.87" height="6.82" fill="#bcbf8d"/>
<rect x="157.11" y="594.41" width="2.87" height="6.82" fill="#7e8c34"/>
<rect x="212.33" y="594.41" width="2.89" height="6.82" fill="#7e8c34"/>
<rect x="247.19" y="594.41" width="2.89" height="6.82" fill="#7e8c34"/>
<rect x="292.51" y="594.41" width="2.89" height="6.82" fill="#bcbf8d"/>
<rect x="94.65" y="601.83" width="2.87" height="6.82" fill="#7e8c34"/>
<rect x="337.83" y="601.83" width="2.89" height="6.82" fill="#99a35a"/>
<rect x="341.31" y="601.83" width="2.89" height="6.82" fill="#99a35a"/>
<rect x="125.88" y="609.25" width="2.87" height="6.82" fill="#bcbf8d"/>
<rect x="240.22" y="609.25" width="2.89" height="6.82" fill="#99a35a"/>
<rect x="215.82" y="616.67" width="2.89" height="6.82" fill="#7e8c34"/>
<rect x="219.30" y="616.67" width="2.89" height="6.82" fill="#7e8c34"/>
<rect x="222.79" y="616.67" width="2.89" height="6.82" fill="#7e8c34"/>
<rect x="261.13" y="616.67" width="2.89" height="6.82" fill="#7e8c34"/>
<rect x="285.54" y="616.67" width="2.89" height="6.82" fill="#7e8c34"/>
<rect x="289.02" y="616.67" width="2.89" height="6.82" fill="#99a35a"/>
<rect x="330.85" y="616.67" width="2.89" height="6.82" fill="#7e8c34"/>
<rect x="344.80" y="616.67" width="2.89" height="6.82" fill="#7e8c34"/>
<rect x="365.71" y="616.67" width="2.89" height="6.82" fill="#7e8c34"/>
<rect x="112.00" y="624.09" width="2.87" height="6.82" fill="#7e8c34"/>
<rect x="493.22" y="624.09" width="2.86" height="6.82" fill="#7e8c34"/>
<rect x="500.14" y="624.09" width="2.86" height="6.82" fill="#7e8c34"/>
<rect x="503.59" y="624.09" width="2.86" height="6.82" fill="#7e8c34"/>
<rect x="226.27" y="631.51" width="2.89" height="6.82" fill="#7e8c34"/>
<rect x="164.05" y="638.93" width="2.87" height="6.82" fill="#7e8c34"/>
<rect x="112.00" y="646.35" width="2.87" height="6.82" fill="#7e8c34"/>
<rect x="150.17" y="646.35" width="2.87" height="6.82" fill="#bcbf8d"/>
<rect x="229.76" y="646.35" width="2.89" height="6.82" fill="#7e8c34"/>
<rect x="233.25" y="646.35" width="2.89" height="6.82" fill="#7e8c34"/>
<rect x="369.20" y="646.35" width="2.89" height="6.82" fill="#bcbf8d"/>
<rect x="496.68" y="646.35" width="2.86" height="6.82" fill="#c8503e"/>
<rect x="146.70" y="653.77" width="2.87" height="6.82" fill="#7e8c34"/>
<rect x="479.40" y="653.77" width="2.86" height="6.82" fill="#7e8c34"/>
<rect x="486.31" y="653.77" width="2.86" height="6.82" fill="#7e8c34"/>
<rect x="493.22" y="653.77" width="2.86" height="6.82" fill="#7e8c34"/>
<rect x="500.14" y="653.77" width="2.86" height="6.82" fill="#7e8c34"/>
<rect x="503.84" y="654.02" width="2.36" height="6.32" fill="#f3f0d0" stroke="#6e6e6e" stroke-width="0.55"/>
<rect x="496.68" y="661.19" width="2.86" height="6.82" fill="#e5a33a"/>
<rect x="503.59" y="661.19" width="2.86" height="6.82" fill="#22a0cc"/>
<rect x="194.90" y="668.61" width="2.89" height="6.82" fill="#f3c48c"/>
<rect x="198.39" y="668.61" width="2.89" height="6.82" fill="#99a35a"/>
<rect x="94.65" y="676.03" width="2.87" height="6.82" fill="#7e8c34"/>
<rect x="223.04" y="676.28" width="2.39" height="6.32" fill="#f3f0d0" stroke="#6e6e6e" stroke-width="0.55"/>
<rect x="365.96" y="676.28" width="2.39" height="6.32" fill="#f3f0d0" stroke="#6e6e6e" stroke-width="0.55"/>
<rect x="372.69" y="676.03" width="2.89" height="6.82" fill="#bcbf8d"/>
<rect x="433.26" y="676.28" width="2.37" height="6.32" fill="#f3f0d0" stroke="#6e6e6e" stroke-width="0.55"/>
<rect x="479.65" y="676.28" width="2.36" height="6.32" fill="#f3f0d0" stroke="#6e6e6e" stroke-width="0.55"/>
<rect x="136.29" y="683.45" width="2.87" height="6.82" fill="#99a35a"/>
<rect x="139.76" y="683.45" width="2.87" height="6.82" fill="#bcbf8d"/>
<rect x="243.70" y="683.45" width="2.89" height="6.82" fill="#7e8c34"/>
<rect x="285.54" y="683.45" width="2.89" height="6.82" fill="#7e8c34"/>
<rect x="376.17" y="683.45" width="2.89" height="6.82" fill="#7e8c34"/>
<rect x="105.06" y="690.86" width="2.87" height="6.82" fill="#7e8c34"/>
<rect x="129.60" y="691.11" width="2.37" height="6.32" fill="#f3f0d0" stroke="#6e6e6e" stroke-width="0.55"/>
<rect x="302.97" y="690.86" width="2.89" height="6.82" fill="#7e8c34"/>
<rect x="112.00" y="698.28" width="2.87" height="6.82" fill="#7e8c34"/>
<rect x="348.28" y="698.28" width="2.89" height="6.82" fill="#7e8c34"/>
<rect x="457.28" y="698.28" width="2.87" height="6.82" fill="#7e8c34"/>
<rect x="474.62" y="698.28" width="2.87" height="6.82" fill="#7e8c34"/>
<rect x="125.88" y="705.70" width="2.87" height="6.82" fill="#7e8c34"/>
<rect x="143.23" y="705.70" width="2.87" height="6.82" fill="#bcbf8d"/>
<rect x="257.65" y="705.70" width="2.89" height="6.82" fill="#7e8c34"/>
<rect x="486.56" y="705.95" width="2.36" height="6.32" fill="#f3f0d0" stroke="#6e6e6e" stroke-width="0.55"/>
<rect x="167.52" y="713.12" width="2.87" height="6.82" fill="#7e8c34"/>
<rect x="215.82" y="713.12" width="2.89" height="6.82" fill="#7e8c34"/>
<rect x="219.30" y="713.12" width="2.89" height="6.82" fill="#7e8c34"/>
<rect x="313.42" y="713.12" width="2.89" height="6.82" fill="#7e8c34"/>
<rect x="316.91" y="713.12" width="2.89" height="6.82" fill="#7e8c34"/>
<rect x="212.33" y="720.54" width="2.89" height="6.82" fill="#99a35a"/>
<rect x="215.82" y="720.54" width="2.89" height="6.82" fill="#7e8c34"/>
<rect x="219.30" y="720.54" width="2.89" height="6.82" fill="#7e8c34"/>
<rect x="292.51" y="720.54" width="2.89" height="6.82" fill="#7e8c34"/>
<rect x="132.82" y="727.96" width="2.87" height="6.82" fill="#7e8c34"/>
<rect x="379.66" y="727.96" width="2.89" height="6.82" fill="#99a35a"/>
<rect x="383.14" y="727.96" width="2.89" height="6.82" fill="#99a35a"/>
<rect x="457.28" y="727.96" width="2.87" height="6.82" fill="#7e8c34"/>
<rect x="236.73" y="735.38" width="2.89" height="6.82" fill="#7e8c34"/>
<rect x="372.69" y="735.38" width="2.89" height="6.82" fill="#99a35a"/>
<text x="74.30" y="331.00" font-size="6.5" fill="#231f20" stroke="#231f20" stroke-width="0.130" text-anchor="end" textLength="15.79" lengthAdjust="spacingAndGlyphs">Batch</text>
<text x="74.30" y="357.90" font-size="6.5" fill="#231f20" stroke="#231f20" stroke-width="0.130" text-anchor="end" textLength="27.11" lengthAdjust="spacingAndGlyphs">Diagnosis</text>
<text x="74.30" y="366.30" font-size="6.5" fill="#231f20" stroke="#231f20" stroke-width="0.130" text-anchor="end" textLength="10.64" lengthAdjust="spacingAndGlyphs">Sex</text>
<text x="74.30" y="376.90" font-size="6.5" fill="#231f20" stroke="#231f20" stroke-width="0.130" text-anchor="end" textLength="13.04" lengthAdjust="spacingAndGlyphs">UPD</text>
<text x="74.30" y="385.00" font-size="6.5" fill="#231f20" stroke="#231f20" stroke-width="0.130" text-anchor="end" textLength="22.65" lengthAdjust="spacingAndGlyphs">Deletion</text>
<text x="74.30" y="393.00" font-size="6.5" fill="#231f20" stroke="#231f20" stroke-width="0.130" text-anchor="end" textLength="13.04" lengthAdjust="spacingAndGlyphs">Gain</text>
<text x="74.30" y="402.38" font-size="5.9" fill="#231f20" stroke="#231f20" stroke-width="0.130" text-anchor="end" textLength="37.01" lengthAdjust="spacingAndGlyphs">FRY-MYCBP2</text>
<text x="74.30" y="409.13" font-size="5.9" fill="#231f20" stroke="#231f20" stroke-width="0.130" text-anchor="end" textLength="42.85" lengthAdjust="spacingAndGlyphs">CUX1-intragenic</text>
<text x="74.30" y="415.88" font-size="5.9" fill="#231f20" stroke="#231f20" stroke-width="0.130" text-anchor="end" textLength="28.57" lengthAdjust="spacingAndGlyphs">BCR-ABL1</text>
<text x="74.30" y="422.64" font-size="5.9" fill="#231f20" stroke="#231f20" stroke-width="0.130" text-anchor="end" textLength="37.33" lengthAdjust="spacingAndGlyphs">XPO5-RUNX1</text>
<text x="74.30" y="429.39" font-size="5.9" fill="#231f20" stroke="#231f20" stroke-width="0.130" text-anchor="end" textLength="38.95" lengthAdjust="spacingAndGlyphs">INO80D-GPR1</text>
<text x="74.30" y="436.15" font-size="5.9" fill="#231f20" stroke="#231f20" stroke-width="0.130" text-anchor="end" textLength="35.70" lengthAdjust="spacingAndGlyphs">PNISR-NOX5</text>
<text x="74.30" y="442.90" font-size="5.9" fill="#231f20" stroke="#231f20" stroke-width="0.130" text-anchor="end" textLength="37.67" lengthAdjust="spacingAndGlyphs">S100A8-PLEK</text>
<text x="74.30" y="449.65" font-size="5.9" fill="#231f20" stroke="#231f20" stroke-width="0.130" text-anchor="end" textLength="44.78" lengthAdjust="spacingAndGlyphs">AHCTF1-SMYD3</text>
<text x="74.30" y="456.41" font-size="5.9" fill="#231f20" stroke="#231f20" stroke-width="0.130" text-anchor="end" textLength="33.32" lengthAdjust="spacingAndGlyphs">SAT1-MNDA</text>
<text x="74.30" y="463.16" font-size="5.9" fill="#231f20" stroke="#231f20" stroke-width="0.130" text-anchor="end" textLength="38.62" lengthAdjust="spacingAndGlyphs">CSF3R-ZFP36</text>
<text x="74.30" y="469.92" font-size="5.9" fill="#231f20" stroke="#231f20" stroke-width="0.130" text-anchor="end" textLength="38.63" lengthAdjust="spacingAndGlyphs">S100A9-CTSD</text>
<text x="74.30" y="476.67" font-size="5.9" fill="#231f20" stroke="#231f20" stroke-width="0.130" text-anchor="end" textLength="28.24" lengthAdjust="spacingAndGlyphs">B2M-SELL</text>
<text x="74.30" y="483.42" font-size="5.9" fill="#231f20" stroke="#231f20" stroke-width="0.130" text-anchor="end" textLength="41.87" lengthAdjust="spacingAndGlyphs">KDM4B-CYHR1</text>
<text x="74.30" y="493.27" font-size="6.2" fill="#0c8cb6" stroke="#0c8cb6" stroke-width="0.130" text-anchor="end" font-style="italic" textLength="13.78" lengthAdjust="spacingAndGlyphs">JAK2</text>
<text x="74.30" y="501.00" font-size="6.2" fill="#0c8cb6" stroke="#0c8cb6" stroke-width="0.130" text-anchor="end" font-style="italic" textLength="15.38" lengthAdjust="spacingAndGlyphs">CALR</text>
<text x="74.30" y="508.73" font-size="6.2" fill="#0c8cb6" stroke="#0c8cb6" stroke-width="0.130" text-anchor="end" font-style="italic" textLength="11.86" lengthAdjust="spacingAndGlyphs">MPL</text>
<text x="74.30" y="519.21" font-size="6.4" fill="#0c8cb6" stroke="#0c8cb6" stroke-width="0.130" text-anchor="end" textLength="24.21" lengthAdjust="spacingAndGlyphs">NOTCH1</text>
<text x="74.30" y="526.63" font-size="6.4" fill="#0c8cb6" stroke="#0c8cb6" stroke-width="0.130" text-anchor="end" textLength="19.30" lengthAdjust="spacingAndGlyphs">CSF3R</text>
<text x="74.30" y="534.05" font-size="6.4" fill="#0c8cb6" stroke="#0c8cb6" stroke-width="0.130" text-anchor="end" textLength="14.07" lengthAdjust="spacingAndGlyphs">JAK3</text>
<text x="74.30" y="541.47" font-size="6.4" fill="#231f20" stroke="#231f20" stroke-width="0.130" text-anchor="end" textLength="16.69" lengthAdjust="spacingAndGlyphs">EPOR</text>
<text x="74.30" y="548.89" font-size="6.4" fill="#231f20" stroke="#231f20" stroke-width="0.130" text-anchor="end" textLength="18.66" lengthAdjust="spacingAndGlyphs">SH2B3</text>
<text x="74.30" y="556.31" font-size="6.4" fill="#0c8cb6" stroke="#0c8cb6" stroke-width="0.130" text-anchor="end" textLength="11.45" lengthAdjust="spacingAndGlyphs">CBL</text>
<text x="74.30" y="563.73" font-size="6.4" fill="#231f20" stroke="#231f20" stroke-width="0.130" text-anchor="end" textLength="18.66" lengthAdjust="spacingAndGlyphs">SH2B2</text>
<text x="74.30" y="571.15" font-size="6.4" fill="#231f20" stroke="#231f20" stroke-width="0.130" text-anchor="end" textLength="18.66" lengthAdjust="spacingAndGlyphs">SH2B1</text>
<text x="74.30" y="578.56" font-size="6.4" fill="#0c8cb6" stroke="#0c8cb6" stroke-width="0.130" text-anchor="end" textLength="14.39" lengthAdjust="spacingAndGlyphs">TET2</text>
<text x="74.30" y="585.98" font-size="6.4" fill="#0c8cb6" stroke="#0c8cb6" stroke-width="0.130" text-anchor="end" textLength="24.21" lengthAdjust="spacingAndGlyphs">DNMT3A</text>
<text x="74.30" y="593.40" font-size="6.4" fill="#0c8cb6" stroke="#0c8cb6" stroke-width="0.130" text-anchor="end" textLength="18.33" lengthAdjust="spacingAndGlyphs">ASXL1</text>
<text x="74.30" y="600.82" font-size="6.4" fill="#231f20" stroke="#231f20" stroke-width="0.130" text-anchor="end" textLength="20.29" lengthAdjust="spacingAndGlyphs">JARID2</text>
<text x="74.30" y="608.24" font-size="6.4" fill="#231f20" stroke="#231f20" stroke-width="0.130" text-anchor="end" textLength="12.11" lengthAdjust="spacingAndGlyphs">EED</text>
<text x="74.30" y="615.66" font-size="6.4" fill="#231f20" stroke="#231f20" stroke-width="0.130" text-anchor="end" textLength="15.37" lengthAdjust="spacingAndGlyphs">MTF2</text>
<text x="74.30" y="623.08" font-size="6.4" fill="#0c8cb6" stroke="#0c8cb6" stroke-width="0.130" text-anchor="end" textLength="18.00" lengthAdjust="spacingAndGlyphs">SF3B1</text>
<text x="74.30" y="630.50" font-size="6.4" fill="#0c8cb6" stroke="#0c8cb6" stroke-width="0.130" text-anchor="end" textLength="18.32" lengthAdjust="spacingAndGlyphs">U2AF1</text>
<text x="74.30" y="637.92" font-size="6.4" fill="#0c8cb6" stroke="#0c8cb6" stroke-width="0.130" text-anchor="end" textLength="18.98" lengthAdjust="spacingAndGlyphs">SRSF2</text>
<text x="74.30" y="645.34" font-size="6.4" fill="#231f20" stroke="#231f20" stroke-width="0.130" text-anchor="end" textLength="18.00" lengthAdjust="spacingAndGlyphs">SF3A1</text>
<text x="74.30" y="652.76" font-size="6.4" fill="#0c8cb6" stroke="#0c8cb6" stroke-width="0.130" text-anchor="end" textLength="15.71" lengthAdjust="spacingAndGlyphs">CUX1</text>
<text x="74.30" y="660.18" font-size="6.4" fill="#0c8cb6" stroke="#0c8cb6" stroke-width="0.130" text-anchor="end" textLength="14.07" lengthAdjust="spacingAndGlyphs">TP53</text>
<text x="74.30" y="667.60" font-size="6.4" fill="#0c8cb6" stroke="#0c8cb6" stroke-width="0.130" text-anchor="end" textLength="19.96" lengthAdjust="spacingAndGlyphs">RUNX1</text>
<text x="74.30" y="675.02" font-size="6.4" fill="#231f20" stroke="#231f20" stroke-width="0.130" text-anchor="end" textLength="19.31" lengthAdjust="spacingAndGlyphs">FOXP1</text>
<text x="74.30" y="682.44" font-size="6.4" fill="#231f20" stroke="#231f20" stroke-width="0.130" text-anchor="end" textLength="24.21" lengthAdjust="spacingAndGlyphs">CREBBP</text>
<text x="74.30" y="689.85" font-size="6.4" fill="#231f20" stroke="#231f20" stroke-width="0.130" text-anchor="end" textLength="17.68" lengthAdjust="spacingAndGlyphs">EP300</text>
<text x="74.30" y="697.27" font-size="6.4" fill="#0c8cb6" stroke="#0c8cb6" stroke-width="0.130" text-anchor="end" textLength="11.45" lengthAdjust="spacingAndGlyphs">MLL</text>
<text x="74.30" y="704.69" font-size="6.4" fill="#0c8cb6" stroke="#0c8cb6" stroke-width="0.130" text-anchor="end" textLength="21.82" lengthAdjust="spacingAndGlyphs">PTPN11</text>
<text x="74.30" y="712.11" font-size="6.4" fill="#0c8cb6" stroke="#0c8cb6" stroke-width="0.130" text-anchor="end" textLength="14.40" lengthAdjust="spacingAndGlyphs">ABL1</text>
<text x="74.30" y="719.53" font-size="6.4" fill="#0c8cb6" stroke="#0c8cb6" stroke-width="0.130" text-anchor="end" textLength="17.01" lengthAdjust="spacingAndGlyphs">BCOR</text>
<text x="74.30" y="726.95" font-size="6.4" fill="#0c8cb6" stroke="#0c8cb6" stroke-width="0.130" text-anchor="end" textLength="23.56" lengthAdjust="spacingAndGlyphs">BCORL1</text>
<text x="74.30" y="734.37" font-size="6.4" fill="#231f20" stroke="#231f20" stroke-width="0.130" text-anchor="end" textLength="16.69" lengthAdjust="spacingAndGlyphs">HIF1A</text>
<text x="74.30" y="741.79" font-size="6.4" fill="#0c8cb6" stroke="#0c8cb6" stroke-width="0.130" text-anchor="end" textLength="22.58" lengthAdjust="spacingAndGlyphs">SETBP1</text>
<rect x="37.10" y="485.60" width="3.30" height="85.00" fill="#1d9bc2"/>
<rect x="37.10" y="572.10" width="3.30" height="43.90" fill="#9a5e96"/>
<rect x="37.10" y="617.30" width="3.30" height="29.40" fill="#10998a"/>
<rect x="37.10" y="647.80" width="3.30" height="50.20" fill="#c83b5e"/>
<rect x="37.10" y="699.80" width="3.30" height="43.20" fill="#e8b731"/>
<text x="32.18" y="528.00" font-size="6.6" fill="#231f20" stroke="#231f20" stroke-width="0.130" text-anchor="middle" textLength="50.88" lengthAdjust="spacingAndGlyphs" transform="rotate(-90 32.18 528.00)">Cytokine signaling</text>
<text x="25.08" y="594.30" font-size="6.6" fill="#231f20" stroke="#231f20" stroke-width="0.130" text-anchor="middle" textLength="29.28" lengthAdjust="spacingAndGlyphs" transform="rotate(-90 25.08 594.30)">Epigenetic</text>
<text x="32.28" y="594.30" font-size="6.6" fill="#231f20" stroke="#231f20" stroke-width="0.130" text-anchor="middle" textLength="27.54" lengthAdjust="spacingAndGlyphs" transform="rotate(-90 32.28 594.30)">regulation</text>
<text x="32.28" y="631.40" font-size="6.6" fill="#231f20" stroke="#231f20" stroke-width="0.130" text-anchor="middle" textLength="21.96" lengthAdjust="spacingAndGlyphs" transform="rotate(-90 32.28 631.40)">Splicing</text>
<text x="25.08" y="673.20" font-size="6.6" fill="#231f20" stroke="#231f20" stroke-width="0.130" text-anchor="middle" textLength="36.00" lengthAdjust="spacingAndGlyphs" transform="rotate(-90 25.08 673.20)">Transcription</text>
<text x="32.78" y="673.20" font-size="6.6" fill="#231f20" stroke="#231f20" stroke-width="0.130" text-anchor="middle" textLength="15.68" lengthAdjust="spacingAndGlyphs" transform="rotate(-90 32.78 673.20)">factor</text>
<text x="25.08" y="721.70" font-size="6.6" fill="#231f20" stroke="#231f20" stroke-width="0.130" text-anchor="middle" textLength="15.68" lengthAdjust="spacingAndGlyphs" transform="rotate(-90 25.08 721.70)">Other</text>
<text x="32.78" y="720.80" font-size="6.6" fill="#231f20" stroke="#231f20" stroke-width="0.130" text-anchor="middle" textLength="26.49" lengthAdjust="spacingAndGlyphs" transform="rotate(-90 32.78 720.80)">pathways</text>
<text x="76.70" y="752.10" font-size="6.6" fill="#231f20" stroke="#231f20" stroke-width="0.130" textLength="16.03" lengthAdjust="spacingAndGlyphs">Batch</text>
<rect x="77.10" y="756.10" width="5.60" height="5.50" fill="#0f9a79"/>
<text x="79.90" y="760.60" font-size="5" fill="#222" stroke="#222" stroke-width="0.130" text-anchor="middle">A</text>
<rect x="85.20" y="756.10" width="5.60" height="5.50" fill="#d49bc8"/>
<text x="88.00" y="760.60" font-size="5" fill="#222" stroke="#222" stroke-width="0.130" text-anchor="middle">B</text>
<rect x="92.50" y="756.10" width="5.60" height="5.50" fill="#149cd6"/>
<text x="95.30" y="760.60" font-size="5" fill="#222" stroke="#222" stroke-width="0.130" text-anchor="middle">D</text>
<rect x="99.90" y="756.10" width="5.60" height="5.50" fill="#df8c7b"/>
<text x="102.70" y="760.60" font-size="5" fill="#222" stroke="#222" stroke-width="0.130" text-anchor="middle">E</text>
<rect x="99.90" y="764.00" width="5.60" height="5.30" fill="#c8b73c"/>
<text x="102.70" y="768.40" font-size="5" fill="#222" stroke="#222" stroke-width="0.130" text-anchor="middle">C</text>
<text x="106.80" y="760.90" font-size="5.8" fill="#505050" stroke="#505050" stroke-width="0.130" textLength="42.37" lengthAdjust="spacingAndGlyphs">100 bp paired-end</text>
<text x="108.00" y="768.40" font-size="5.8" fill="#505050" stroke="#505050" stroke-width="0.130" textLength="39.47" lengthAdjust="spacingAndGlyphs">50 bp paired-end</text>
<text x="77.10" y="777.80" font-size="6.6" fill="#231f20" stroke="#231f20" stroke-width="0.130" textLength="27.53" lengthAdjust="spacingAndGlyphs">Diagnosis</text>
<rect x="77.40" y="781.40" width="5.50" height="5.40" fill="#8c9a44"/>
<text x="84.60" y="786.00" font-size="5.8" fill="#505050" stroke="#505050" stroke-width="0.130" textLength="6.67" lengthAdjust="spacingAndGlyphs">ET</text>
<rect x="96.20" y="781.40" width="5.50" height="5.40" fill="#e5a73c"/>
<text x="103.40" y="786.00" font-size="5.8" fill="#505050" stroke="#505050" stroke-width="0.130" textLength="11.02" lengthAdjust="spacingAndGlyphs">PMF</text>
<rect x="77.40" y="789.50" width="5.50" height="5.40" fill="#27a2c4"/>
<text x="84.60" y="794.10" font-size="5.8" fill="#505050" stroke="#505050" stroke-width="0.130" textLength="6.96" lengthAdjust="spacingAndGlyphs">PV</text>
<rect x="96.20" y="789.50" width="5.50" height="5.40" fill="#c8593a"/>
<text x="103.40" y="794.10" font-size="5.8" fill="#505050" stroke="#505050" stroke-width="0.130" textLength="13.34" lengthAdjust="spacingAndGlyphs">sAML</text>
<text x="129.20" y="777.80" font-size="6.6" fill="#231f20" stroke="#231f20" stroke-width="0.130" textLength="10.80" lengthAdjust="spacingAndGlyphs">Sex</text>
<rect x="129.90" y="781.40" width="5.60" height="5.40" fill="#c8434f"/>
<text x="137.40" y="786.00" font-size="5.8" fill="#505050" stroke="#505050" stroke-width="0.130" textLength="3.19" lengthAdjust="spacingAndGlyphs">F</text>
<rect x="129.90" y="789.50" width="5.60" height="5.40" fill="#1ea0c9"/>
<text x="137.40" y="794.10" font-size="5.8" fill="#505050" stroke="#505050" stroke-width="0.130" textLength="4.35" lengthAdjust="spacingAndGlyphs">M</text>
<text x="174.70" y="752.10" font-size="6.6" fill="#231f20" stroke="#231f20" stroke-width="0.130" textLength="54.50" lengthAdjust="spacingAndGlyphs">SNP 6.0 aberrations</text>
<rect x="175.00" y="757.10" width="6.30" height="6.20" fill="#f6c73a"/>
<text x="184.10" y="762.10" font-size="5.8" fill="#505050" stroke="#505050" stroke-width="0.130" textLength="11.02" lengthAdjust="spacingAndGlyphs">UPD</text>
<rect x="175.00" y="765.10" width="6.30" height="6.20" fill="#f6c73a" stroke="#3a3a2a" stroke-width="0.8"/>
<text x="184.10" y="770.10" font-size="5.8" fill="#505050" stroke="#505050" stroke-width="0.130" textLength="18.28" lengthAdjust="spacingAndGlyphs">9p UPD</text>
<rect x="175.00" y="773.00" width="6.30" height="6.20" fill="#f6c73a"/>
<circle cx="178.15" cy="776.1" r="1.1" fill="#176f73"/>
<text x="184.10" y="778.00" font-size="5.8" fill="#505050" stroke="#505050" stroke-width="0.130" textLength="21.18" lengthAdjust="spacingAndGlyphs">19p UPD</text>
<rect x="175.00" y="781.00" width="6.30" height="6.20" fill="#3aa2d4"/>
<text x="184.10" y="786.00" font-size="5.8" fill="#505050" stroke="#505050" stroke-width="0.130" textLength="19.15" lengthAdjust="spacingAndGlyphs">Deletion</text>
<rect x="175.00" y="789.40" width="6.30" height="6.20" fill="#3aa2d4"/>
<circle cx="178.15" cy="792.5" r="1.1" fill="#fff" stroke="#555" stroke-width="0.3"/>
<text x="184.10" y="794.40" font-size="5.8" fill="#505050" stroke="#505050" stroke-width="0.130" textLength="28.44" lengthAdjust="spacingAndGlyphs">13q deletion</text>
<rect x="218.40" y="758.20" width="6.10" height="5.60" fill="#d16f4e"/>
<text x="226.50" y="763.10" font-size="5.8" fill="#505050" stroke="#505050" stroke-width="0.130" textLength="11.03" lengthAdjust="spacingAndGlyphs">Gain</text>
<rect x="218.40" y="766.00" width="6.10" height="5.60" fill="#d16f4e"/>
<path d="M221.45,767.3 L222.8,770.2 L220.1,770.2 Z" fill="#7a7a20"/>
<text x="226.50" y="770.90" font-size="5.8" fill="#505050" stroke="#505050" stroke-width="0.130" textLength="17.12" lengthAdjust="spacingAndGlyphs">1q gain</text>
<rect x="218.40" y="773.20" width="6.10" height="5.60" fill="#d16f4e"/>
<path d="M219.3,774.8000000000001H223.6M219.3,776.0H223.6M219.3,777.2H223.6" stroke="#f0c0a8" stroke-width="0.45"/>
<text x="226.50" y="778.10" font-size="5.8" fill="#505050" stroke="#505050" stroke-width="0.130" textLength="18.36" lengthAdjust="spacingAndGlyphs">Trisomy</text>
<text x="256.80" y="752.00" font-size="6.6" fill="#231f20" stroke="#231f20" stroke-width="0.130" textLength="53.20" lengthAdjust="spacingAndGlyphs">Rearrangment type</text>
<text x="256.80" y="760.20" font-size="6.6" fill="#231f20" stroke="#231f20" stroke-width="0.130" textLength="41.82" lengthAdjust="spacingAndGlyphs">(Fusion genes)</text>
<rect x="257.80" y="765.80" width="5.70" height="5.30" fill="#2aa0c8"/>
<text x="265.00" y="770.40" font-size="5.8" fill="#505050" stroke="#505050" stroke-width="0.130" textLength="19.15" lengthAdjust="spacingAndGlyphs">Deletion</text>
<rect x="257.80" y="773.50" width="5.70" height="5.30" fill="#c8553a"/>
<text x="265.00" y="778.10" font-size="5.8" fill="#505050" stroke="#505050" stroke-width="0.130" textLength="25.82" lengthAdjust="spacingAndGlyphs">Duplication</text>
<rect x="257.80" y="781.20" width="5.70" height="5.30" fill="#8a9a3c"/>
<text x="265.00" y="785.80" font-size="5.8" fill="#505050" stroke="#505050" stroke-width="0.130" textLength="21.18" lengthAdjust="spacingAndGlyphs">Inversion</text>
<rect x="257.80" y="789.00" width="5.70" height="5.30" fill="#e5a535"/>
<text x="265.00" y="793.60" font-size="5.8" fill="#505050" stroke="#505050" stroke-width="0.130" textLength="31.14" lengthAdjust="spacingAndGlyphs">Translocation</text>
<text x="328.80" y="751.60" font-size="6.6" fill="#231f20" stroke="#231f20" stroke-width="0.130" textLength="36.48" lengthAdjust="spacingAndGlyphs">(MPN driver) </text>
<text x="366.00" y="751.60" font-size="6.6" fill="#231f20" stroke="#231f20" stroke-width="0.130" font-style="italic" textLength="27.18" lengthAdjust="spacingAndGlyphs">Mutations</text>
<rect x="330.40" y="758.20" width="6.60" height="5.40" fill="#121212"/>
<text x="339.60" y="762.90" font-size="5.8" fill="#505050" stroke="#505050" stroke-width="0.130" font-style="italic" textLength="28.94" lengthAdjust="spacingAndGlyphs">JAK2-V617F</text>
<rect x="330.40" y="765.80" width="6.60" height="5.40" fill="#121212"/>
<circle cx="333.7" cy="768.5" r="0.9" fill="#fff"/>
<text x="339.60" y="770.50" font-size="5.8" fill="#505050" stroke="#505050" stroke-width="0.130" font-style="italic" textLength="31.78" lengthAdjust="spacingAndGlyphs">JAK2 exon 12</text>
<rect x="330.40" y="773.20" width="6.60" height="5.40" fill="#121212"/>
<text x="339.60" y="777.90" font-size="5.8" fill="#505050" stroke="#505050" stroke-width="0.130" textLength="43.12" lengthAdjust="spacingAndGlyphs">CALR type 2 (ins5)</text>
<rect x="330.40" y="780.90" width="6.60" height="5.40" fill="#121212"/>
<circle cx="333.7" cy="783.6" r="0.9" fill="#fff"/>
<text x="339.60" y="785.60" font-size="5.8" fill="#505050" stroke="#505050" stroke-width="0.130" textLength="46.24" lengthAdjust="spacingAndGlyphs">CALR type 1 (del52)</text>
<rect x="330.40" y="788.50" width="6.60" height="5.40" fill="#121212"/>
<circle cx="333.7" cy="791.2" r="0.95" fill="#f2c21a"/>
<text x="339.60" y="793.20" font-size="5.8" fill="#505050" stroke="#505050" stroke-width="0.130" textLength="36.31" lengthAdjust="spacingAndGlyphs">CALR type 7-33</text>
<text x="415.00" y="752.00" font-size="6.6" fill="#231f20" stroke="#231f20" stroke-width="0.130" textLength="37.64" lengthAdjust="spacingAndGlyphs">Mutation type</text>
<rect x="416.10" y="757.10" width="4.80" height="5.20" fill="#22a0cc"/>
<text x="423.00" y="761.60" font-size="5.8" fill="#505050" stroke="#505050" stroke-width="0.130" textLength="44.39" lengthAdjust="spacingAndGlyphs">Frameshift deletion</text>
<rect x="416.10" y="764.80" width="4.80" height="5.20" fill="#c8434f"/>
<text x="423.00" y="769.30" font-size="5.8" fill="#505050" stroke="#505050" stroke-width="0.130" textLength="45.83" lengthAdjust="spacingAndGlyphs">Frameshift insertion</text>
<rect x="416.10" y="772.50" width="4.80" height="5.20" fill="#8a9a3c"/>
<text x="423.00" y="777.00" font-size="5.8" fill="#505050" stroke="#505050" stroke-width="0.130" textLength="51.06" lengthAdjust="spacingAndGlyphs">Nonsynonmyous SNV</text>
<rect x="416.10" y="780.20" width="4.80" height="5.20" fill="#e5a535"/>
<text x="423.00" y="784.70" font-size="5.8" fill="#505050" stroke="#505050" stroke-width="0.130" textLength="20.61" lengthAdjust="spacingAndGlyphs">Stopgain</text>
<text x="484.20" y="752.00" font-size="6.6" fill="#231f20" stroke="#231f20" stroke-width="0.130" textLength="11.60" lengthAdjust="spacingAndGlyphs">SIFT</text>
<text x="484.40" y="760.20" font-size="6.6" fill="#231f20" stroke="#231f20" stroke-width="0.130" textLength="14.30" lengthAdjust="spacingAndGlyphs">score</text>
<rect x="485.90" y="763.00" width="3.20" height="3.30" fill="#e2dede"/>
<rect x="485.90" y="767.40" width="3.20" height="3.30" fill="#bcb8b8"/>
<rect x="485.90" y="771.70" width="3.20" height="3.30" fill="#929090"/>
<rect x="485.90" y="776.00" width="3.20" height="3.30" fill="#6c6a6a"/>
<rect x="485.90" y="780.90" width="3.20" height="3.30" fill="#3c3a3a"/>
<path d="M493.1,765.5 V783.5" stroke="#555" stroke-width="0.5"/>
<path d="M491.7,766.3 L494.5,766.3 L493.1,763.0 Z M491.7,782.8 L494.5,782.8 L493.1,786.0 Z" fill="#111"/>
<text x="496.60" y="767.00" font-size="5.2" fill="#231f20" stroke="#231f20" stroke-width="0.130">1</text>
<text x="496.60" y="785.80" font-size="5.2" fill="#231f20" stroke="#231f20" stroke-width="0.130">0</text>
<g shape-rendering="crispEdges">
<rect x="0.00" y="1.00" width="520.00" height="1.00" fill="#9c9c9c"/>
<rect x="1.00" y="0.00" width="1.00" height="805.00" fill="#8c8c8c"/>
<rect x="0.00" y="803.00" width="520.00" height="1.00" fill="#787878"/>
<rect x="0.00" y="0.00" width="520.00" height="1.00" fill="#000"/>
<rect x="0.00" y="0.00" width="1.00" height="805.00" fill="#000"/>
<rect x="518.00" y="0.00" width="2.00" height="805.00" fill="#5c5c5c"/>
<rect x="0.00" y="804.00" width="520.00" height="1.00" fill="#000"/>
</g>
</svg></body></html>
